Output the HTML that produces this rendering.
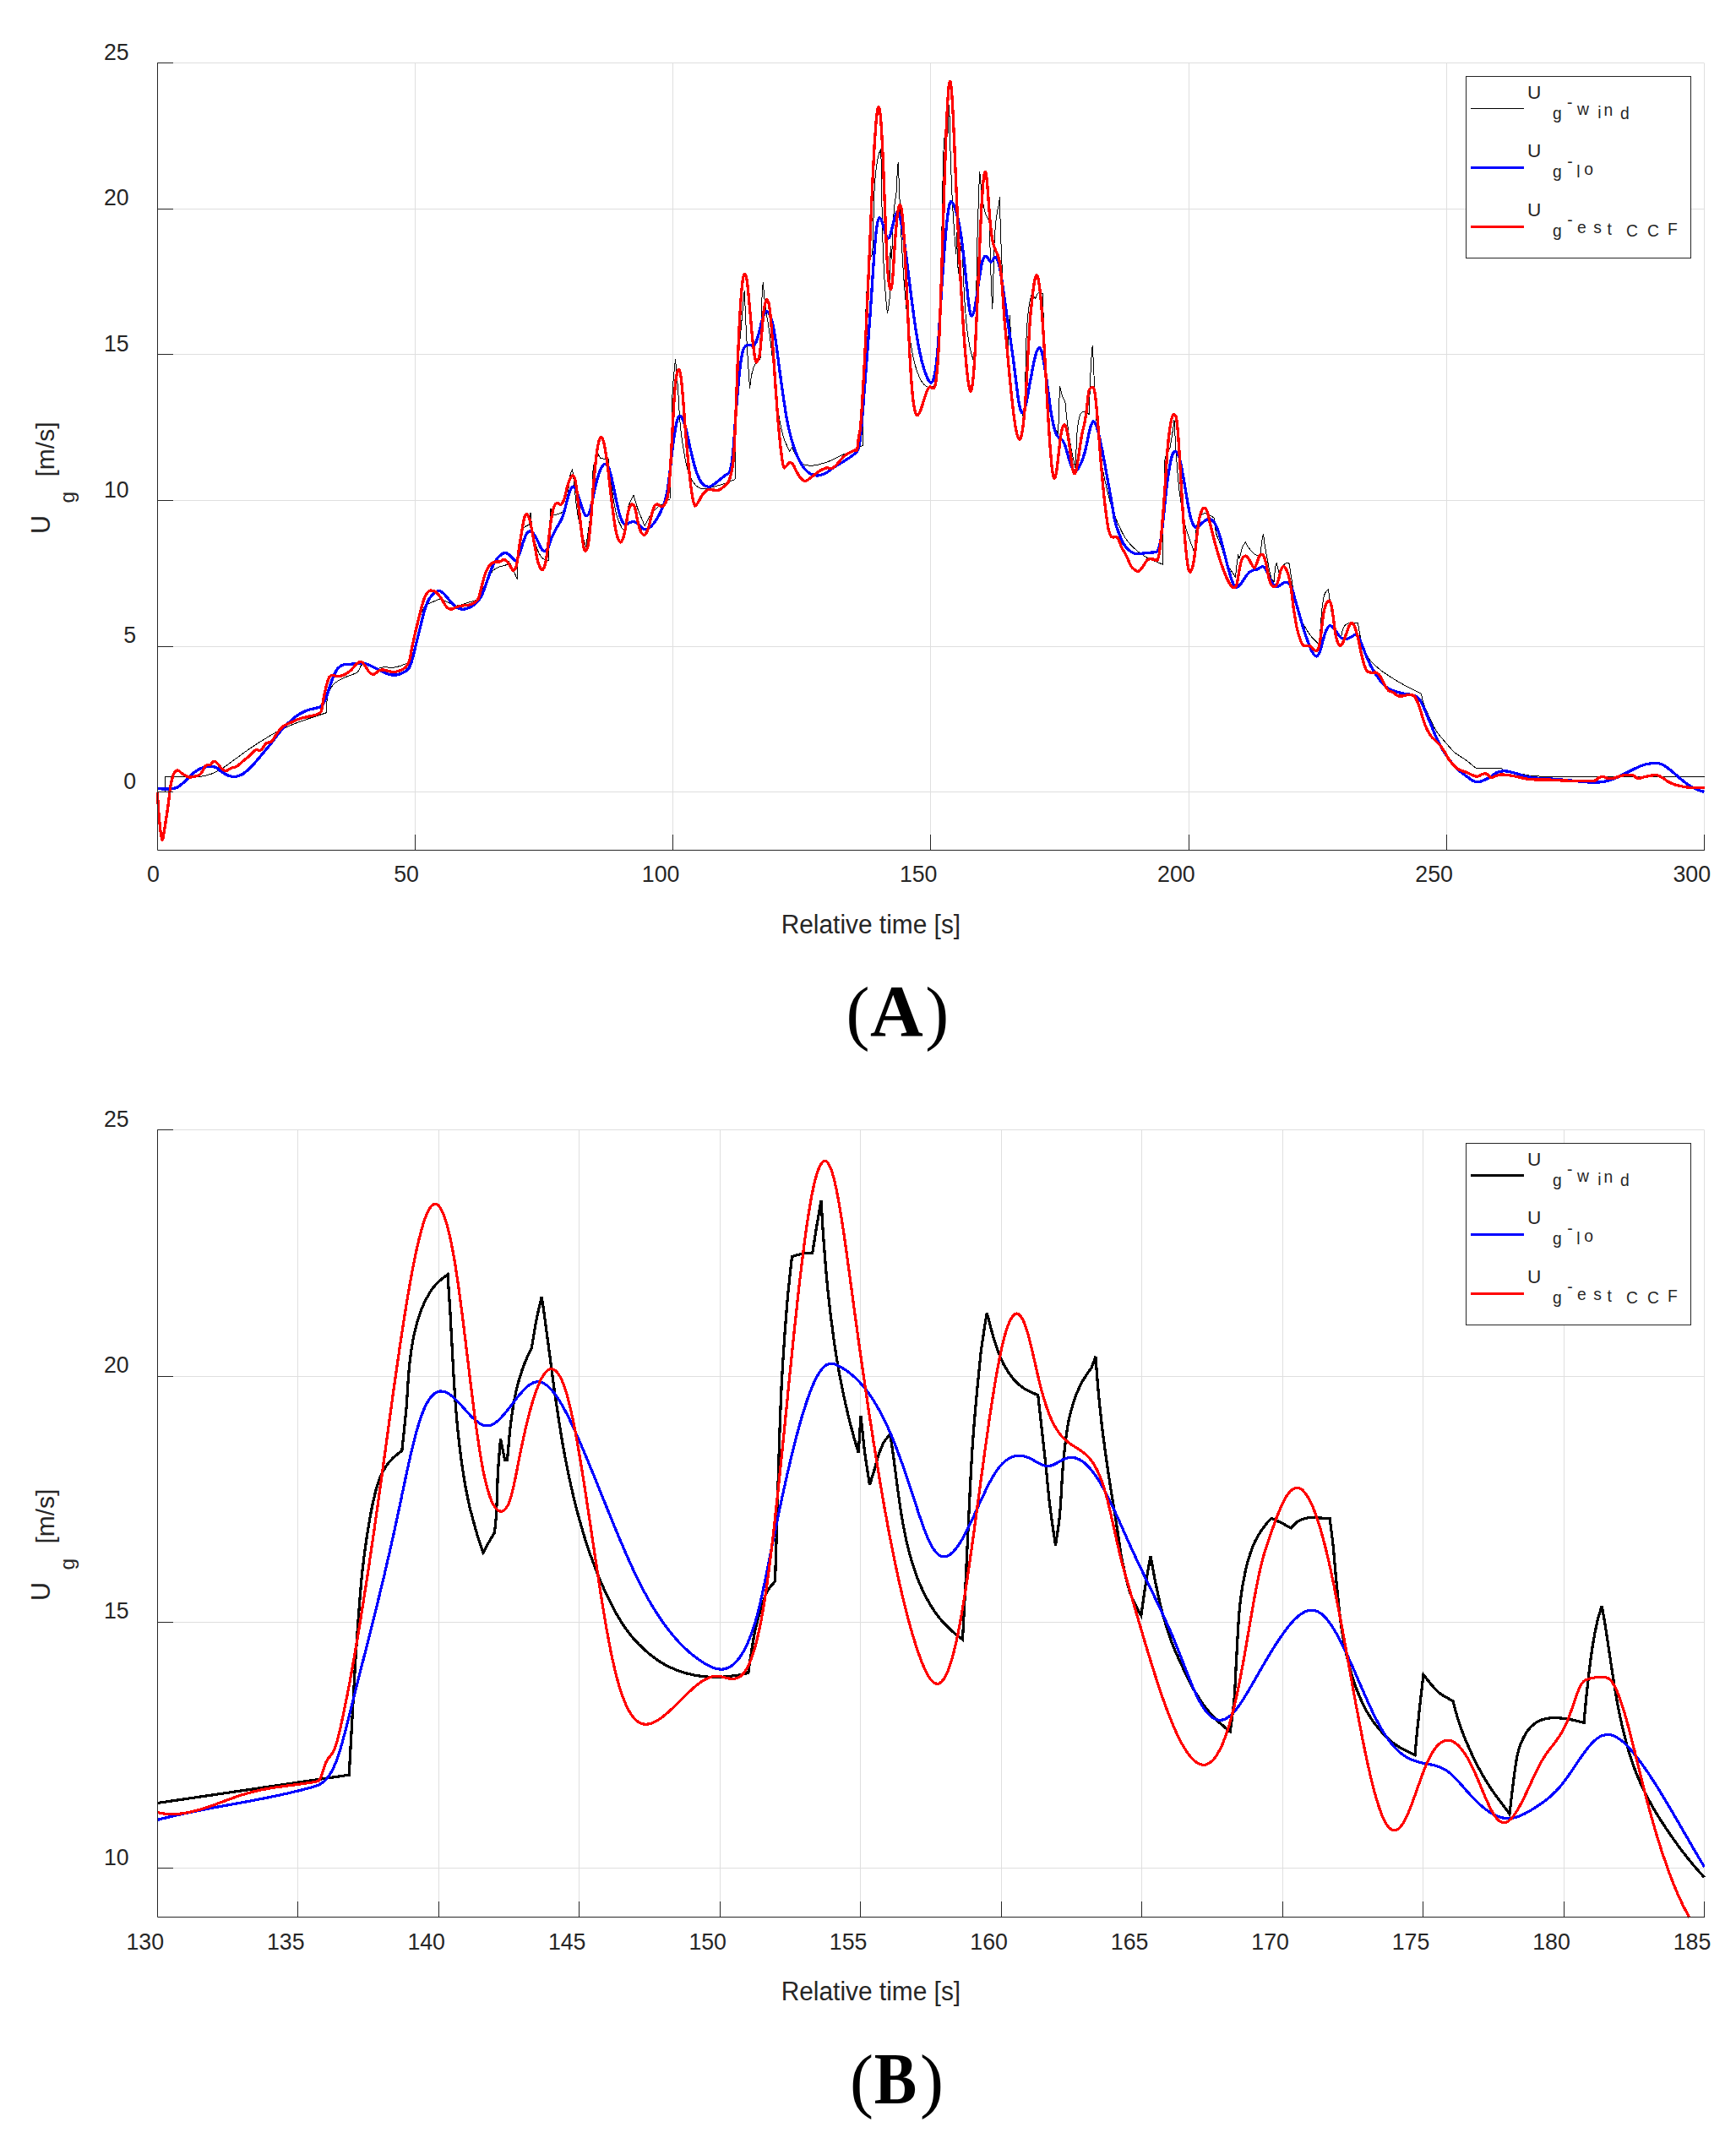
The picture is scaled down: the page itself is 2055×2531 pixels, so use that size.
<!DOCTYPE html>
<html><head><meta charset="utf-8"><title>Figure</title>
<style>html,body{margin:0;padding:0;background:#fff}svg{display:block}</style></head><body>
<svg width="2055" height="2531" viewBox="0 0 2055 2531">
<rect width="2055" height="2531" fill="#fff"/>
<line x1="491.5" y1="74.7" x2="491.5" y2="1006.9" stroke="#dfdfdf" stroke-width="1"/>
<line x1="796.5" y1="74.7" x2="796.5" y2="1006.9" stroke="#dfdfdf" stroke-width="1"/>
<line x1="1101.5" y1="74.7" x2="1101.5" y2="1006.9" stroke="#dfdfdf" stroke-width="1"/>
<line x1="1407.5" y1="74.7" x2="1407.5" y2="1006.9" stroke="#dfdfdf" stroke-width="1"/>
<line x1="1712.5" y1="74.7" x2="1712.5" y2="1006.9" stroke="#dfdfdf" stroke-width="1"/>
<line x1="2017.5" y1="74.7" x2="2017.5" y2="1006.9" stroke="#dfdfdf" stroke-width="1"/>
<line x1="186.3" y1="937.5" x2="2017.4" y2="937.5" stroke="#dfdfdf" stroke-width="1"/>
<line x1="186.3" y1="765.5" x2="2017.4" y2="765.5" stroke="#dfdfdf" stroke-width="1"/>
<line x1="186.3" y1="592.5" x2="2017.4" y2="592.5" stroke="#dfdfdf" stroke-width="1"/>
<line x1="186.3" y1="419.5" x2="2017.4" y2="419.5" stroke="#dfdfdf" stroke-width="1"/>
<line x1="186.3" y1="247.5" x2="2017.4" y2="247.5" stroke="#dfdfdf" stroke-width="1"/>
<line x1="186.3" y1="74.5" x2="2017.4" y2="74.5" stroke="#dfdfdf" stroke-width="1"/>
<line x1="352.5" y1="1337.8" x2="352.5" y2="2269.8" stroke="#dfdfdf" stroke-width="1"/>
<line x1="519.5" y1="1337.8" x2="519.5" y2="2269.8" stroke="#dfdfdf" stroke-width="1"/>
<line x1="685.5" y1="1337.8" x2="685.5" y2="2269.8" stroke="#dfdfdf" stroke-width="1"/>
<line x1="852.5" y1="1337.8" x2="852.5" y2="2269.8" stroke="#dfdfdf" stroke-width="1"/>
<line x1="1018.5" y1="1337.8" x2="1018.5" y2="2269.8" stroke="#dfdfdf" stroke-width="1"/>
<line x1="1185.5" y1="1337.8" x2="1185.5" y2="2269.8" stroke="#dfdfdf" stroke-width="1"/>
<line x1="1351.5" y1="1337.8" x2="1351.5" y2="2269.8" stroke="#dfdfdf" stroke-width="1"/>
<line x1="1518.5" y1="1337.8" x2="1518.5" y2="2269.8" stroke="#dfdfdf" stroke-width="1"/>
<line x1="1684.5" y1="1337.8" x2="1684.5" y2="2269.8" stroke="#dfdfdf" stroke-width="1"/>
<line x1="1851.5" y1="1337.8" x2="1851.5" y2="2269.8" stroke="#dfdfdf" stroke-width="1"/>
<line x1="2017.5" y1="1337.8" x2="2017.5" y2="2269.8" stroke="#dfdfdf" stroke-width="1"/>
<line x1="186.4" y1="2211.5" x2="2017.6" y2="2211.5" stroke="#dfdfdf" stroke-width="1"/>
<line x1="186.4" y1="1920.5" x2="2017.6" y2="1920.5" stroke="#dfdfdf" stroke-width="1"/>
<line x1="186.4" y1="1629.5" x2="2017.6" y2="1629.5" stroke="#dfdfdf" stroke-width="1"/>
<line x1="186.4" y1="1337.5" x2="2017.6" y2="1337.5" stroke="#dfdfdf" stroke-width="1"/>
<clipPath id="clipA"><rect x="184.8" y="73.7" width="1834.1" height="934.2"/></clipPath>
<g clip-path="url(#clipA)" fill="none" stroke-linejoin="round" stroke-linecap="butt" shape-rendering="crispEdges">
<path d="M186.2 937.5L195.2 937.5L195.8 919.2C209.7 919.2 223.7 920.0 237.5 919.2C241.8 919.0 246.0 917.7 250.0 916.2C254.3 914.6 258.6 912.5 262.5 910.0C268.6 906.2 274.2 901.7 280.0 897.5C285.8 893.3 291.6 889.0 297.5 885.0C303.2 881.1 309.1 877.3 315.0 873.8C320.7 870.3 326.5 866.7 332.5 863.8C338.2 860.9 344.1 858.6 350.0 856.2C355.8 854.0 361.6 852.0 367.5 850.0C373.7 847.9 380.0 845.8 386.2 843.8C386.5 839.2 386.4 834.5 387.0 830.0C387.6 825.8 388.4 821.4 390.0 817.5C391.1 814.8 393.0 812.2 395.0 810.0C396.4 808.5 398.2 807.3 400.0 806.2C403.2 804.4 406.6 802.7 410.0 801.2C413.7 799.7 417.5 798.4 421.2 797.0C422.1 796.3 423.2 795.9 423.8 795.0C425.3 792.7 426.3 790.0 427.5 787.5C429.2 787.1 430.9 786.1 432.5 786.2C435.0 786.5 437.5 787.9 440.0 788.8C442.5 789.6 445.0 791.1 447.5 791.2C450.0 791.4 452.5 789.6 455.0 789.5C457.5 789.4 460.0 790.6 462.5 790.5C465.8 790.4 469.3 789.6 472.5 788.8C475.9 787.8 479.2 786.2 482.5 785.0C483.7 781.7 485.5 778.5 486.2 775.0C488.8 763.5 489.6 751.4 492.5 740.0C493.8 734.8 496.2 729.8 498.8 725.0C500.4 721.8 502.4 718.6 505.0 716.2C507.0 714.4 509.9 713.6 512.5 712.5C515.3 711.3 518.4 709.0 521.2 709.5C527.5 710.5 533.6 716.3 540.0 717.0C544.9 717.5 550.1 714.5 555.0 713.0C558.8 711.8 563.7 711.4 566.2 708.8C569.5 705.4 570.3 699.5 572.5 695.0C574.9 690.0 576.9 684.6 580.0 680.0C581.9 677.1 584.5 674.2 587.5 672.5C591.6 670.2 597.2 670.0 601.2 668.0C602.2 667.5 602.0 664.5 602.5 665.0C604.1 666.8 605.9 671.6 607.5 675.0C609.2 678.7 610.8 682.5 612.5 686.2C612.9 674.2 612.3 661.9 613.8 650.0C614.8 641.5 616.8 632.5 620.0 625.0C620.9 622.9 624.2 622.5 626.2 621.2L628.0 607.0C628.7 613.0 629.0 619.1 630.0 625.0C631.3 632.6 632.7 640.2 635.0 647.5C636.4 651.9 638.5 656.4 641.2 660.0C642.7 661.9 645.3 662.7 647.5 663.8C648.0 664.0 648.7 663.8 649.2 663.8C649.7 650.8 649.9 637.9 650.5 625.0C650.8 617.5 651.5 610.0 652.0 602.5C652.6 604.6 652.4 607.7 653.8 608.8C655.1 609.8 658.0 609.2 660.0 608.8C662.2 608.3 664.2 607.1 666.2 606.2C667.9 600.8 670.1 595.5 671.2 590.0C673.1 581.0 673.4 571.6 675.0 562.5C675.4 560.1 676.7 557.8 677.5 555.5C678.3 562.0 679.3 568.5 680.0 575.0C680.9 583.3 681.3 591.7 682.5 600.0C683.8 609.2 685.4 618.5 687.5 627.5C689.1 634.3 691.7 640.8 693.8 647.5C695.8 631.7 698.5 615.9 700.0 600.0C701.5 584.2 700.5 568.1 702.5 552.5C703.2 547.3 706.2 542.5 708.0 537.5C709.1 539.2 709.6 541.8 711.2 542.5C713.6 543.6 717.1 542.8 720.0 543.0C721.2 553.7 722.2 564.4 723.8 575.0C725.5 586.7 727.1 598.6 730.0 610.0C731.3 615.2 733.6 620.4 736.2 625.0C737.0 626.3 738.8 626.7 740.0 627.5C741.2 618.3 741.6 608.9 743.8 600.0C744.9 595.2 747.9 590.8 750.0 586.2C751.7 591.7 753.1 597.2 755.0 602.5C757.5 609.3 760.5 615.8 763.2 622.5C765.5 618.3 767.4 613.9 770.0 610.0C772.1 606.8 774.7 603.8 777.5 601.2C779.7 599.2 782.5 597.9 785.0 596.2C787.7 594.4 790.3 592.6 793.0 590.8C793.4 577.2 793.9 563.6 794.2 550.0C795.0 520.8 795.0 491.6 796.2 462.5C796.8 450.0 798.4 437.5 799.5 425.0C800.5 436.7 801.6 448.3 802.5 460.0C803.5 473.3 803.8 486.7 805.0 500.0C805.9 510.0 807.2 520.1 808.8 530.0C810.1 538.4 811.5 546.9 813.8 555.0C815.2 560.2 817.2 565.5 820.0 570.0C821.8 573.0 824.6 575.8 827.5 577.5C829.6 578.7 832.5 578.9 835.0 578.8C838.4 578.5 841.7 577.2 845.0 576.2C849.2 575.1 853.4 573.9 857.5 572.5C861.7 571.0 865.8 569.2 870.0 567.5C870.4 545.0 870.7 522.5 871.2 500.0C872.0 469.2 872.9 438.3 873.8 407.5L876.2 400.0L881.2 343.8C882.1 362.5 882.7 381.3 883.8 400.0C884.8 420.0 886.3 440.0 887.5 460.0C888.3 454.2 888.8 448.2 890.0 442.5C890.8 438.7 891.9 434.6 893.8 431.2C895.4 428.4 898.3 426.2 900.5 423.8C900.8 403.3 900.9 382.9 901.5 362.5C901.8 353.1 902.7 343.7 903.2 334.2C904.2 344.5 905.0 354.8 906.2 365.0C907.2 372.5 909.0 380.0 910.0 387.5C911.9 401.6 913.4 415.8 915.0 430.0C917.2 449.2 918.5 468.4 921.2 487.5C922.7 497.6 924.7 507.7 927.5 517.5C929.1 523.3 932.2 528.7 934.5 534.2L937.5 530.0C938.7 532.5 939.9 535.1 941.2 537.5C943.2 540.9 944.8 544.9 947.5 547.5C949.4 549.3 952.4 550.3 955.0 550.8C958.2 551.3 961.7 551.3 965.0 550.8C970.0 550.0 974.8 548.2 979.7 546.9L1021.4 527.2C1021.8 502.4 1022.2 477.6 1022.6 452.8C1023.0 432.8 1023.4 412.8 1024.0 392.8C1024.2 383.9 1024.6 374.9 1025.0 366.0C1025.4 356.3 1025.9 346.5 1026.5 336.8C1026.9 331.0 1027.3 325.2 1027.9 319.5C1028.3 316.5 1028.8 313.6 1029.4 310.7C1029.8 308.6 1030.3 306.6 1030.9 304.6C1031.5 303.0 1032.2 301.4 1032.8 299.7C1033.1 290.0 1033.5 280.3 1033.8 270.6C1034.0 260.5 1034.1 250.4 1034.4 240.3C1034.7 232.8 1035.0 225.3 1035.5 217.8C1035.9 212.0 1036.4 206.2 1037.1 200.4C1037.5 196.6 1038.1 192.8 1038.8 189.1C1039.3 186.6 1039.8 184.2 1040.6 181.8C1041.2 179.8 1042.0 177.9 1042.8 176.0C1043.0 185.1 1043.2 194.2 1043.3 203.3C1043.5 215.7 1043.7 228.1 1043.9 240.4C1044.2 252.8 1044.4 265.3 1044.7 277.7C1045.1 289.0 1045.4 300.4 1046.0 311.7C1046.3 320.0 1046.8 328.4 1047.4 336.7C1047.9 345.1 1048.7 353.5 1049.5 361.9C1049.7 365.0 1050.1 368.1 1050.5 371.2C1050.9 368.7 1051.3 366.2 1051.7 363.8C1052.1 361.5 1052.5 359.3 1052.9 357.1C1053.1 352.8 1053.2 348.5 1053.3 344.2C1053.5 334.3 1053.5 324.4 1053.7 314.6C1053.8 306.8 1054.0 299.1 1054.2 291.3L1055.1 306.0L1055.7 306.0C1056.0 296.5 1056.2 287.0 1056.6 277.6C1056.8 271.1 1057.2 264.6 1057.6 258.2C1057.9 253.3 1058.4 248.4 1058.9 243.5C1059.2 240.5 1059.6 237.5 1060.0 234.6C1060.3 232.3 1060.6 230.1 1061.0 227.9C1061.3 221.2 1061.6 214.5 1062.0 207.9C1062.3 202.4 1062.8 197.0 1063.2 191.6C1063.4 198.0 1063.7 204.3 1064.0 210.7C1064.4 219.2 1064.7 227.6 1065.0 236.0C1065.4 244.9 1065.8 253.8 1066.2 262.7C1066.7 275.1 1067.3 287.4 1068.0 299.8C1068.6 311.1 1069.3 322.5 1070.2 333.8C1070.8 342.7 1071.7 351.6 1072.5 360.5C1072.9 365.0 1073.3 369.4 1073.8 373.9C1074.6 380.3 1075.3 386.8 1076.2 393.2C1077.2 400.7 1078.3 408.1 1079.6 415.5C1080.6 421.0 1081.7 426.5 1083.2 431.9C1084.5 436.5 1086.0 441.2 1087.9 445.7C1089.0 448.4 1090.5 451.0 1092.2 453.4C1093.4 455.0 1095.0 456.5 1096.7 457.4C1098.0 458.2 1099.7 458.7 1101.2 458.6C1102.8 458.6 1104.4 457.8 1105.9 457.1C1106.7 456.8 1107.3 456.1 1108.0 455.6C1108.2 451.6 1108.3 447.5 1108.5 443.5C1108.9 436.6 1109.1 429.6 1109.7 422.7C1110.3 414.8 1110.9 406.9 1112.0 399.0C1112.3 396.4 1113.2 393.9 1113.8 391.3C1114.0 373.2 1114.2 355.0 1114.3 336.8C1114.5 322.0 1114.6 307.2 1114.7 292.3C1114.9 277.5 1115.1 262.7 1115.3 247.9C1115.6 230.6 1116.0 213.3 1116.4 196.0C1116.7 185.2 1117.1 174.3 1117.5 163.4C1118.2 162.8 1118.9 162.0 1119.8 161.5C1120.4 161.1 1121.2 161.0 1121.9 160.7C1122.2 155.2 1122.5 149.7 1122.7 144.2C1123.1 137.5 1123.4 130.8 1123.8 124.1C1124.0 133.8 1124.1 143.4 1124.4 153.0C1124.6 164.9 1124.9 176.7 1125.3 188.6C1125.7 200.0 1126.1 211.4 1126.6 222.7C1127.0 231.2 1127.4 239.6 1127.9 248.0C1128.4 256.3 1128.9 264.6 1129.5 273.0C1129.9 278.4 1130.4 283.9 1130.8 289.3C1131.2 293.3 1131.5 297.3 1131.9 301.2L1132.4 275.3C1132.7 283.9 1132.9 292.6 1133.3 301.2C1133.6 308.7 1134.0 316.2 1134.3 323.8C1134.7 320.2 1135.0 316.6 1135.3 313.1C1135.7 309.6 1135.9 306.2 1136.3 302.7C1136.6 299.7 1136.9 296.8 1137.4 293.8C1137.7 291.8 1138.3 289.9 1138.8 287.9C1139.1 294.1 1139.4 300.4 1139.6 306.6C1139.9 314.1 1140.2 321.6 1140.5 329.1C1140.9 336.7 1141.2 344.3 1141.6 351.9C1142.0 358.4 1142.4 364.9 1143.0 371.4C1143.5 378.2 1144.2 385.0 1145.0 391.8C1145.7 397.1 1146.5 402.3 1147.4 407.5C1148.1 411.5 1149.0 415.4 1150.0 419.3C1150.9 422.5 1152.1 425.7 1153.2 428.9C1153.5 430.0 1154.1 431.0 1154.5 432.1C1154.7 419.1 1155.0 406.1 1155.2 393.2C1155.4 379.3 1155.5 365.5 1155.7 351.6C1156.1 331.8 1156.3 312.0 1156.7 292.3C1157.2 272.5 1157.8 252.8 1158.4 233.1C1158.6 225.7 1159.0 218.3 1159.4 211.0C1159.5 208.3 1159.6 205.6 1159.8 203.0C1160.0 205.6 1160.2 208.2 1160.4 210.8C1160.8 215.7 1161.2 220.7 1161.7 225.7C1162.2 230.1 1162.7 234.6 1163.4 239.0C1164.0 242.5 1164.7 246.0 1165.6 249.4C1166.1 251.6 1166.8 253.9 1167.8 255.9C1168.6 257.6 1169.8 259.2 1170.9 260.8C1171.1 267.3 1171.3 273.9 1171.6 280.5C1171.9 289.4 1172.2 298.3 1172.5 307.2C1172.8 317.0 1173.0 326.9 1173.4 336.8C1173.8 346.7 1174.2 356.6 1174.7 366.4C1175.0 359.2 1175.4 351.9 1175.6 344.6C1175.9 333.1 1176.0 321.5 1176.3 309.9C1176.6 300.5 1176.8 291.0 1177.3 281.5C1177.6 275.8 1178.2 270.0 1178.7 264.2C1179.0 260.9 1179.5 257.6 1180.0 254.3C1180.3 251.8 1180.8 249.3 1181.3 246.9C1181.6 245.1 1182.1 243.4 1182.5 241.7L1183.4 233.5C1183.5 240.7 1183.7 247.9 1183.9 255.1C1184.2 265.0 1184.5 274.8 1184.8 284.7C1185.2 294.7 1185.6 304.7 1186.1 314.6C1186.4 322.1 1186.8 329.6 1187.2 337.0C1187.6 344.5 1187.9 351.9 1188.3 359.4C1188.5 364.2 1188.7 369.0 1189.0 373.8C1189.5 382.0 1190.0 390.1 1190.7 398.3C1191.2 402.8 1191.9 407.2 1192.6 411.7C1192.8 412.9 1193.0 414.1 1193.2 415.3C1193.6 407.9 1193.9 400.5 1194.2 393.1C1194.6 386.6 1194.9 380.1 1195.3 373.5C1195.6 379.0 1195.9 384.5 1196.2 390.0C1196.7 397.4 1197.1 404.8 1197.8 412.2C1198.4 419.7 1199.1 427.2 1200.0 434.7C1200.6 440.2 1201.4 445.7 1202.2 451.2C1202.9 455.9 1203.6 460.5 1204.3 465.2C1204.5 466.1 1204.6 467.0 1204.8 468.0C1205.5 471.5 1206.1 475.1 1206.9 478.7C1207.7 481.9 1208.5 485.2 1209.5 488.4C1210.4 491.3 1211.6 494.0 1212.6 496.8C1212.9 489.6 1213.2 482.3 1213.4 475.0C1213.7 465.0 1213.8 455.0 1213.9 445.0C1214.2 432.5 1214.3 420.0 1214.7 407.4C1215.0 399.1 1215.4 390.8 1216.0 382.5C1216.3 377.2 1216.9 372.0 1217.5 366.8C1217.9 363.7 1218.4 360.6 1219.0 357.5C1219.4 355.1 1220.0 352.7 1220.6 350.3C1220.9 349.3 1221.2 348.2 1221.5 347.2C1222.2 348.2 1222.9 349.1 1223.6 350.1C1224.3 351.3 1225.0 352.6 1225.7 353.8C1226.2 352.4 1226.5 350.8 1227.2 349.4C1227.7 348.4 1228.4 347.3 1229.3 346.9C1230.0 346.5 1231.2 346.8 1232.1 346.9C1232.8 347.0 1233.5 347.3 1234.2 347.5C1234.4 353.7 1234.7 360.0 1234.9 366.2C1235.2 376.6 1235.4 387.0 1235.8 397.4C1236.1 407.4 1236.4 417.4 1236.9 427.3C1237.4 436.8 1238.0 446.2 1238.8 455.6C1239.4 462.6 1240.3 469.5 1241.2 476.5C1241.8 480.9 1242.6 485.2 1243.6 489.6C1244.4 493.3 1245.3 496.9 1246.4 500.5C1247.2 502.8 1248.0 505.1 1249.1 507.3C1250.1 509.3 1251.5 511.2 1252.7 513.1C1252.9 505.2 1253.1 497.3 1253.4 489.4C1253.7 478.6 1254.1 467.7 1254.5 456.8C1255.1 459.3 1255.7 461.8 1256.3 464.2C1256.9 466.2 1257.4 468.3 1258.2 470.2C1258.9 472.0 1260.0 473.6 1260.9 475.4C1261.2 479.0 1261.5 482.8 1261.9 486.4C1262.4 491.9 1263.0 497.4 1263.7 502.8C1264.5 509.2 1265.4 515.6 1266.4 522.0C1267.2 527.0 1268.1 531.9 1269.2 536.9C1270.4 542.8 1271.9 548.7 1273.2 554.6C1273.5 547.9 1273.7 541.1 1273.9 534.3C1274.3 526.5 1274.5 518.7 1275.1 510.9C1275.4 506.7 1276.0 502.4 1276.7 498.3C1277.1 496.0 1277.7 493.8 1278.5 491.6C1278.8 490.5 1279.4 489.5 1280.1 488.6C1280.5 488.1 1281.2 487.6 1281.8 487.3C1282.4 487.1 1283.2 487.1 1283.8 487.2C1284.6 487.4 1285.5 487.8 1286.2 488.2C1286.9 488.6 1287.5 489.1 1288.1 489.5C1288.5 489.9 1288.9 490.3 1289.3 490.6C1289.6 482.8 1289.8 475.0 1290.0 467.2C1290.4 457.3 1290.7 447.4 1291.2 437.6C1291.5 431.1 1291.9 424.7 1292.3 418.3C1292.6 415.1 1292.9 411.9 1293.2 408.7C1293.5 413.4 1293.8 418.1 1294.0 422.9C1294.5 432.7 1294.9 442.6 1295.4 452.5C1295.8 460.9 1296.1 469.3 1296.7 477.7C1297.2 486.6 1297.8 495.4 1298.5 504.2C1299.0 510.6 1299.7 516.9 1300.4 523.2C1300.9 528.1 1301.6 533.0 1302.3 537.8C1302.8 541.4 1303.4 544.9 1304.1 548.5C1304.5 551.2 1305.0 554.0 1305.6 556.7C1306.2 560.1 1306.9 563.5 1307.6 566.9C1308.5 571.2 1309.5 575.6 1310.5 579.9C1311.4 583.7 1312.3 587.6 1313.3 591.4C1314.0 594.0 1314.8 596.5 1315.5 599.1C1317.8 605.2 1319.8 611.5 1322.5 617.5C1325.5 624.3 1328.4 631.4 1332.5 637.5C1335.9 642.6 1340.4 647.1 1345.0 651.2C1348.8 654.6 1353.1 657.5 1357.5 660.0C1361.4 662.2 1365.8 663.7 1370.0 665.5C1372.1 666.4 1374.2 667.3 1376.2 668.2C1376.5 652.2 1376.7 636.1 1377.0 620.0C1377.5 595.0 1378.2 570.0 1378.8 545.0C1379.2 543.3 1379.3 541.6 1380.0 540.0C1381.4 536.6 1383.3 533.3 1385.0 530.0C1385.8 525.0 1386.7 520.0 1387.5 515.0C1388.4 509.2 1389.2 503.3 1390.0 497.5C1390.8 511.7 1391.5 525.8 1392.5 540.0C1393.5 554.2 1394.5 568.4 1396.2 582.5C1397.8 595.1 1399.8 607.6 1402.5 620.0C1404.0 626.8 1406.5 633.4 1408.8 640.0C1410.4 645.0 1412.4 650.0 1414.2 655.0C1414.9 645.0 1414.9 634.9 1416.2 625.0C1416.8 620.7 1418.1 616.2 1420.0 612.5C1421.0 610.6 1423.1 608.7 1425.0 608.0C1426.4 607.5 1428.5 608.1 1430.0 608.8C1432.5 609.8 1434.7 611.6 1437.0 613.0C1438.0 619.5 1438.4 626.2 1440.0 632.5C1441.1 636.8 1443.5 640.8 1445.0 645.0C1447.7 652.4 1449.2 660.4 1452.5 667.5C1455.1 673.1 1459.2 678.0 1462.5 683.2C1463.2 677.2 1463.7 671.1 1464.5 665.0C1464.8 662.5 1465.3 660.0 1465.8 657.5L1467.0 661.2C1467.6 659.2 1468.2 657.1 1468.8 655.0C1469.6 652.1 1470.0 649.0 1471.2 646.2C1472.0 644.6 1473.4 643.4 1474.5 642.0C1475.5 643.8 1476.3 645.8 1477.5 647.5C1479.0 649.7 1480.6 651.9 1482.5 653.8C1484.0 655.2 1485.7 656.5 1487.5 657.5C1488.9 658.2 1490.5 658.3 1492.0 658.8C1492.6 652.5 1492.9 646.2 1493.8 640.0C1494.1 637.5 1494.9 635.0 1495.5 632.5C1496.3 638.3 1497.0 644.2 1498.0 650.0C1499.0 655.9 1500.1 661.7 1501.2 667.5C1502.4 673.3 1503.2 679.4 1505.0 685.0C1505.5 686.5 1507.0 687.5 1508.0 688.8C1508.7 682.5 1509.1 676.2 1510.0 670.0C1510.2 668.9 1510.8 668.0 1511.2 667.0L1513.8 677.5C1515.0 675.4 1516.1 673.2 1517.5 671.2C1518.6 669.8 1519.9 668.5 1521.2 667.5C1522.1 666.9 1523.3 666.2 1524.2 666.2C1525.0 666.2 1525.6 667.1 1526.2 667.5C1527.1 673.3 1527.8 679.2 1528.8 685.0C1529.9 692.5 1531.0 700.1 1532.5 707.5C1533.9 714.2 1535.2 721.1 1537.5 727.5C1539.4 732.7 1542.2 737.7 1545.0 742.5C1547.2 746.4 1549.7 750.3 1552.5 753.8C1555.1 756.9 1558.3 759.6 1561.2 762.5C1561.8 756.7 1562.5 750.8 1563.0 745.0C1563.7 736.7 1564.1 728.3 1565.0 720.0C1565.6 715.0 1566.3 709.9 1567.5 705.0C1567.9 703.2 1568.9 701.5 1570.0 700.0C1570.6 699.2 1571.7 698.7 1572.5 698.0C1573.2 702.8 1573.8 707.7 1574.5 712.5C1575.5 719.2 1576.0 726.0 1577.5 732.5C1578.7 737.6 1580.4 742.7 1582.5 747.5C1583.7 750.2 1585.8 752.5 1587.5 755.0C1588.2 751.7 1588.4 748.2 1589.5 745.0C1590.1 743.2 1591.1 741.3 1592.5 740.0C1593.8 738.8 1595.7 738.0 1597.5 737.5C1599.5 737.0 1601.7 737.0 1603.8 737.0C1605.0 737.0 1606.3 737.3 1607.5 737.5C1608.3 742.5 1608.9 747.6 1610.0 752.5C1611.4 758.4 1612.7 764.4 1615.0 770.0C1616.9 774.4 1619.4 778.8 1622.5 782.5C1626.1 786.7 1630.6 790.3 1635.0 793.8C1639.7 797.4 1644.9 800.6 1650.0 803.8C1654.9 806.8 1659.9 809.8 1665.0 812.5C1670.7 815.6 1676.7 818.3 1682.5 821.2C1683.3 825.0 1683.7 828.9 1685.0 832.5C1687.1 838.5 1689.8 844.2 1692.5 850.0C1694.8 855.1 1697.0 860.3 1700.0 865.0C1702.8 869.5 1706.5 873.5 1710.0 877.5C1714.0 882.2 1717.9 887.2 1722.5 891.2C1725.9 894.3 1730.3 896.0 1734.0 898.8C1738.5 902.0 1742.7 905.8 1747.0 909.2L1777.5 909.2C1778.3 910.1 1778.9 911.4 1780.0 911.8C1784.7 913.3 1790.0 914.0 1795.0 915.0C1800.0 916.0 1805.0 917.3 1810.0 918.0C1815.0 918.7 1820.0 918.8 1825.0 919.2L2017.5 919.2" stroke="#000" stroke-width="1.00" stroke-linejoin="miter"/>
<path d="M186.2 933.8C191.7 933.8 197.1 934.1 202.5 933.8C205.0 933.6 207.8 933.1 210.0 932.0C212.8 930.6 215.1 928.3 217.5 926.2C220.1 923.9 222.4 921.1 225.0 918.8C227.4 916.6 229.8 914.3 232.5 912.5C234.8 911.0 237.4 909.6 240.0 908.8C242.4 908.0 245.0 907.6 247.5 907.5C250.0 907.4 252.8 907.3 255.0 908.2C257.8 909.4 259.9 912.1 262.5 913.8C264.9 915.3 267.3 917.0 270.0 918.0C272.6 918.9 275.6 919.8 278.2 919.5C281.4 919.2 284.8 917.9 287.5 916.2C291.2 913.9 294.4 910.6 297.5 907.5C301.0 904.0 304.2 900.1 307.5 896.2C311.7 891.3 315.9 886.3 320.0 881.2C324.3 875.9 328.0 870.1 332.5 865.0C336.4 860.6 340.6 856.4 345.0 852.5C348.1 849.7 351.4 847.1 355.0 845.0C358.1 843.1 361.6 841.7 365.0 840.5C368.2 839.4 371.7 838.9 375.0 838.0C376.7 837.5 378.8 837.4 380.0 836.2C382.1 834.3 383.8 831.5 385.0 828.8C387.1 824.0 388.3 818.7 390.0 813.8C391.6 809.1 393.0 804.4 395.0 800.0C396.4 796.9 397.9 793.7 400.0 791.2C401.6 789.4 403.9 787.8 406.2 787.0C408.9 786.1 412.1 786.4 415.0 786.2C418.3 786.0 421.7 785.8 425.0 785.8C427.5 785.7 430.1 785.3 432.5 785.8C435.1 786.3 437.5 787.6 440.0 788.8C442.5 789.9 445.0 791.3 447.5 792.5C450.0 793.7 452.4 795.2 455.0 796.2C457.4 797.3 459.9 798.3 462.5 798.8C464.9 799.2 467.6 799.2 470.0 798.8C472.6 798.3 475.2 797.5 477.5 796.2C479.8 795.0 482.2 793.3 483.8 791.2C485.6 788.8 486.6 785.5 487.5 782.5C489.5 775.9 490.8 769.2 492.5 762.5C494.2 755.8 495.8 749.2 497.5 742.5C499.2 735.8 500.5 729.1 502.5 722.5C503.8 718.2 505.3 713.9 507.5 710.0C509.1 707.2 511.3 704.5 513.8 702.5C515.5 701.0 518.0 699.3 520.0 699.5C522.2 699.7 524.4 702.0 526.2 703.8C528.6 706.0 530.3 708.9 532.5 711.2C534.9 713.9 537.1 716.8 540.0 718.8C542.1 720.2 545.0 721.1 547.5 721.2C550.0 721.4 552.7 720.5 555.0 719.5C557.7 718.4 560.3 716.9 562.5 715.0C564.9 712.9 567.2 710.3 568.8 707.5C571.4 702.8 573.1 697.6 575.0 692.5C577.2 686.7 578.9 680.7 581.2 675.0C583.0 670.7 584.9 666.3 587.5 662.5C589.1 660.1 591.4 657.9 593.8 656.2C595.2 655.3 597.2 654.3 598.8 654.5C600.5 654.7 602.3 656.3 603.8 657.5C605.6 659.1 606.9 661.5 608.8 663.0C609.4 663.5 610.8 664.3 611.2 663.8C612.9 661.7 613.9 658.0 615.0 655.0C616.8 650.1 618.2 644.9 620.0 640.0C621.1 637.0 622.1 633.9 623.8 631.2C624.5 630.1 625.9 628.8 627.0 628.8C628.4 628.8 630.2 630.0 631.2 631.2C633.3 633.8 634.7 637.0 636.2 640.0C638.0 643.3 639.2 647.0 641.2 650.0C642.1 651.2 643.9 652.7 645.0 652.5C646.4 652.3 648.0 650.3 648.8 648.8C650.5 645.3 651.0 641.1 652.5 637.5C653.9 634.1 655.7 630.8 657.5 627.5C659.1 624.5 660.9 621.7 662.5 618.8C663.8 616.3 665.3 613.9 666.2 611.2C667.8 606.8 668.8 602.1 670.0 597.5C671.2 592.9 672.3 588.3 673.8 583.8C674.5 581.4 675.4 578.8 676.8 577.0C677.2 576.3 678.7 575.8 679.2 576.2C680.6 577.2 681.7 579.4 682.5 581.2C684.1 584.9 685.0 588.8 686.2 592.5C687.5 596.2 688.5 600.1 690.0 603.8C691.0 606.2 692.2 610.0 693.8 610.8C694.7 611.2 696.9 609.0 697.5 607.5C699.4 602.9 700.1 597.5 701.2 592.5C702.6 586.7 703.6 580.8 705.0 575.0C706.1 570.4 707.3 565.7 708.8 561.2C709.8 558.2 710.8 555.1 712.5 552.5C713.3 551.2 715.0 549.5 716.2 549.5C717.5 549.5 719.3 551.1 720.0 552.5C721.8 556.3 722.7 560.8 723.8 565.0C725.2 570.8 726.3 576.7 727.5 582.5C728.7 588.3 729.9 594.2 731.2 600.0C732.4 604.6 733.2 609.4 735.0 613.8C736.1 616.5 737.9 620.2 740.0 621.2C741.3 621.9 743.3 619.4 745.0 618.8C746.6 618.2 748.4 617.3 750.0 617.5C751.7 617.7 753.5 618.9 755.0 620.0C756.9 621.4 758.1 623.7 760.0 625.0C761.3 625.9 763.0 626.9 764.5 626.8C766.4 626.5 768.5 625.1 770.0 623.8C772.4 621.6 774.5 618.9 776.2 616.2C778.6 612.7 780.8 608.9 782.5 605.0C785.0 599.3 787.3 593.5 788.8 587.5C790.7 579.3 791.4 570.9 792.5 562.5C793.9 551.7 794.8 540.8 796.2 530.0C797.3 521.6 798.5 513.3 800.0 505.0C800.7 501.2 801.5 497.1 803.0 493.8C803.4 492.9 804.9 492.1 805.5 492.5C806.8 493.4 808.0 495.7 808.8 497.5C810.4 501.5 811.4 505.8 812.5 510.0C814.4 517.4 815.7 525.0 817.5 532.5C819.1 539.2 820.6 545.9 822.5 552.5C823.9 557.2 825.4 561.9 827.5 566.2C828.8 569.0 830.3 572.0 832.5 573.8C834.4 575.3 837.6 576.5 840.0 576.2C842.2 576.1 844.3 573.9 846.2 572.5C848.4 571.0 850.4 569.2 852.5 567.5C854.6 565.8 856.6 564.1 858.8 562.5C860.4 561.2 863.1 560.6 863.8 558.8C866.0 552.3 866.7 544.6 867.5 537.5C869.2 520.9 869.9 504.2 871.2 487.5C872.4 473.3 873.5 459.1 875.0 445.0C876.0 435.8 876.9 426.5 878.8 417.5C879.4 414.6 880.7 411.4 882.5 409.5C883.6 408.4 885.8 408.3 887.5 408.2C888.8 408.2 890.2 409.7 891.2 409.2C892.7 408.6 894.2 406.7 895.0 405.0C896.7 401.1 897.6 396.7 898.8 392.5C900.1 387.5 901.0 382.4 902.5 377.5C903.3 374.9 904.1 372.2 905.5 370.0C906.0 369.3 907.3 368.4 908.0 368.8C909.2 369.3 910.6 371.0 911.2 372.5C912.9 376.4 914.1 380.8 915.0 385.0C916.6 392.4 917.7 400.0 918.8 407.5C920.6 420.0 922.0 432.5 923.8 445.0C925.4 456.7 926.9 468.4 928.8 480.0C930.2 489.2 931.7 498.4 933.8 507.5C935.5 515.1 937.5 522.6 940.0 530.0C941.7 535.1 943.8 540.2 946.2 545.0C948.0 548.5 950.0 552.0 952.5 555.0C954.6 557.5 957.2 559.8 960.0 561.2C962.2 562.4 965.0 563.0 967.5 563.0C970.0 563.0 972.6 562.1 975.0 561.2C976.7 560.7 978.2 559.6 979.7 558.8C981.1 557.7 982.4 556.6 983.7 555.6C985.0 554.7 986.3 553.7 987.7 552.9C989.0 552.0 990.3 551.2 991.6 550.4C993.0 549.6 994.3 548.8 995.6 548.0C997.0 547.2 998.3 546.4 999.6 545.6C1000.9 544.8 1002.3 544.0 1003.6 543.1C1004.9 542.3 1006.2 541.4 1007.6 540.4C1008.9 539.5 1010.2 538.4 1011.5 537.3C1012.8 536.3 1014.1 535.8 1015.3 533.2C1016.2 531.5 1017.0 528.5 1017.8 523.1C1018.3 519.9 1018.8 515.8 1019.3 510.8C1019.7 507.0 1020.0 502.7 1020.4 498.2C1020.7 494.1 1021.1 489.8 1021.4 485.5C1021.7 481.2 1022.1 477.0 1022.4 472.7C1022.7 468.5 1023.0 464.3 1023.4 460.0C1023.7 455.8 1024.0 451.6 1024.4 447.3C1024.7 443.1 1025.0 438.8 1025.4 434.6C1025.7 430.4 1026.0 426.1 1026.4 421.9C1026.7 417.7 1027.0 413.4 1027.3 409.1C1027.7 404.9 1028.0 400.7 1028.3 396.4C1028.6 392.2 1028.9 388.0 1029.2 383.6C1029.5 379.4 1029.8 375.2 1030.2 370.9C1030.4 366.7 1030.7 362.4 1031.0 358.1C1031.3 353.9 1031.6 349.6 1031.9 345.2C1032.2 341.0 1032.5 336.7 1032.7 332.4C1033.0 328.1 1033.3 323.8 1033.6 319.6C1033.9 315.2 1034.1 310.9 1034.4 306.7C1034.7 302.3 1035.1 298.0 1035.4 294.0C1035.7 289.4 1036.1 285.1 1036.4 281.3C1036.9 276.3 1037.4 272.3 1037.8 269.0C1038.6 263.4 1039.5 260.2 1040.3 258.8C1041.5 256.7 1042.7 258.6 1043.9 262.0C1044.9 264.6 1045.8 268.1 1046.7 271.5C1047.7 275.1 1048.7 278.5 1049.7 280.5C1050.9 283.0 1052.2 282.6 1053.4 279.4C1054.3 277.0 1055.2 273.5 1056.1 269.7C1057.0 266.2 1057.8 262.5 1058.6 259.4C1059.7 255.4 1060.7 252.3 1061.8 251.4C1062.9 250.5 1064.1 252.6 1065.3 256.8C1066.0 259.6 1066.8 263.3 1067.6 267.6C1068.2 271.1 1068.8 275.0 1069.4 279.2C1070.0 283.0 1070.6 287.0 1071.1 291.2C1071.6 295.1 1072.2 299.1 1072.7 303.2C1073.2 307.2 1073.7 311.3 1074.3 315.4C1074.8 319.4 1075.3 323.4 1075.8 327.5C1076.3 331.6 1076.8 335.6 1077.3 339.7C1077.8 343.8 1078.3 347.8 1078.8 351.8C1079.4 355.9 1079.9 360.0 1080.4 363.9C1080.9 368.1 1081.5 372.1 1082.0 376.0C1082.6 380.1 1083.1 384.1 1083.7 387.9C1084.3 392.0 1084.9 395.9 1085.6 399.6C1086.2 403.6 1086.9 407.4 1087.6 410.9C1088.3 414.8 1089.1 418.5 1089.9 421.8C1090.7 425.6 1091.5 429.0 1092.4 432.0C1093.4 435.5 1094.3 438.6 1095.3 441.3C1096.4 444.3 1097.5 446.9 1098.5 449.0C1099.8 451.5 1101.1 453.3 1102.3 453.0C1103.5 452.8 1104.6 451.0 1105.7 446.5C1106.4 443.8 1107.1 440.1 1107.8 435.2C1108.2 431.8 1108.7 427.8 1109.2 423.0C1109.6 419.3 1109.9 415.1 1110.3 410.3C1110.6 406.4 1110.9 402.1 1111.2 397.6C1111.5 393.4 1111.7 389.1 1112.0 384.7C1112.3 380.5 1112.6 376.1 1112.8 371.8C1113.1 367.5 1113.4 363.2 1113.6 359.0C1113.9 354.6 1114.2 350.4 1114.4 346.1C1114.7 341.8 1115.0 337.5 1115.3 333.3C1115.6 328.9 1115.9 324.7 1116.2 320.5C1116.5 316.1 1116.8 311.9 1117.1 307.7C1117.4 303.3 1117.7 299.1 1118.0 295.0C1118.4 290.5 1118.7 286.3 1119.1 282.3C1119.4 277.8 1119.8 273.6 1120.2 269.7C1120.7 265.2 1121.1 261.0 1121.5 257.3C1122.1 252.5 1122.7 248.5 1123.3 245.5C1124.3 239.9 1125.4 238.0 1126.4 238.7C1127.6 239.4 1128.8 242.1 1130.0 245.0C1130.9 247.5 1131.9 250.5 1132.9 254.2C1133.6 257.2 1134.4 260.7 1135.2 264.8C1135.9 268.2 1136.6 272.0 1137.2 276.2C1137.8 279.8 1138.4 283.8 1138.9 288.1C1139.4 291.9 1139.9 296.0 1140.4 300.3C1140.9 304.2 1141.3 308.4 1141.8 312.6C1142.2 316.7 1142.7 320.8 1143.1 325.1C1143.5 329.2 1143.9 333.4 1144.4 337.5C1144.8 341.8 1145.2 346.0 1145.6 350.0C1146.1 354.5 1146.6 358.7 1147.1 362.2C1147.9 367.6 1148.6 371.3 1149.4 372.9C1150.5 375.4 1151.7 373.7 1152.8 369.2C1153.6 366.5 1154.3 362.6 1155.0 358.2C1155.6 354.6 1156.2 350.6 1156.8 346.4C1157.4 342.5 1157.9 338.4 1158.5 334.5C1159.1 330.4 1159.7 326.3 1160.3 322.7C1161.0 318.3 1161.7 314.4 1162.4 311.5C1163.4 307.2 1164.5 304.7 1165.6 303.7C1166.9 302.5 1168.2 303.4 1169.5 305.6C1170.7 307.7 1171.9 310.8 1173.2 310.5C1174.4 310.2 1175.6 306.6 1176.8 305.1C1178.1 303.5 1179.4 304.4 1180.6 307.5C1181.6 309.7 1182.5 312.9 1183.4 317.2C1184.1 320.4 1184.8 324.2 1185.4 328.4C1186.0 332.1 1186.6 336.0 1187.2 340.2C1187.8 344.0 1188.4 348.1 1188.9 352.1C1189.5 356.1 1190.0 360.1 1190.6 364.1C1191.1 368.2 1191.7 372.1 1192.3 376.0C1192.8 380.0 1193.4 384.0 1194.0 387.9C1194.6 391.8 1195.2 395.7 1195.8 399.7C1196.4 403.6 1196.9 407.5 1197.5 411.5C1198.1 415.4 1198.6 419.3 1199.2 423.5C1199.7 427.3 1200.3 431.3 1200.8 435.5C1201.3 439.4 1201.8 443.6 1202.3 447.7C1202.8 451.8 1203.3 456.0 1203.8 459.9C1204.3 464.3 1204.8 468.4 1205.4 472.0C1206.1 476.7 1206.8 480.4 1207.5 483.2C1208.6 487.6 1209.8 489.4 1210.9 488.5C1212.0 487.8 1213.0 484.9 1214.0 480.5C1214.8 477.4 1215.5 473.6 1216.3 469.5C1217.0 465.8 1217.6 462.0 1218.3 458.2C1219.0 454.4 1219.7 450.6 1220.4 446.9C1221.1 443.0 1221.8 439.2 1222.5 435.7C1223.2 431.8 1224.0 428.1 1224.8 424.9C1225.7 421.0 1226.6 417.6 1227.5 415.3C1228.8 412.1 1230.0 410.7 1231.3 412.1C1232.3 413.3 1233.3 416.3 1234.2 420.8C1234.9 423.9 1235.6 427.8 1236.3 432.1C1236.9 435.7 1237.5 439.7 1238.1 443.9C1238.6 447.7 1239.2 451.8 1239.7 455.8C1240.3 459.8 1240.8 463.9 1241.4 467.9C1241.9 472.0 1242.5 476.0 1243.0 479.8C1243.6 484.0 1244.2 488.0 1244.8 491.6C1245.5 495.9 1246.3 499.6 1247.0 502.7C1247.9 506.7 1248.8 509.9 1249.7 512.3C1250.9 515.3 1252.1 517.0 1253.3 518.1C1254.7 519.2 1256.0 519.6 1257.3 520.8C1258.5 521.9 1259.6 523.9 1260.8 527.4C1261.7 530.2 1262.6 533.6 1263.5 537.0C1264.5 540.4 1265.4 543.7 1266.3 546.6C1267.4 549.9 1268.4 552.6 1269.5 554.5C1270.8 556.9 1272.1 558.0 1273.4 557.6C1274.7 557.2 1275.9 555.5 1277.2 553.2C1278.3 551.1 1279.4 548.8 1280.6 546.1C1281.6 543.7 1282.6 540.9 1283.6 537.4C1284.4 534.5 1285.3 530.9 1286.1 527.1C1286.9 523.5 1287.6 519.8 1288.4 516.2C1289.2 512.3 1290.0 508.7 1290.8 505.8C1292.0 501.7 1293.1 499.2 1294.2 498.9C1295.4 498.6 1296.6 500.6 1297.8 503.9C1298.7 506.5 1299.6 509.8 1300.6 513.6C1301.4 516.9 1302.1 520.4 1302.9 524.2C1303.7 527.7 1304.4 531.4 1305.2 535.2C1305.9 538.8 1306.6 542.6 1307.3 546.4C1308.0 550.1 1308.6 553.9 1309.3 557.7C1310.0 561.5 1310.7 565.3 1311.4 569.0C1312.0 572.9 1312.7 576.6 1313.4 580.4C1314.1 584.2 1314.8 588.0 1315.5 591.7C1317.0 600.3 1318.0 609.0 1320.0 617.5C1321.2 622.6 1323.1 627.6 1325.0 632.5C1326.5 636.3 1327.9 640.3 1330.0 643.8C1331.7 646.5 1333.9 649.1 1336.2 651.2C1338.0 652.9 1340.3 654.2 1342.5 655.0C1344.4 655.7 1346.7 655.6 1348.8 655.5C1351.7 655.4 1354.6 654.8 1357.5 654.5C1360.4 654.2 1363.4 654.2 1366.2 653.8C1367.5 653.5 1369.4 653.6 1370.0 652.5C1371.9 649.0 1373.0 644.3 1373.8 640.0C1375.5 630.1 1376.3 620.0 1377.5 610.0C1378.8 598.3 1379.8 586.6 1381.2 575.0C1382.3 566.6 1383.5 558.3 1385.0 550.0C1385.7 545.9 1386.5 541.7 1388.0 538.0C1388.6 536.6 1390.1 534.6 1391.2 534.5C1392.3 534.4 1393.9 536.2 1394.5 537.5C1396.0 540.5 1396.7 544.1 1397.5 547.5C1399.0 554.1 1400.1 560.8 1401.2 567.5C1402.6 575.0 1403.7 582.5 1405.0 590.0C1406.2 596.7 1407.2 603.4 1408.8 610.0C1409.7 613.8 1410.8 617.8 1412.5 621.2C1413.1 622.5 1414.6 624.1 1415.8 624.2C1417.1 624.4 1418.7 622.9 1420.0 622.0C1421.8 620.7 1423.2 618.8 1425.0 617.5C1426.5 616.3 1428.2 615.0 1430.0 614.5C1431.1 614.2 1432.7 614.4 1433.8 615.0C1435.2 615.8 1436.6 617.2 1437.5 618.8C1439.5 622.2 1441.2 626.1 1442.5 630.0C1444.5 635.7 1445.9 641.6 1447.5 647.5C1449.3 654.1 1450.7 660.9 1452.5 667.5C1454.1 673.4 1455.6 679.3 1457.5 685.0C1458.5 688.0 1459.5 691.3 1461.2 693.8C1461.9 694.6 1463.5 695.3 1464.5 695.0C1466.0 694.5 1467.6 692.7 1468.8 691.2C1470.6 688.9 1472.0 686.2 1473.8 683.8C1475.3 681.6 1476.8 679.2 1478.8 677.5C1480.1 676.3 1482.0 675.7 1483.8 675.0C1485.3 674.4 1487.2 674.4 1488.8 673.8C1490.5 673.0 1492.0 671.0 1493.8 670.8C1495.0 670.6 1496.7 671.5 1497.5 672.5C1499.2 674.6 1500.1 677.5 1501.2 680.0C1502.6 682.9 1503.3 686.1 1505.0 688.8C1506.2 690.7 1508.1 692.7 1510.0 693.8C1511.0 694.3 1512.6 694.1 1513.8 693.8C1515.1 693.3 1516.2 692.0 1517.5 691.2C1518.7 690.6 1519.9 689.7 1521.2 689.5C1522.4 689.3 1524.1 689.3 1525.0 690.0C1526.6 691.1 1527.9 693.1 1528.8 695.0C1530.4 698.9 1531.3 703.3 1532.5 707.5C1534.2 713.3 1535.8 719.2 1537.5 725.0C1539.2 730.8 1540.7 736.7 1542.5 742.5C1544.0 747.5 1545.7 752.5 1547.5 757.5C1549.0 761.7 1550.4 766.1 1552.5 770.0C1553.9 772.6 1556.4 776.8 1558.2 777.0C1559.7 777.2 1561.6 773.4 1562.5 771.2C1564.3 766.9 1564.9 762.0 1566.2 757.5C1567.4 753.7 1568.4 749.9 1570.0 746.2C1570.8 744.4 1571.9 742.4 1573.2 741.2C1573.9 740.7 1575.4 740.8 1576.2 741.2C1577.7 742.0 1578.9 743.6 1580.0 745.0C1581.8 747.4 1583.0 750.3 1585.0 752.5C1586.4 754.0 1588.1 755.6 1590.0 756.2C1591.5 756.8 1593.4 756.6 1595.0 756.2C1596.8 755.8 1598.3 754.6 1600.0 753.8C1601.7 752.9 1603.5 751.0 1605.0 751.2C1606.4 751.5 1607.9 753.5 1608.8 755.0C1610.8 758.9 1612.1 763.3 1613.8 767.5C1615.4 771.7 1616.9 775.9 1618.8 780.0C1620.7 784.2 1622.7 788.5 1625.0 792.5C1627.3 796.4 1629.8 800.2 1632.5 803.8C1634.8 806.8 1637.2 810.0 1640.0 812.5C1642.2 814.4 1644.9 815.8 1647.5 817.0C1649.9 818.1 1652.5 818.8 1655.0 819.5C1657.5 820.2 1660.0 820.7 1662.5 821.2C1665.0 821.7 1667.5 821.9 1670.0 822.5C1672.5 823.1 1675.4 823.6 1677.5 825.0C1679.6 826.5 1681.2 829.0 1682.5 831.2C1684.5 834.8 1685.9 838.7 1687.5 842.5C1689.6 847.5 1691.7 852.5 1693.8 857.5C1695.8 862.5 1697.8 867.6 1700.0 872.5C1701.9 876.7 1704.0 880.9 1706.2 885.0C1708.2 888.4 1710.3 891.8 1712.5 895.0C1714.9 898.4 1717.3 901.8 1720.0 905.0C1722.3 907.7 1724.8 910.2 1727.5 912.5C1730.7 915.2 1734.1 917.5 1737.5 920.0C1739.6 921.5 1741.5 923.5 1743.8 924.5C1745.6 925.4 1747.9 925.9 1750.0 925.8C1752.1 925.6 1754.2 924.6 1756.2 923.8C1758.8 922.7 1761.3 921.4 1763.8 920.0C1766.3 918.5 1768.6 916.4 1771.2 915.0C1773.2 914.0 1775.4 913.3 1777.5 913.0C1779.5 912.7 1781.7 912.7 1783.8 913.0C1786.7 913.4 1789.6 914.2 1792.5 915.0C1795.9 915.9 1799.1 917.1 1802.5 918.0C1806.6 919.1 1810.8 920.2 1815.0 920.8C1820.8 921.5 1826.7 921.3 1832.5 921.8C1838.3 922.2 1844.2 922.7 1850.0 923.2C1856.7 923.8 1863.3 924.4 1870.0 925.0C1875.0 925.4 1880.0 926.1 1885.0 926.2C1888.3 926.3 1891.7 926.2 1895.0 925.8C1898.4 925.3 1901.7 924.7 1905.0 923.8C1908.4 922.8 1911.7 921.4 1915.0 920.0C1918.4 918.5 1921.7 916.7 1925.0 915.0C1928.3 913.3 1931.6 911.6 1935.0 910.0C1938.3 908.5 1941.6 906.9 1945.0 905.8C1947.8 904.8 1950.8 904.2 1953.8 903.8C1955.8 903.4 1957.9 903.1 1960.0 903.2C1962.1 903.4 1964.3 903.8 1966.2 904.5C1968.5 905.3 1970.5 906.7 1972.5 908.0C1975.1 909.8 1977.6 911.7 1980.0 913.8C1983.4 916.6 1986.6 919.7 1990.0 922.5C1993.2 925.1 1996.5 927.8 2000.0 930.0C2003.1 932.0 2006.6 933.5 2010.0 935.0C2012.4 936.0 2015.0 936.7 2017.5 937.5" stroke="#0000ff" stroke-width="3.30"/>
<path d="M186.2 937.5C187.1 949.2 187.6 960.9 188.8 972.5C189.5 979.8 190.7 992.7 192.0 994.2C192.8 995.2 194.2 984.8 195.0 980.0C196.4 971.7 197.6 963.3 198.8 955.0C200.1 945.8 200.8 936.6 202.5 927.5C203.3 923.2 204.3 918.7 206.2 915.0C207.0 913.5 209.1 911.8 210.5 912.0C212.4 912.2 214.2 915.0 216.2 916.2C218.6 917.7 221.1 919.5 223.8 920.0C226.1 920.4 228.8 919.7 231.2 919.0C233.4 918.4 236.0 917.8 237.5 916.2C240.1 913.6 241.1 908.8 243.8 906.2C244.9 905.2 247.3 906.2 248.8 905.5C250.5 904.6 251.6 901.6 253.2 901.2C254.5 901.0 256.3 902.6 257.5 903.8C259.4 905.6 260.5 908.3 262.5 910.0C263.9 911.2 265.8 912.6 267.5 912.5C269.6 912.4 271.6 910.1 273.8 909.2C275.7 908.5 278.2 908.6 280.0 907.5C282.8 905.9 285.0 903.3 287.5 901.2C290.0 899.2 292.6 897.2 295.0 895.0C297.6 892.7 299.7 889.4 302.5 888.0C304.2 887.1 307.2 889.0 308.8 888.0C311.3 886.3 312.5 882.0 315.0 880.0C316.6 878.7 319.7 879.4 321.2 878.0C323.9 875.6 325.2 871.7 327.5 868.8C329.8 865.7 332.0 862.3 335.0 860.0C337.9 857.7 341.6 856.6 345.0 855.0C348.3 853.5 351.6 851.9 355.0 850.8C358.2 849.7 361.7 849.1 365.0 848.2C368.3 847.4 371.8 847.0 375.0 845.8C376.8 845.0 379.2 844.2 380.0 842.5C381.7 838.9 381.6 834.2 382.5 830.0C383.7 824.2 384.7 818.3 386.2 812.5C387.2 808.7 388.1 804.5 390.0 801.2C390.6 800.1 392.4 799.6 393.8 799.5C395.8 799.4 397.9 800.9 400.0 800.8C402.5 800.6 405.2 799.8 407.5 798.8C410.2 797.5 412.7 795.7 415.0 793.8C417.7 791.4 419.7 788.1 422.5 785.8C423.9 784.6 426.1 782.8 427.5 783.2C429.4 783.8 431.0 786.8 432.5 788.8C434.3 791.1 435.4 794.3 437.5 796.2C438.7 797.4 441.0 798.6 442.5 798.2C444.7 797.8 446.5 794.8 448.8 793.8C450.2 793.1 452.1 792.9 453.8 793.0C455.8 793.1 457.9 794.1 460.0 794.5C462.1 794.9 464.2 795.6 466.2 795.5C468.8 795.4 471.4 794.7 473.8 793.8C476.0 792.9 478.4 791.7 480.0 790.0C482.0 788.0 483.6 785.2 484.5 782.5C486.1 777.7 486.4 772.5 487.5 767.5C489.1 760.0 490.7 752.5 492.5 745.0C494.1 738.3 495.7 731.6 497.5 725.0C499.1 719.1 500.4 713.2 502.5 707.5C503.3 705.2 504.6 703.0 506.2 701.2C507.3 700.1 509.0 699.0 510.5 699.0C512.4 699.0 514.7 700.0 516.2 701.2C518.7 703.2 520.6 706.1 522.5 708.8C524.8 711.9 526.2 715.9 528.8 718.8C530.0 720.1 532.0 721.2 533.8 721.2C535.8 721.2 537.9 719.4 540.0 718.8C542.4 718.0 545.0 717.4 547.5 717.0C550.0 716.6 552.6 716.8 555.0 716.2C557.2 715.7 559.4 715.0 561.2 713.8C563.2 712.5 565.3 710.8 566.2 708.8C568.2 704.6 568.7 699.6 570.0 695.0C571.6 689.2 572.9 683.1 575.0 677.5C576.2 674.4 577.8 671.2 580.0 668.8C581.6 667.0 584.0 665.7 586.2 665.0C587.8 664.5 589.7 665.4 591.2 665.0C593.2 664.5 595.3 662.1 597.0 662.5C599.0 663.0 601.0 665.6 602.5 667.5C604.5 669.9 605.8 675.0 607.5 675.5C608.7 675.8 610.7 672.1 611.2 670.0C613.2 662.0 613.7 653.3 615.0 645.0C616.2 637.5 617.4 630.0 618.8 622.5C619.4 618.7 620.0 614.8 621.2 611.2C621.6 610.2 623.1 608.3 623.8 608.8C625.0 609.6 626.3 612.8 627.0 615.0C628.4 619.8 629.0 625.0 630.0 630.0C631.3 636.7 632.4 643.3 633.8 650.0C634.9 655.8 635.6 661.9 637.5 667.5C638.4 670.1 640.6 674.5 642.0 674.5C643.3 674.5 644.9 670.0 645.5 667.5C647.2 660.2 647.7 652.5 648.8 645.0C650.1 635.0 650.9 624.9 652.5 615.0C653.4 609.5 654.3 603.8 656.2 598.8C656.8 597.3 658.7 595.7 660.0 595.5C661.2 595.3 662.8 598.0 663.8 597.5C665.3 596.8 666.7 594.1 667.5 592.0C669.2 587.4 669.9 582.3 671.2 577.5C672.4 573.7 673.3 569.7 675.0 566.2C675.7 564.9 677.5 562.5 678.2 563.0C679.5 563.8 680.8 567.5 681.2 570.0C683.0 579.9 683.8 590.0 685.0 600.0C686.3 610.8 687.4 621.7 688.8 632.5C689.4 637.9 690.1 643.5 691.2 648.8C691.6 650.1 692.7 652.9 693.2 652.5C694.3 651.7 695.8 647.6 696.2 645.0C697.9 635.1 698.6 625.0 699.5 615.0C700.7 601.7 701.3 588.3 702.5 575.0C703.6 562.5 704.7 550.0 706.2 537.5C706.9 532.0 707.8 526.5 709.2 521.2C709.6 519.8 711.1 517.1 711.8 517.5C713.0 518.3 714.4 522.4 715.0 525.0C716.7 532.4 717.7 540.0 718.8 547.5C720.2 558.3 721.2 569.2 722.5 580.0C723.7 590.0 724.8 600.0 726.2 610.0C727.3 617.5 728.1 625.2 730.0 632.5C730.9 635.9 732.9 641.2 734.5 642.0C735.5 642.5 737.4 638.4 738.0 636.2C739.6 631.0 740.2 625.4 741.2 620.0C742.4 614.2 742.9 608.1 744.5 602.5C745.1 600.4 746.7 597.5 748.0 597.0C748.9 596.7 750.8 598.6 751.2 600.0C753.1 605.5 753.6 611.7 755.0 617.5C756.1 621.7 756.8 626.3 758.8 630.0C759.6 631.6 762.2 633.9 763.2 633.2C765.1 632.2 766.5 627.9 767.5 625.0C769.2 620.2 769.8 615.0 771.2 610.0C772.3 606.2 773.3 602.1 775.0 598.8C775.5 597.8 777.0 597.0 778.0 597.0C779.1 597.0 780.1 598.3 781.2 598.8C782.3 599.1 783.7 600.0 784.5 599.5C785.9 598.7 787.3 596.7 788.0 595.0C789.6 591.1 790.7 586.8 791.2 582.5C792.6 571.8 793.1 560.8 793.8 550.0C794.7 535.0 795.4 520.0 796.2 505.0C797.1 490.8 797.6 476.6 798.8 462.5C799.3 455.8 799.9 449.0 801.2 442.5C801.6 440.7 803.2 436.9 803.8 437.5C804.8 438.6 805.8 444.1 806.2 447.5C807.5 456.6 808.0 465.8 808.8 475.0C809.7 485.8 810.3 496.7 811.2 507.5C812.4 521.7 813.6 535.9 815.0 550.0C816.1 560.9 817.1 571.7 818.8 582.5C819.6 588.0 820.6 595.6 822.5 598.8C823.1 599.8 825.2 596.4 826.2 595.0C828.2 592.3 829.3 588.9 831.2 586.2C833.0 583.9 835.0 581.1 837.5 580.0C839.6 579.0 842.5 579.9 845.0 580.0C846.7 580.1 848.5 580.9 850.0 580.5C851.8 580.1 853.5 578.7 855.0 577.5C857.7 575.2 861.1 573.1 862.5 570.0C865.3 563.9 866.6 556.8 867.5 550.0C869.1 537.6 869.4 525.0 870.0 512.5C870.9 495.8 871.3 479.2 872.0 462.5C872.8 441.7 873.5 420.8 874.5 400.0C875.2 385.0 875.9 370.0 877.0 355.0C877.6 346.6 878.2 338.2 879.5 330.0C879.8 328.0 881.1 323.9 881.8 324.2C882.7 324.7 883.8 329.7 884.2 332.5C885.8 343.2 886.5 354.2 887.5 365.0C888.8 378.3 889.7 391.7 891.2 405.0C892.2 413.0 893.1 424.3 895.0 428.8C895.6 430.1 898.2 424.8 898.8 422.5C900.3 415.3 900.5 407.5 901.2 400.0C902.3 389.2 902.8 378.3 904.2 367.5C904.9 363.1 906.2 355.8 907.5 354.5C908.2 353.8 910.1 358.8 910.5 361.2C912.2 372.3 912.9 383.7 913.8 395.0C915.2 413.3 916.2 431.7 917.5 450.0C918.7 466.7 919.8 483.3 921.2 500.0C922.3 512.5 923.4 525.0 925.0 537.5C925.7 543.0 926.3 550.1 928.0 553.8C928.4 554.7 930.2 552.2 931.2 551.2C932.6 550.1 933.6 547.7 935.0 547.5C936.1 547.3 937.9 548.8 938.8 550.0C940.4 552.2 941.1 555.1 942.5 557.5C944.0 560.2 945.5 563.2 947.5 565.5C949.0 567.2 951.1 569.4 953.0 569.5C954.8 569.6 956.9 567.5 958.8 566.2C960.9 564.7 962.8 562.8 965.0 561.2C967.4 559.5 969.9 557.6 972.5 556.2C974.8 555.0 977.3 554.4 979.7 553.4C980.8 554.3 981.9 554.7 983.0 554.7C984.1 554.7 985.2 554.3 986.3 553.6C987.4 552.9 988.4 552.0 989.5 551.0C990.6 549.9 991.6 548.7 992.6 547.5C993.7 546.3 994.7 545.0 995.7 543.8C996.8 542.6 997.8 541.4 998.9 540.4C999.9 539.4 1001.0 538.6 1002.1 537.8C1003.2 537.1 1004.2 536.5 1005.3 536.0C1006.4 535.4 1007.5 534.9 1008.6 534.5C1009.7 534.0 1010.8 533.6 1011.9 533.1C1012.9 532.6 1014.0 535.1 1015.0 530.4C1015.4 528.7 1015.7 523.9 1016.1 520.3C1016.7 514.9 1017.3 514.5 1017.8 511.3C1018.2 509.3 1018.6 505.8 1018.9 501.3C1019.2 498.2 1019.4 494.6 1019.7 490.9C1019.9 487.5 1020.2 484.0 1020.4 480.4C1020.6 477.0 1020.8 473.5 1021.0 469.9C1021.2 466.5 1021.4 463.0 1021.6 459.4C1021.8 456.0 1022.0 452.5 1022.2 448.9C1022.4 445.5 1022.6 442.0 1022.8 438.4C1023.0 434.9 1023.2 431.4 1023.4 427.9C1023.5 424.4 1023.7 420.9 1023.9 417.3C1024.1 413.8 1024.2 410.3 1024.4 406.8C1024.6 403.3 1024.8 399.8 1024.9 396.2C1025.1 392.7 1025.3 389.2 1025.4 385.6C1025.6 382.1 1025.7 378.6 1025.9 375.1C1026.1 371.6 1026.2 368.0 1026.4 364.5C1026.5 361.0 1026.7 357.5 1026.9 353.9C1027.0 350.4 1027.2 346.9 1027.3 343.3C1027.5 339.8 1027.6 336.3 1027.8 332.8C1027.9 329.2 1028.1 325.7 1028.3 322.2C1028.4 318.7 1028.6 315.1 1028.7 311.6C1028.9 308.1 1029.0 304.5 1029.2 301.0C1029.3 297.5 1029.5 293.9 1029.6 290.4C1029.8 286.9 1029.9 283.3 1030.1 279.8C1030.2 276.3 1030.4 272.8 1030.5 269.2C1030.7 265.7 1030.8 262.2 1031.0 258.6C1031.1 255.1 1031.3 251.6 1031.4 248.1C1031.6 244.5 1031.7 241.0 1031.9 237.5C1032.1 233.9 1032.2 230.4 1032.4 226.9C1032.5 223.3 1032.7 219.8 1032.9 216.3C1033.0 212.8 1033.2 209.2 1033.4 205.8C1033.5 202.2 1033.7 198.7 1033.9 195.2C1034.1 191.6 1034.3 188.1 1034.4 184.7C1034.6 181.1 1034.8 177.6 1035.0 174.2C1035.2 170.5 1035.5 167.0 1035.7 163.7C1035.9 160.0 1036.2 156.5 1036.4 153.3C1036.7 149.5 1037.0 146.0 1037.2 142.9C1037.6 138.9 1038.0 135.5 1038.3 132.9C1039.1 127.5 1039.8 125.4 1040.6 127.2C1041.1 128.5 1041.6 131.6 1042.2 136.5C1042.5 139.3 1042.8 142.7 1043.0 146.8C1043.3 149.9 1043.5 153.4 1043.7 157.2C1043.9 160.5 1044.1 164.0 1044.3 167.8C1044.5 171.1 1044.7 174.6 1044.8 178.3C1045.0 181.7 1045.1 185.2 1045.3 188.9C1045.4 192.3 1045.6 195.9 1045.7 199.5C1045.9 203.0 1046.0 206.5 1046.1 210.1C1046.3 213.6 1046.4 217.1 1046.5 220.7C1046.7 224.2 1046.8 227.8 1046.9 231.3C1047.1 234.9 1047.2 238.4 1047.3 241.9C1047.5 245.5 1047.6 249.0 1047.7 252.5C1047.9 256.1 1048.0 259.7 1048.1 263.1C1048.3 266.7 1048.4 270.3 1048.6 273.7C1048.7 277.4 1048.9 280.9 1049.0 284.3C1049.2 288.0 1049.3 291.5 1049.5 294.9C1049.7 298.7 1049.8 302.2 1050.0 305.5C1050.2 309.3 1050.4 312.8 1050.6 316.0C1050.9 319.9 1051.1 323.4 1051.4 326.4C1051.8 330.7 1052.1 334.0 1052.5 336.4C1053.3 341.7 1054.1 343.4 1054.9 341.7C1055.4 340.7 1055.9 338.0 1056.5 332.5C1056.7 329.7 1057.0 326.1 1057.2 322.1C1057.5 318.8 1057.7 315.2 1057.9 311.6C1058.1 308.1 1058.3 304.6 1058.5 301.2C1058.8 297.5 1059.0 294.0 1059.2 290.7C1059.5 287.0 1059.7 283.6 1059.9 280.3C1060.2 276.6 1060.5 273.1 1060.8 269.9C1061.1 266.2 1061.4 262.8 1061.7 259.7C1062.2 255.8 1062.6 252.5 1063.0 249.8C1063.7 245.2 1064.4 242.5 1065.2 242.3C1065.9 242.1 1066.7 244.3 1067.4 249.4C1067.8 252.0 1068.2 255.3 1068.5 259.4C1068.8 262.4 1069.1 265.9 1069.4 269.7C1069.6 272.9 1069.8 276.4 1070.1 280.2C1070.3 283.5 1070.5 287.0 1070.7 290.7C1070.9 294.0 1071.1 297.6 1071.3 301.2C1071.5 304.6 1071.6 308.1 1071.8 311.7C1072.0 315.2 1072.2 318.7 1072.3 322.3C1072.5 325.8 1072.7 329.3 1072.8 332.9C1073.0 336.3 1073.2 339.9 1073.3 343.4C1073.5 346.9 1073.7 350.5 1073.8 354.0C1074.0 357.5 1074.2 361.0 1074.3 364.6C1074.5 368.1 1074.6 371.6 1074.8 375.1C1075.0 378.7 1075.1 382.2 1075.3 385.7C1075.5 389.3 1075.6 392.8 1075.8 396.3C1076.0 399.8 1076.1 403.4 1076.3 406.8C1076.5 410.4 1076.7 413.9 1076.8 417.4C1077.0 421.0 1077.2 424.5 1077.4 427.9C1077.6 431.5 1077.8 435.1 1078.0 438.4C1078.3 442.1 1078.5 445.6 1078.7 448.9C1079.0 452.6 1079.2 456.1 1079.5 459.2C1079.8 463.0 1080.1 466.4 1080.4 469.5C1080.9 473.4 1081.3 476.7 1081.7 479.4C1082.3 483.5 1082.9 486.3 1083.5 488.3C1084.5 491.5 1085.5 492.1 1086.5 491.4C1087.4 490.7 1088.4 488.9 1089.4 486.5C1090.2 484.5 1091.0 482.0 1091.9 479.4C1092.6 477.0 1093.4 474.4 1094.2 471.9C1095.0 469.3 1095.8 466.8 1096.6 464.6C1097.6 462.2 1098.5 460.1 1099.4 459.0C1100.5 457.6 1101.6 457.7 1102.7 458.6C1103.7 459.5 1104.8 460.6 1105.9 458.8C1106.6 457.7 1107.3 455.3 1108.0 450.8C1108.4 448.2 1108.8 444.9 1109.1 440.8C1109.4 437.8 1109.7 434.4 1110.0 430.5C1110.2 427.3 1110.5 423.9 1110.7 420.0C1110.9 416.8 1111.1 413.3 1111.3 409.5C1111.5 406.2 1111.6 402.7 1111.8 399.0C1112.0 395.6 1112.1 392.1 1112.3 388.4C1112.4 385.0 1112.5 381.4 1112.7 377.8C1112.8 374.3 1113.0 370.8 1113.1 367.2C1113.2 363.7 1113.3 360.2 1113.5 356.6C1113.6 353.1 1113.7 349.5 1113.8 345.9C1114.0 342.5 1114.1 338.9 1114.2 335.3C1114.3 331.8 1114.4 328.3 1114.6 324.7C1114.7 321.2 1114.8 317.6 1114.9 314.1C1115.0 310.5 1115.1 307.0 1115.2 303.4C1115.3 299.9 1115.5 296.4 1115.6 292.8C1115.7 289.3 1115.8 285.7 1115.9 282.2C1116.0 278.6 1116.1 275.1 1116.2 271.5C1116.3 268.0 1116.4 264.4 1116.6 260.9C1116.7 257.3 1116.8 253.8 1116.9 250.3C1117.0 246.7 1117.1 243.2 1117.2 239.6C1117.3 236.1 1117.4 232.5 1117.5 229.0C1117.7 225.4 1117.8 221.9 1117.9 218.4C1118.0 214.8 1118.1 211.2 1118.2 207.7C1118.4 204.1 1118.5 200.6 1118.6 197.1C1118.7 193.5 1118.8 190.0 1119.0 186.5C1119.1 182.9 1119.2 179.3 1119.3 175.9C1119.5 172.2 1119.6 168.7 1119.7 165.3C1119.9 161.6 1120.0 158.1 1120.1 154.7C1120.3 151.0 1120.4 147.4 1120.6 144.1C1120.8 140.4 1120.9 136.8 1121.1 133.5C1121.3 129.7 1121.4 126.2 1121.6 123.0C1121.9 119.1 1122.1 115.6 1122.3 112.5C1122.6 108.3 1122.9 104.8 1123.2 102.2C1123.9 96.3 1124.6 94.8 1125.3 98.0C1125.7 99.8 1126.1 103.1 1126.5 107.9C1126.7 110.9 1127.0 114.4 1127.2 118.3C1127.4 121.6 1127.6 125.1 1127.8 128.8C1128.0 132.2 1128.2 135.7 1128.4 139.4C1128.5 142.8 1128.7 146.3 1128.8 150.0C1129.0 153.4 1129.2 157.0 1129.3 160.6C1129.5 164.0 1129.6 167.6 1129.8 171.1C1129.9 174.6 1130.1 178.2 1130.2 181.7C1130.4 185.3 1130.5 188.8 1130.6 192.3C1130.8 195.9 1130.9 199.4 1131.1 202.9C1131.2 206.5 1131.4 210.0 1131.5 213.5C1131.7 217.1 1131.8 220.6 1132.0 224.1C1132.2 227.6 1132.3 231.2 1132.5 234.7C1132.6 238.2 1132.8 241.7 1132.9 245.2C1133.1 248.8 1133.2 252.3 1133.4 255.8C1133.6 259.4 1133.7 262.9 1133.9 266.4C1134.1 269.9 1134.2 273.5 1134.4 277.0C1134.6 280.5 1134.7 284.0 1134.9 287.5C1135.1 291.1 1135.2 294.6 1135.4 298.1C1135.6 301.6 1135.7 305.2 1135.9 308.6C1136.1 312.2 1136.3 315.7 1136.5 319.2C1136.6 322.7 1136.8 326.3 1137.0 329.7C1137.2 333.3 1137.4 336.8 1137.6 340.2C1137.8 343.8 1138.0 347.3 1138.2 350.8C1138.4 354.3 1138.6 357.8 1138.8 361.3C1139.0 364.8 1139.2 368.3 1139.4 371.7C1139.7 375.3 1139.9 378.8 1140.1 382.2C1140.3 385.8 1140.6 389.3 1140.8 392.7C1141.1 396.2 1141.3 399.7 1141.5 403.1C1141.8 406.7 1142.1 410.1 1142.3 413.4C1142.6 417.0 1142.9 420.5 1143.2 423.8C1143.5 427.4 1143.8 430.8 1144.1 434.0C1144.5 437.6 1144.8 441.0 1145.2 444.1C1145.6 447.9 1146.0 451.2 1146.5 454.0C1147.1 458.3 1147.7 461.3 1148.4 462.6C1149.2 464.2 1150.0 462.7 1150.8 457.7C1151.2 455.2 1151.6 451.9 1152.0 447.7C1152.3 444.7 1152.6 441.3 1152.9 437.4C1153.1 434.2 1153.3 430.7 1153.6 426.9C1153.8 423.6 1154.0 420.1 1154.2 416.4C1154.4 413.1 1154.5 409.6 1154.7 405.9C1154.9 402.5 1155.1 399.0 1155.2 395.3C1155.4 391.9 1155.6 388.4 1155.7 384.8C1155.9 381.3 1156.0 377.8 1156.2 374.2C1156.4 370.7 1156.5 367.2 1156.7 363.6C1156.8 360.1 1157.0 356.6 1157.1 353.0C1157.3 349.5 1157.4 346.0 1157.6 342.4C1157.7 338.9 1157.9 335.4 1158.0 331.8C1158.1 328.3 1158.3 324.8 1158.4 321.3C1158.6 317.7 1158.7 314.2 1158.9 310.7C1159.0 307.1 1159.2 303.6 1159.3 300.1C1159.5 296.5 1159.6 293.0 1159.8 289.5C1159.9 285.9 1160.1 282.4 1160.3 278.9C1160.4 275.3 1160.6 271.8 1160.7 268.3C1160.9 264.7 1161.1 261.2 1161.3 257.8C1161.4 254.1 1161.6 250.6 1161.8 247.2C1162.0 243.5 1162.2 240.0 1162.4 236.7C1162.6 233.0 1162.9 229.5 1163.1 226.3C1163.4 222.3 1163.7 218.9 1163.9 215.9C1164.4 211.5 1164.8 208.2 1165.2 206.1C1166.0 202.2 1166.8 202.6 1167.6 207.6C1167.9 210.0 1168.3 213.5 1168.7 217.7C1168.9 220.8 1169.2 224.3 1169.5 228.0C1169.7 231.4 1170.0 234.9 1170.2 238.5C1170.5 242.0 1170.7 245.5 1171.0 248.9C1171.3 252.6 1171.5 256.1 1171.8 259.2C1172.1 263.0 1172.4 266.4 1172.8 269.4C1173.2 273.3 1173.6 276.6 1174.0 279.3C1174.6 283.2 1175.2 286.1 1175.7 288.4C1176.6 291.7 1177.4 293.8 1178.2 295.5C1179.1 297.5 1180.0 299.1 1180.9 301.5C1181.6 303.4 1182.4 305.8 1183.1 309.6C1183.5 312.1 1184.0 315.2 1184.5 319.2C1184.8 322.1 1185.2 325.4 1185.5 329.3C1185.8 332.5 1186.1 336.0 1186.4 339.7C1186.6 343.0 1186.8 346.5 1187.1 350.1C1187.3 353.6 1187.6 357.1 1187.8 360.6C1188.0 364.1 1188.3 367.7 1188.5 371.0C1188.8 374.6 1189.1 378.1 1189.3 381.3C1189.6 384.9 1189.9 388.3 1190.2 391.6C1190.5 395.1 1190.9 398.5 1191.2 401.9C1191.5 405.3 1191.8 408.7 1192.1 412.1C1192.4 415.6 1192.7 419.0 1193.0 422.4C1193.3 425.8 1193.6 429.3 1193.9 432.7C1194.3 436.1 1194.6 439.5 1194.9 442.9C1195.2 446.4 1195.6 449.8 1195.9 453.1C1196.2 456.6 1196.6 460.0 1196.9 463.3C1197.2 466.8 1197.6 470.1 1198.0 473.4C1198.3 476.9 1198.7 480.2 1199.1 483.4C1199.5 486.9 1199.9 490.2 1200.3 493.3C1200.8 496.9 1201.3 500.1 1201.7 503.0C1202.3 506.6 1202.9 509.6 1203.4 512.2C1204.2 515.7 1205.0 518.2 1205.8 519.4C1206.8 520.8 1207.8 520.2 1208.8 516.9C1209.4 514.9 1210.0 511.9 1210.6 507.9C1211.0 505.1 1211.4 501.8 1211.8 498.0C1212.1 494.9 1212.4 491.5 1212.8 487.8C1213.0 484.6 1213.3 481.1 1213.6 477.4C1213.8 474.1 1214.0 470.7 1214.3 467.0C1214.5 463.7 1214.7 460.2 1214.9 456.5C1215.1 453.1 1215.3 449.6 1215.5 446.0C1215.7 442.5 1215.9 439.0 1216.1 435.4C1216.3 432.0 1216.5 428.4 1216.6 424.9C1216.8 421.4 1217.0 417.9 1217.2 414.4C1217.4 410.8 1217.6 407.3 1217.8 403.9C1218.0 400.2 1218.2 396.7 1218.4 393.4C1218.6 389.6 1218.9 386.1 1219.1 382.9C1219.4 379.0 1219.6 375.5 1219.9 372.5C1220.2 368.8 1220.6 365.6 1220.9 362.4C1221.3 358.9 1221.6 355.5 1222.0 352.3C1222.4 348.7 1222.8 345.4 1223.2 342.3C1223.7 338.6 1224.1 335.3 1224.6 332.7C1225.4 328.4 1226.2 325.8 1226.9 325.6C1227.8 325.4 1228.6 327.6 1229.4 332.0C1229.9 334.5 1230.3 337.7 1230.8 341.7C1231.2 344.6 1231.5 348.0 1231.9 351.8C1232.2 354.9 1232.5 358.3 1232.8 362.0C1233.1 365.3 1233.3 368.7 1233.6 372.4C1233.8 375.7 1234.1 379.2 1234.3 382.8C1234.6 386.2 1234.8 389.7 1235.0 393.3C1235.2 396.7 1235.4 400.2 1235.7 403.8C1235.9 407.2 1236.1 410.7 1236.3 414.2C1236.5 417.7 1236.7 421.2 1236.9 424.8C1237.1 428.2 1237.3 431.7 1237.5 435.3C1237.7 438.8 1237.9 442.3 1238.1 445.8C1238.3 449.3 1238.5 452.8 1238.7 456.3C1238.9 459.8 1239.1 463.3 1239.2 466.8C1239.4 470.4 1239.6 473.9 1239.8 477.3C1240.0 480.9 1240.2 484.4 1240.4 487.8C1240.7 491.4 1240.9 494.9 1241.1 498.3C1241.3 501.9 1241.5 505.4 1241.7 508.8C1242.0 512.4 1242.2 515.9 1242.4 519.3C1242.7 522.9 1242.9 526.4 1243.1 529.7C1243.4 533.4 1243.7 536.8 1244.0 540.0C1244.3 543.8 1244.6 547.2 1244.9 550.3C1245.3 554.3 1245.8 557.6 1246.2 560.1C1247.0 565.0 1247.8 566.9 1248.6 565.8C1249.3 565.0 1250.0 562.1 1250.7 557.7C1251.1 554.9 1251.5 551.5 1252.0 547.8C1252.3 544.6 1252.7 541.2 1253.1 537.8C1253.4 534.4 1253.8 531.0 1254.2 527.7C1254.6 524.1 1255.0 520.7 1255.4 517.8C1256.0 513.9 1256.5 510.9 1257.1 508.5C1257.9 504.7 1258.8 502.9 1259.7 502.9C1260.6 502.8 1261.6 504.6 1262.5 508.0C1263.1 510.3 1263.7 513.3 1264.3 516.9C1264.8 519.7 1265.3 522.9 1265.8 526.5C1266.2 529.6 1266.7 533.0 1267.1 536.3C1267.5 539.7 1267.9 543.0 1268.4 546.1C1268.9 549.8 1269.4 553.1 1269.9 555.6C1270.8 559.8 1271.7 561.6 1272.6 560.3C1273.3 559.3 1274.0 556.4 1274.8 552.6C1275.3 549.9 1275.8 546.6 1276.3 543.2C1276.8 540.1 1277.3 536.8 1277.7 533.5C1278.2 530.2 1278.7 526.9 1279.2 523.8C1279.7 520.4 1280.2 517.2 1280.7 514.5C1281.4 511.1 1282.0 508.6 1282.7 505.9C1283.3 503.3 1283.9 500.6 1284.6 497.1C1285.0 494.4 1285.5 491.3 1286.0 487.4C1286.4 484.4 1286.7 480.9 1287.1 477.3C1287.5 473.7 1287.8 470.2 1288.2 467.3C1288.9 461.8 1289.6 460.5 1290.4 459.9C1291.4 458.9 1292.5 458.3 1293.6 458.5C1294.4 458.7 1295.2 460.0 1296.0 465.0C1296.4 467.6 1296.9 470.9 1297.3 474.9C1297.6 477.9 1297.9 481.4 1298.3 485.0C1298.6 488.3 1298.9 491.8 1299.1 495.4C1299.4 498.7 1299.7 502.2 1300.0 505.7C1300.2 509.1 1300.5 512.6 1300.8 516.1C1301.0 519.5 1301.3 523.0 1301.5 526.5C1301.8 530.0 1302.1 533.4 1302.4 536.8C1302.6 540.3 1302.9 543.8 1303.2 547.2C1303.5 550.7 1303.8 554.1 1304.1 557.5C1304.4 561.0 1304.7 564.4 1305.0 567.7C1305.3 571.2 1305.6 574.7 1306.0 577.9C1306.3 581.5 1306.7 584.8 1307.0 588.1C1307.4 591.6 1307.7 594.9 1308.1 598.1C1308.5 601.6 1308.9 604.9 1309.3 608.1C1309.8 611.5 1310.3 614.8 1310.7 617.8C1311.2 621.3 1311.7 624.4 1312.3 627.2C1313.3 630.0 1313.6 633.8 1315.5 635.5C1317.0 636.8 1321.0 634.8 1322.5 636.2C1325.0 638.8 1325.7 643.8 1327.5 647.5C1329.4 651.3 1331.8 654.9 1333.8 658.8C1335.6 662.4 1336.6 666.6 1338.8 670.0C1340.0 672.0 1341.9 673.6 1343.8 675.0C1344.8 675.8 1346.5 676.9 1347.5 676.5C1349.4 675.7 1351.0 673.1 1352.5 671.2C1354.7 668.5 1356.1 664.4 1358.8 662.5C1360.3 661.4 1362.9 661.9 1365.0 662.0C1366.7 662.1 1369.3 664.1 1370.0 663.0C1371.9 660.1 1372.4 654.4 1373.0 650.0C1374.5 638.4 1375.3 626.7 1376.2 615.0C1377.5 600.0 1378.4 585.0 1379.5 570.0C1380.5 555.8 1381.2 541.6 1382.5 527.5C1383.2 519.1 1384.2 510.8 1385.5 502.5C1386.0 499.1 1386.8 495.6 1388.0 492.5C1388.3 491.6 1389.5 490.2 1390.0 490.5C1391.0 491.0 1392.2 493.3 1392.5 495.0C1393.9 503.2 1394.4 511.6 1395.0 520.0C1396.2 536.6 1397.0 553.3 1398.0 570.0C1399.0 586.7 1400.0 603.3 1401.2 620.0C1402.2 632.5 1403.2 645.0 1404.5 657.5C1405.1 662.9 1405.7 668.5 1407.0 673.8C1407.3 675.0 1408.7 677.4 1409.2 677.0C1410.3 676.2 1411.4 672.4 1412.0 670.0C1413.2 665.1 1413.8 660.0 1414.5 655.0C1415.5 647.5 1416.0 640.0 1417.0 632.5C1417.9 625.8 1418.6 619.1 1420.0 612.5C1420.6 609.5 1421.6 606.4 1423.0 603.8C1423.5 602.7 1424.9 601.1 1425.8 601.2C1426.8 601.5 1428.2 603.5 1428.8 605.0C1430.5 609.8 1431.3 615.0 1432.5 620.0C1434.2 626.7 1435.7 633.4 1437.5 640.0C1439.1 645.9 1440.7 651.7 1442.5 657.5C1444.0 662.5 1445.7 667.5 1447.5 672.5C1449.0 676.7 1450.6 680.9 1452.5 685.0C1453.9 688.0 1455.4 691.3 1457.5 693.8C1458.3 694.8 1460.2 695.7 1461.2 695.5C1462.3 695.3 1463.4 693.7 1463.8 692.5C1465.0 688.5 1465.5 684.2 1466.2 680.0C1467.1 675.4 1467.6 670.7 1468.8 666.2C1469.3 664.1 1470.0 661.7 1471.2 660.0C1472.1 658.9 1473.9 657.8 1475.0 658.0C1476.1 658.2 1477.2 660.0 1478.0 661.2C1479.3 663.2 1480.0 665.5 1481.2 667.5C1482.3 669.1 1483.9 672.2 1485.0 672.0C1486.2 671.8 1487.2 668.2 1488.0 666.2C1489.0 663.8 1489.3 661.0 1490.5 658.8C1491.1 657.7 1492.3 656.2 1493.2 656.2C1494.2 656.2 1495.7 657.6 1496.2 658.8C1497.5 661.4 1498.1 664.5 1498.8 667.5C1499.7 671.6 1500.3 675.9 1501.2 680.0C1502.0 683.4 1502.4 686.9 1503.8 690.0C1504.5 691.8 1506.1 694.0 1507.5 694.5C1508.6 694.9 1510.5 693.6 1511.2 692.5C1512.6 690.4 1513.0 687.5 1513.8 685.0C1514.7 681.7 1515.0 678.1 1516.2 675.0C1516.9 673.3 1518.3 670.7 1519.5 670.5C1520.4 670.3 1521.9 672.4 1522.5 673.8C1524.1 677.3 1525.3 681.2 1526.2 685.0C1527.4 689.9 1528.0 695.0 1528.8 700.0C1529.7 706.6 1530.3 713.4 1531.2 720.0C1532.4 727.5 1533.5 735.1 1535.0 742.5C1536.0 747.1 1537.2 751.8 1538.8 756.2C1539.7 758.9 1540.7 762.0 1542.5 763.8C1543.6 764.8 1545.8 764.3 1547.5 764.5C1548.7 764.7 1550.2 764.4 1551.2 765.0C1552.7 765.8 1553.6 767.7 1555.0 768.8C1556.0 769.5 1557.4 770.8 1558.2 770.5C1559.5 770.0 1560.8 767.9 1561.2 766.2C1562.6 761.1 1563.0 755.4 1563.8 750.0C1564.7 743.3 1565.2 736.6 1566.2 730.0C1566.9 725.8 1567.6 721.6 1568.8 717.5C1569.3 715.7 1570.1 713.9 1571.2 712.5C1571.8 711.8 1573.3 710.8 1573.8 711.2C1574.9 712.4 1575.8 715.3 1576.2 717.5C1577.5 723.2 1577.9 729.2 1578.8 735.0C1579.6 740.8 1580.1 746.7 1581.2 752.5C1581.9 755.7 1582.9 759.0 1584.2 762.0C1584.7 763.0 1586.0 764.8 1586.8 764.5C1587.9 764.1 1589.2 761.7 1590.0 760.0C1591.5 756.8 1592.5 753.3 1593.8 750.0C1595.0 746.7 1595.9 743.1 1597.5 740.0C1598.1 738.9 1599.7 737.2 1600.5 737.5C1601.8 738.0 1603.0 740.7 1603.8 742.5C1605.4 746.5 1606.4 750.8 1607.5 755.0C1608.9 760.8 1609.9 766.7 1611.2 772.5C1612.4 777.5 1613.4 782.6 1615.0 787.5C1615.9 790.1 1616.9 793.2 1618.8 795.0C1619.9 796.1 1622.1 796.0 1623.8 796.2C1625.4 796.5 1627.2 795.8 1628.8 796.2C1630.1 796.6 1631.5 797.6 1632.5 798.8C1634.0 800.6 1635.1 802.9 1636.2 805.0C1637.6 807.5 1638.6 810.1 1640.0 812.5C1641.1 814.3 1642.2 816.2 1643.8 817.5C1645.1 818.6 1647.2 818.6 1648.8 819.5C1650.9 820.7 1652.7 823.0 1655.0 823.8C1656.9 824.4 1659.2 824.0 1661.2 823.8C1663.4 823.5 1665.4 822.5 1667.5 822.5C1669.6 822.5 1672.2 822.6 1673.8 823.8C1675.5 825.1 1676.5 827.8 1677.5 830.0C1679.0 833.2 1680.1 836.6 1681.2 840.0C1682.6 844.1 1683.6 848.4 1685.0 852.5C1686.1 855.9 1687.2 859.3 1688.8 862.5C1690.2 865.5 1691.8 868.6 1693.8 871.2C1695.5 873.6 1697.9 875.4 1700.0 877.5C1701.7 879.2 1703.5 880.7 1705.0 882.5C1706.9 884.8 1708.4 887.4 1710.0 890.0C1711.8 892.9 1713.1 896.0 1715.0 898.8C1716.8 901.4 1719.0 904.0 1721.2 906.2C1723.1 908.1 1725.2 910.0 1727.5 911.2C1730.6 912.9 1734.2 913.6 1737.5 915.0C1739.6 915.9 1741.6 917.2 1743.8 918.0C1745.3 918.6 1747.1 919.4 1748.8 919.2C1750.5 919.1 1752.1 917.7 1753.8 917.0C1755.0 916.5 1756.3 915.8 1757.5 915.8C1758.7 915.8 1760.2 916.3 1761.2 917.0C1762.7 917.9 1763.6 920.2 1765.0 920.5C1766.5 920.8 1768.3 919.3 1770.0 918.8C1772.1 918.1 1774.1 917.2 1776.2 917.0C1778.7 916.8 1781.3 917.2 1783.8 917.5C1786.7 917.8 1789.6 918.2 1792.5 918.8C1795.4 919.3 1798.3 920.1 1801.2 920.8C1804.2 921.4 1807.1 922.1 1810.0 922.5C1813.3 922.9 1816.7 922.9 1820.0 923.0C1824.2 923.1 1828.3 922.9 1832.5 923.0C1836.7 923.1 1840.8 923.5 1845.0 923.8C1849.2 924.0 1853.3 924.1 1857.5 924.2C1861.7 924.4 1865.8 924.5 1870.0 924.5C1874.2 924.5 1878.3 924.7 1882.5 924.5C1884.6 924.4 1886.9 924.5 1888.8 923.8C1890.2 923.2 1891.1 921.4 1892.5 920.8C1894.0 920.0 1895.9 919.4 1897.5 919.5C1899.2 919.6 1900.8 921.0 1902.5 921.2C1904.9 921.6 1907.6 921.7 1910.0 921.2C1912.6 920.8 1915.0 919.4 1917.5 918.8C1920.0 918.1 1922.5 917.7 1925.0 917.5C1927.5 917.3 1930.2 916.9 1932.5 917.5C1934.3 918.0 1935.7 920.0 1937.5 920.8C1938.6 921.2 1940.0 921.4 1941.2 921.2C1943.4 921.0 1945.4 920.0 1947.5 919.5C1950.0 918.9 1952.5 918.3 1955.0 918.0C1957.5 917.8 1960.1 917.4 1962.5 918.0C1964.7 918.5 1966.7 920.0 1968.8 921.2C1970.9 922.5 1972.8 924.3 1975.0 925.5C1977.4 926.8 1979.9 927.9 1982.5 928.8C1985.8 929.8 1989.1 930.6 1992.5 931.2C1995.8 931.9 1999.2 932.3 2002.5 932.5C2007.5 932.7 2012.5 932.5 2017.5 932.5" stroke="#ff0000" stroke-width="3.30"/>
</g>
<clipPath id="clipB"><rect x="184.9" y="1336.8" width="1834.2" height="934.0"/></clipPath>
<g clip-path="url(#clipB)" fill="none" stroke-linejoin="round" stroke-linecap="butt" shape-rendering="crispEdges">
<path d="M186.2 2134.5L413.2 2101.2C415.6 2059.4 417.6 2017.5 420.2 1975.6C422.3 1941.9 424.6 1908.1 427.5 1874.5C428.8 1859.3 430.7 1844.3 432.8 1829.2C435.2 1812.8 437.8 1796.3 441.2 1780.0C443.2 1770.2 445.8 1760.2 449.1 1750.8C451.0 1745.5 453.9 1740.6 456.9 1735.9C459.3 1732.2 462.4 1728.8 465.5 1725.7C468.6 1722.7 472.3 1720.2 475.8 1717.5C477.5 1701.1 479.4 1684.7 480.9 1668.3C482.4 1651.3 482.8 1634.1 484.6 1617.1C485.9 1604.4 487.6 1591.7 490.3 1579.2C492.4 1569.3 495.4 1559.4 499.0 1549.9C501.5 1543.3 504.7 1536.8 508.4 1530.8C511.1 1526.3 514.4 1522.1 518.0 1518.4C521.6 1514.8 526.0 1512.0 530.0 1508.8C531.0 1524.1 532.1 1539.4 533.0 1554.8C534.2 1575.6 535.1 1596.6 536.4 1617.4C537.6 1638.4 538.8 1659.3 540.7 1680.2C542.5 1699.4 544.6 1718.6 547.4 1737.7C549.4 1751.8 551.9 1765.9 555.0 1779.9C558.3 1794.2 562.4 1808.3 566.5 1822.3C568.1 1827.6 570.2 1832.8 572.0 1838.0C574.2 1833.8 576.4 1829.6 578.8 1825.5C580.9 1821.7 583.3 1818.0 585.5 1814.2C586.2 1807.0 587.1 1799.8 587.5 1792.5C588.4 1775.9 588.6 1759.2 589.5 1742.5C590.2 1729.4 591.5 1716.3 592.5 1703.2L597.5 1728.0L600.5 1728.0C602.1 1712.0 603.1 1696.0 605.2 1680.1C606.6 1669.1 608.5 1658.1 610.9 1647.4C612.7 1639.0 615.2 1630.7 617.8 1622.6C619.5 1617.5 621.6 1612.5 623.7 1607.5C625.4 1603.7 627.4 1600.0 629.2 1596.2C631.2 1585.0 632.8 1573.7 635.0 1562.5C636.8 1553.3 639.2 1544.2 641.2 1535.0C642.8 1545.8 644.4 1556.5 645.8 1567.3C647.8 1581.5 649.6 1595.7 651.5 1609.9C653.5 1625.0 655.4 1640.0 657.6 1655.0C660.7 1675.9 663.7 1696.8 667.5 1717.5C671.0 1736.8 675.0 1756.0 679.6 1775.0C683.2 1790.1 687.6 1805.1 692.0 1820.0C694.2 1827.6 696.8 1835.1 699.5 1842.5C703.6 1853.5 707.6 1864.5 712.3 1875.2C718.0 1887.9 723.9 1900.7 731.0 1912.7C736.6 1922.4 743.0 1932.0 750.5 1940.4C758.1 1948.9 766.8 1956.9 776.1 1963.7C783.3 1969.0 791.6 1973.2 799.9 1976.7C807.6 1979.9 815.8 1982.1 824.0 1983.5C832.2 1985.0 840.6 1985.6 849.0 1985.5C857.5 1985.4 866.0 1984.1 874.5 1983.0C878.3 1982.5 882.0 1981.3 885.8 1980.5C886.7 1973.7 887.6 1966.8 888.8 1960.0C890.7 1948.3 892.1 1936.5 895.0 1925.0C898.4 1911.5 902.1 1897.7 907.5 1885.0C909.6 1880.0 914.2 1876.3 917.5 1872.0C917.8 1863.0 918.1 1854.0 918.4 1845.0C919.1 1823.3 919.7 1801.7 920.3 1780.0C921.1 1755.0 921.7 1730.0 922.6 1705.0C923.5 1680.0 924.3 1655.0 925.7 1630.0C927.4 1600.8 929.4 1571.7 931.8 1542.6C933.3 1524.2 935.6 1505.9 937.5 1487.5C941.7 1486.4 945.8 1485.0 950.0 1484.2C953.9 1483.5 957.8 1483.4 961.8 1483.0C963.2 1473.7 964.7 1464.3 966.2 1455.0C968.1 1443.7 970.1 1432.5 972.0 1421.2C973.0 1437.5 973.9 1453.7 975.1 1469.9C976.6 1490.0 978.2 1510.0 980.2 1530.0C982.2 1549.2 984.6 1568.4 987.3 1587.6C989.3 1601.8 991.7 1616.0 994.3 1630.1C997.0 1644.3 1000.0 1658.3 1003.3 1672.3C1005.4 1681.6 1007.9 1690.7 1010.4 1699.9C1012.2 1706.6 1014.3 1713.3 1016.2 1720.0L1019.0 1676.2C1020.6 1690.8 1021.9 1705.5 1023.8 1720.0C1025.4 1732.7 1027.6 1745.3 1029.5 1758.0C1031.3 1752.0 1033.2 1746.0 1035.0 1740.0C1036.7 1734.2 1038.0 1728.2 1040.0 1722.5C1041.8 1717.4 1043.7 1712.2 1046.2 1707.5C1048.2 1703.9 1051.3 1700.8 1053.8 1697.5C1055.3 1708.0 1056.8 1718.6 1058.3 1729.1C1060.0 1741.7 1061.4 1754.4 1063.2 1766.9C1065.0 1779.8 1066.8 1792.7 1069.2 1805.5C1071.3 1816.5 1073.5 1827.6 1076.5 1838.4C1079.7 1850.1 1083.3 1861.6 1087.8 1872.8C1091.5 1881.9 1095.9 1890.9 1100.9 1899.3C1105.0 1906.3 1109.8 1913.0 1115.1 1919.1C1120.3 1925.1 1126.4 1930.2 1132.2 1935.5C1134.5 1937.4 1137.1 1939.0 1139.5 1940.8C1140.7 1918.9 1141.9 1897.0 1143.0 1875.1C1144.2 1851.7 1145.1 1828.4 1146.3 1805.0C1148.0 1771.6 1149.3 1738.2 1151.7 1704.9C1154.1 1671.6 1157.3 1638.3 1160.7 1605.1C1162.0 1592.6 1164.2 1580.2 1166.0 1567.7C1166.7 1563.2 1167.5 1558.7 1168.2 1554.2C1169.4 1558.6 1170.5 1563.0 1171.7 1567.4C1174.0 1575.8 1176.0 1584.3 1178.9 1592.5C1181.5 1600.2 1184.4 1607.9 1188.1 1615.1C1191.4 1621.3 1195.3 1627.3 1199.8 1632.6C1203.3 1636.7 1207.5 1640.6 1212.0 1643.5C1217.1 1647.0 1223.2 1649.0 1228.8 1651.8C1230.0 1662.8 1231.3 1673.9 1232.5 1685.0C1234.2 1700.0 1235.9 1715.0 1237.5 1730.0C1239.3 1746.7 1240.5 1763.4 1242.5 1780.0C1244.5 1796.7 1247.2 1813.3 1249.5 1830.0C1251.2 1817.7 1253.4 1805.5 1254.5 1793.2C1256.4 1773.8 1256.7 1754.2 1258.4 1734.7C1259.8 1718.7 1261.4 1702.6 1264.1 1686.8C1265.8 1676.9 1268.6 1667.2 1271.6 1657.6C1273.4 1651.9 1275.8 1646.3 1278.4 1640.8C1280.5 1636.5 1283.0 1632.3 1285.6 1628.3C1287.5 1625.2 1289.9 1622.4 1292.0 1619.5L1297.0 1605.8C1297.9 1617.9 1298.6 1630.0 1299.7 1642.1C1301.3 1658.8 1302.9 1675.5 1304.9 1692.2C1307.0 1709.0 1309.3 1725.8 1311.8 1742.6C1313.6 1755.2 1315.8 1767.8 1317.8 1780.4C1319.8 1793.0 1321.8 1805.5 1323.8 1818.1C1325.0 1826.2 1325.8 1834.4 1327.4 1842.5C1330.2 1856.3 1333.0 1870.3 1337.1 1883.7C1339.6 1891.6 1343.6 1898.9 1347.2 1906.4C1348.2 1908.5 1349.6 1910.5 1350.8 1912.5C1352.6 1900.0 1354.3 1887.5 1356.2 1875.0C1358.0 1864.0 1360.1 1853.0 1362.0 1842.0C1363.7 1851.3 1365.3 1860.6 1367.1 1869.8C1369.7 1882.3 1372.1 1894.9 1375.4 1907.2C1378.8 1920.0 1382.9 1932.7 1387.4 1945.2C1390.9 1954.7 1395.4 1963.8 1399.6 1973.0C1403.3 1981.0 1407.3 1988.7 1411.2 1996.6C1412.0 1998.2 1412.9 1999.8 1413.8 2001.3C1417.6 2007.3 1421.2 2013.6 1425.4 2019.3C1429.8 2025.1 1434.6 2030.7 1439.7 2035.8C1444.9 2040.9 1450.7 2045.3 1456.2 2050.0C1457.8 2037.7 1459.8 2025.5 1460.9 2013.2C1462.3 1996.4 1462.7 1979.5 1463.7 1962.6C1465.0 1941.5 1465.6 1920.2 1467.8 1899.2C1469.3 1885.0 1471.7 1870.9 1474.8 1857.1C1476.8 1848.1 1479.8 1839.2 1483.1 1830.5C1485.2 1825.1 1488.1 1819.9 1491.1 1815.0C1493.7 1810.7 1496.9 1806.8 1500.0 1802.8C1501.5 1800.9 1503.3 1799.3 1505.0 1797.5C1508.7 1799.2 1512.6 1800.7 1516.2 1802.5C1520.2 1804.4 1524.1 1806.7 1528.0 1808.8C1530.7 1806.3 1533.1 1803.1 1536.2 1801.2C1539.6 1799.2 1543.6 1797.6 1547.5 1797.0C1552.4 1796.2 1557.5 1796.8 1562.5 1797.0C1566.4 1797.1 1570.3 1797.7 1574.2 1798.0C1575.5 1808.6 1576.9 1819.1 1578.1 1829.7C1578.4 1832.1 1578.6 1834.6 1578.8 1837.1C1580.2 1852.2 1581.3 1867.2 1582.9 1882.2C1584.6 1899.1 1586.1 1916.0 1588.9 1932.7C1591.6 1948.8 1594.9 1964.9 1599.4 1980.5C1602.8 1992.5 1607.4 2004.3 1612.6 2015.6C1616.1 2023.3 1620.4 2030.8 1625.3 2037.7C1629.9 2044.3 1635.3 2050.6 1641.0 2056.2C1645.3 2060.5 1650.2 2064.4 1655.3 2067.6C1661.5 2071.5 1668.4 2074.2 1675.0 2077.5C1676.2 2064.2 1677.3 2050.8 1678.8 2037.5C1680.7 2019.2 1682.9 2000.8 1685.0 1982.5C1688.3 1986.7 1691.5 1991.0 1695.0 1995.0C1698.1 1998.5 1701.3 2002.2 1705.0 2005.0C1709.6 2008.4 1715.0 2010.8 1720.0 2013.8C1721.7 2020.0 1723.1 2026.3 1725.1 2032.5C1728.1 2041.8 1731.1 2051.1 1734.9 2060.0C1739.5 2071.0 1744.6 2081.9 1750.1 2092.4C1754.6 2101.1 1759.6 2109.5 1765.0 2117.5C1771.9 2127.8 1779.7 2137.5 1787.0 2147.5C1788.3 2136.1 1789.5 2124.6 1791.0 2113.2C1792.8 2100.0 1793.9 2086.6 1797.1 2073.8C1798.9 2066.3 1802.2 2059.0 1806.0 2052.4C1808.4 2048.1 1812.0 2044.4 1815.7 2041.2C1818.1 2039.0 1821.3 2037.4 1824.4 2036.2C1827.4 2035.0 1830.8 2034.4 1834.1 2034.0C1837.5 2033.6 1841.1 2033.5 1844.6 2033.8C1849.1 2034.0 1853.6 2034.7 1858.1 2035.4C1861.5 2036.0 1864.9 2036.9 1868.2 2037.7C1870.5 2038.2 1872.7 2038.9 1875.0 2039.5C1876.2 2026.3 1877.3 2013.1 1878.8 2000.0C1880.6 1983.3 1882.5 1966.6 1885.0 1950.0C1886.7 1939.1 1888.8 1928.2 1891.2 1917.5C1892.5 1912.0 1894.6 1906.7 1896.2 1901.2C1897.6 1909.2 1899.1 1917.2 1900.4 1925.2C1903.0 1941.9 1905.3 1958.6 1907.9 1975.2C1910.1 1989.4 1912.1 2003.7 1914.9 2017.8C1917.8 2032.8 1921.0 2047.7 1924.9 2062.4C1927.8 2073.3 1931.3 2084.0 1935.2 2094.5C1938.3 2102.9 1942.0 2111.1 1945.8 2119.2C1948.6 2125.3 1952.0 2131.2 1955.2 2137.1C1957.9 2141.9 1960.7 2146.5 1963.6 2151.1C1967.2 2156.8 1970.8 2162.5 1974.7 2168.1C1979.8 2175.6 1985.0 2183.0 1990.4 2190.2C1995.4 2196.7 2000.6 2203.2 2005.9 2209.5C2009.6 2213.9 2013.6 2218.2 2017.5 2222.5" stroke="#000" stroke-width="3.20" stroke-linejoin="miter"/>
<path d="M186.2 2154.5C189.5 2153.6 192.7 2152.8 196.0 2152.0C199.2 2151.2 202.5 2150.4 205.7 2149.7C209.0 2148.9 212.2 2148.2 215.5 2147.5C218.8 2146.7 222.0 2146.0 225.3 2145.4C228.6 2144.7 231.8 2144.0 235.1 2143.4C238.4 2142.7 241.7 2142.1 245.0 2141.5C248.2 2140.8 251.5 2140.2 254.8 2139.6C258.1 2139.0 261.4 2138.4 264.7 2137.8C267.9 2137.2 271.2 2136.6 274.5 2136.0C277.8 2135.4 281.1 2134.8 284.4 2134.2C287.7 2133.6 291.0 2133.0 294.2 2132.4C297.5 2131.8 300.8 2131.2 304.1 2130.5C307.4 2129.9 310.7 2129.3 313.9 2128.6C317.2 2128.0 320.5 2127.3 323.8 2126.6C327.0 2125.9 330.3 2125.2 333.6 2124.5C336.8 2123.8 340.1 2123.1 343.3 2122.3C346.6 2121.5 349.8 2120.8 353.1 2120.0C356.3 2119.2 359.6 2118.3 362.8 2117.5C366.0 2116.6 369.2 2115.8 372.4 2114.8C375.5 2113.9 378.5 2112.7 381.5 2110.6C383.8 2108.9 386.2 2106.7 388.5 2103.5C390.2 2101.2 392.0 2098.3 393.7 2094.9C395.1 2092.2 396.4 2089.2 397.8 2085.8C398.9 2082.9 400.0 2079.8 401.1 2076.3C402.1 2073.3 403.1 2070.1 404.0 2066.7C404.9 2063.6 405.8 2060.4 406.7 2057.1C407.6 2053.9 408.4 2050.7 409.3 2047.4C410.1 2044.2 410.9 2040.9 411.7 2037.7C412.5 2034.4 413.3 2031.2 414.1 2027.9C415.0 2024.7 415.8 2021.4 416.6 2018.2C417.4 2014.9 418.2 2011.7 419.0 2008.5C419.8 2005.2 420.6 2002.0 421.5 1998.8C422.3 1995.5 423.1 1992.3 423.9 1989.0C424.7 1985.8 425.6 1982.6 426.4 1979.3C427.2 1976.1 428.0 1972.8 428.8 1969.6C429.7 1966.4 430.5 1963.1 431.3 1959.9C432.1 1956.7 433.0 1953.4 433.8 1950.2C434.6 1946.9 435.4 1943.7 436.2 1940.5C437.1 1937.2 437.9 1934.0 438.7 1930.7C439.5 1927.5 440.3 1924.3 441.1 1921.0C441.9 1917.8 442.7 1914.5 443.6 1911.3C444.4 1908.1 445.2 1904.8 446.0 1901.6C446.8 1898.3 447.5 1895.1 448.3 1891.8C449.1 1888.6 449.9 1885.3 450.7 1882.1C451.5 1878.8 452.3 1875.6 453.0 1872.3C453.8 1869.1 454.6 1865.8 455.4 1862.6C456.1 1859.3 456.9 1856.1 457.6 1852.8C458.4 1849.6 459.1 1846.3 459.9 1843.1C460.6 1839.8 461.4 1836.6 462.1 1833.3C462.9 1830.0 463.6 1826.8 464.3 1823.5C465.0 1820.3 465.8 1817.0 466.5 1813.7C467.2 1810.5 467.9 1807.2 468.6 1803.9C469.3 1800.7 470.0 1797.4 470.7 1794.1C471.4 1790.9 472.1 1787.6 472.8 1784.3C473.5 1781.0 474.2 1777.8 474.9 1774.5C475.5 1771.2 476.2 1767.9 476.9 1764.7C477.6 1761.4 478.3 1758.1 479.0 1754.9C479.7 1751.6 480.4 1748.3 481.1 1745.1C481.8 1741.8 482.5 1738.5 483.2 1735.3C484.0 1732.0 484.7 1728.7 485.4 1725.5C486.2 1722.2 486.9 1718.9 487.7 1715.7C488.5 1712.4 489.3 1709.1 490.1 1706.0C490.9 1702.6 491.8 1699.4 492.6 1696.3C493.5 1692.9 494.4 1689.7 495.4 1686.7C496.4 1683.2 497.4 1680.1 498.5 1677.1C499.7 1673.7 500.9 1670.6 502.1 1667.8C503.6 1664.3 505.1 1661.4 506.6 1658.9C508.7 1655.5 510.7 1652.9 512.8 1651.0C515.8 1648.3 518.8 1647.0 521.7 1646.9C524.9 1646.8 528.0 1648.0 531.1 1649.9C533.7 1651.5 536.3 1653.7 538.9 1656.2C541.2 1658.4 543.5 1660.9 545.9 1663.4C548.1 1665.9 550.3 1668.5 552.5 1670.9C554.8 1673.5 557.1 1676.0 559.4 1678.2C562.0 1680.7 564.5 1682.9 567.1 1684.6C570.2 1686.6 573.3 1687.9 576.4 1687.9C579.5 1688.0 582.6 1686.8 585.8 1684.7C588.3 1683.0 590.8 1680.8 593.3 1678.1C595.5 1675.9 597.7 1673.3 599.8 1670.6C601.9 1668.0 603.9 1665.3 606.0 1662.7C608.0 1660.0 610.1 1657.3 612.1 1654.7C614.3 1652.0 616.4 1649.4 618.6 1647.0C621.0 1644.4 623.4 1642.0 625.8 1640.1C628.8 1637.8 631.8 1636.3 634.7 1635.8C637.9 1635.3 641.1 1636.1 644.3 1637.9C646.9 1639.4 649.4 1641.6 652.0 1644.3C654.1 1646.6 656.2 1649.2 658.3 1652.1C660.1 1654.7 661.9 1657.5 663.7 1660.6C665.3 1663.3 667.0 1666.2 668.6 1669.3C670.1 1672.2 671.7 1675.1 673.2 1678.2C674.6 1681.1 676.1 1684.2 677.5 1687.3C678.9 1690.2 680.3 1693.3 681.7 1696.4C683.0 1699.4 684.4 1702.4 685.7 1705.5C687.0 1708.6 688.4 1711.7 689.7 1714.8C691.0 1717.8 692.3 1720.9 693.6 1724.0C694.9 1727.1 696.1 1730.1 697.4 1733.2C698.7 1736.3 700.0 1739.4 701.2 1742.5C702.5 1745.6 703.8 1748.7 705.0 1751.8C706.3 1754.9 707.5 1758.0 708.8 1761.1C710.0 1764.2 711.3 1767.3 712.5 1770.4C713.8 1773.5 715.0 1776.6 716.3 1779.7C717.5 1782.8 718.8 1785.9 720.0 1789.0C721.3 1792.1 722.5 1795.2 723.8 1798.3C725.1 1801.4 726.3 1804.5 727.6 1807.5C728.9 1810.7 730.2 1813.7 731.4 1816.8C732.7 1819.9 734.0 1823.0 735.3 1826.0C736.7 1829.1 738.0 1832.2 739.3 1835.3C740.6 1838.4 742.0 1841.4 743.3 1844.4C744.7 1847.5 746.1 1850.6 747.4 1853.6C748.9 1856.7 750.3 1859.7 751.7 1862.7C753.1 1865.7 754.6 1868.7 756.1 1871.7C757.6 1874.7 759.1 1877.7 760.6 1880.6C762.2 1883.6 763.8 1886.6 765.4 1889.4C767.0 1892.4 768.7 1895.3 770.3 1898.1C772.1 1901.1 773.8 1903.9 775.5 1906.7C777.4 1909.6 779.2 1912.4 781.0 1915.1C782.9 1917.9 784.8 1920.7 786.8 1923.3C788.8 1926.1 790.8 1928.7 792.8 1931.3C795.0 1934.0 797.1 1936.6 799.2 1939.0C801.5 1941.6 803.7 1944.1 806.0 1946.4C808.4 1948.9 810.8 1951.2 813.2 1953.4C815.7 1955.7 818.3 1957.9 820.8 1959.9C823.5 1962.0 826.2 1964.0 828.9 1965.8C831.7 1967.8 834.5 1969.6 837.4 1971.1C840.4 1972.8 843.5 1974.2 846.6 1975.1C849.9 1976.0 853.2 1976.4 856.5 1976.0C859.6 1975.5 862.6 1974.4 865.7 1972.3C868.1 1970.6 870.6 1968.4 873.0 1965.5C874.9 1963.2 876.9 1960.5 878.8 1957.3C880.3 1954.7 881.9 1951.7 883.5 1948.4C884.8 1945.7 886.2 1942.6 887.5 1939.3C888.6 1936.4 889.8 1933.2 890.9 1929.8C891.9 1926.9 893.0 1923.7 894.0 1920.3C894.9 1917.3 895.8 1914.0 896.7 1910.6C897.5 1907.6 898.3 1904.3 899.1 1900.9C899.9 1897.8 900.6 1894.5 901.4 1891.1C902.1 1888.0 902.8 1884.7 903.5 1881.4C904.2 1878.1 904.9 1874.9 905.6 1871.5C906.2 1868.3 906.9 1865.0 907.6 1861.7C908.2 1858.5 908.9 1855.2 909.5 1851.9C910.2 1848.6 910.9 1845.3 911.5 1842.1C912.2 1838.8 912.8 1835.5 913.5 1832.2C914.1 1828.9 914.8 1825.7 915.5 1822.4C916.1 1819.1 916.8 1815.8 917.5 1812.6C918.1 1809.3 918.8 1806.0 919.5 1802.8C920.2 1799.5 920.9 1796.2 921.5 1793.0C922.2 1789.7 922.9 1786.4 923.6 1783.1C924.3 1779.9 925.0 1776.6 925.7 1773.3C926.4 1770.1 927.1 1766.8 927.8 1763.5C928.6 1760.3 929.3 1757.0 930.0 1753.8C930.8 1750.5 931.5 1747.2 932.2 1744.0C933.0 1740.7 933.7 1737.4 934.5 1734.2C935.3 1730.9 936.0 1727.7 936.8 1724.5C937.6 1721.2 938.4 1717.9 939.2 1714.7C940.0 1711.4 940.8 1708.2 941.6 1705.0C942.5 1701.7 943.3 1698.5 944.2 1695.3C945.1 1692.0 946.0 1688.8 946.8 1685.7C947.8 1682.4 948.7 1679.1 949.6 1676.0C950.6 1672.7 951.6 1669.5 952.6 1666.4C953.6 1663.1 954.7 1660.0 955.7 1656.9C956.9 1653.6 958.0 1650.5 959.1 1647.5C960.4 1644.2 961.7 1641.1 962.9 1638.2C964.4 1634.9 965.8 1631.9 967.3 1629.2C969.1 1625.9 970.9 1623.1 972.8 1620.8C975.4 1617.6 978.0 1615.6 980.6 1614.8C983.8 1613.7 987.1 1614.4 990.3 1615.7C993.3 1617.0 996.2 1618.7 999.1 1620.6C1001.8 1622.3 1004.5 1624.3 1007.2 1626.5C1009.7 1628.5 1012.2 1630.7 1014.6 1633.2C1016.9 1635.5 1019.1 1637.9 1021.4 1640.6C1023.5 1643.0 1025.5 1645.7 1027.6 1648.5C1029.5 1651.1 1031.4 1653.8 1033.3 1656.7C1035.0 1659.4 1036.7 1662.3 1038.5 1665.3C1040.1 1668.1 1041.7 1671.0 1043.3 1674.1C1044.8 1676.9 1046.3 1679.9 1047.8 1683.0C1049.2 1685.9 1050.6 1689.0 1052.0 1692.1C1053.3 1695.1 1054.7 1698.2 1056.0 1701.3C1057.2 1704.3 1058.5 1707.4 1059.7 1710.6C1060.9 1713.7 1062.1 1716.8 1063.3 1720.0C1064.4 1723.1 1065.6 1726.2 1066.7 1729.4C1067.9 1732.5 1069.0 1735.7 1070.1 1738.9C1071.2 1742.0 1072.2 1745.2 1073.3 1748.4C1074.4 1751.5 1075.4 1754.7 1076.5 1757.9C1077.6 1761.0 1078.6 1764.2 1079.6 1767.4C1080.7 1770.5 1081.7 1773.7 1082.7 1776.9C1083.8 1780.1 1084.8 1783.3 1085.8 1786.4C1086.9 1789.7 1087.9 1792.8 1089.0 1796.0C1090.1 1799.2 1091.2 1802.4 1092.3 1805.4C1093.5 1808.7 1094.6 1811.8 1095.8 1814.8C1097.1 1818.1 1098.4 1821.2 1099.7 1824.0C1101.3 1827.4 1102.9 1830.4 1104.4 1832.9C1106.6 1836.4 1108.7 1838.8 1110.9 1840.5C1114.0 1842.8 1117.2 1843.4 1120.3 1842.4C1123.1 1841.6 1125.8 1839.7 1128.5 1836.9C1130.6 1834.7 1132.7 1832.1 1134.7 1829.0C1136.5 1826.4 1138.2 1823.6 1140.0 1820.5C1141.5 1817.7 1143.1 1814.7 1144.7 1811.6C1146.1 1808.7 1147.6 1805.7 1149.1 1802.6C1150.5 1799.6 1151.9 1796.6 1153.3 1793.5C1154.7 1790.5 1156.1 1787.4 1157.4 1784.4C1158.8 1781.3 1160.2 1778.3 1161.6 1775.3C1163.0 1772.2 1164.5 1769.2 1165.9 1766.2C1167.4 1763.1 1168.8 1760.1 1170.3 1757.2C1171.9 1754.1 1173.5 1751.2 1175.1 1748.4C1176.9 1745.3 1178.7 1742.5 1180.5 1740.0C1182.7 1737.0 1184.8 1734.4 1186.9 1732.3C1189.6 1729.7 1192.2 1727.7 1194.9 1726.2C1198.1 1724.5 1201.2 1723.6 1204.4 1723.3C1207.7 1723.0 1211.0 1723.5 1214.3 1724.5C1217.3 1725.5 1220.4 1726.9 1223.4 1728.6C1226.3 1730.3 1229.3 1732.1 1232.2 1733.5C1235.4 1735.0 1238.6 1735.9 1241.9 1735.5C1245.0 1735.2 1248.1 1733.7 1251.2 1731.9C1254.1 1730.3 1257.0 1728.4 1259.9 1727.1C1263.2 1725.7 1266.4 1725.0 1269.7 1725.3C1272.8 1725.6 1276.0 1726.7 1279.1 1728.5C1281.7 1730.1 1284.3 1732.2 1286.9 1734.7C1289.1 1736.9 1291.3 1739.4 1293.5 1742.3C1295.5 1744.7 1297.4 1747.5 1299.3 1750.4C1301.1 1753.1 1302.8 1756.0 1304.5 1759.0C1306.1 1761.8 1307.7 1764.8 1309.3 1767.8C1310.8 1770.7 1312.3 1773.7 1313.8 1776.8C1315.3 1779.7 1316.7 1782.7 1318.1 1785.8C1319.5 1788.8 1320.9 1791.8 1322.3 1794.9C1323.7 1797.9 1325.1 1801.0 1326.4 1804.1C1327.8 1807.1 1329.2 1810.2 1330.5 1813.2C1331.9 1816.3 1333.2 1819.3 1334.6 1822.4C1336.0 1825.5 1337.3 1828.5 1338.7 1831.5C1340.1 1834.6 1341.5 1837.6 1342.9 1840.6C1344.3 1843.7 1345.7 1846.7 1347.1 1849.7C1348.6 1852.8 1350.0 1855.8 1351.5 1858.8C1352.9 1861.8 1354.4 1864.8 1355.8 1867.8C1357.3 1870.8 1358.7 1873.8 1360.2 1876.8C1361.6 1879.8 1363.1 1882.8 1364.6 1885.8C1366.0 1888.8 1367.4 1891.8 1368.9 1894.9C1370.3 1897.9 1371.8 1900.9 1373.2 1903.9C1374.6 1906.9 1376.0 1910.0 1377.4 1913.0C1378.8 1916.0 1380.2 1919.1 1381.5 1922.2C1382.9 1925.2 1384.2 1928.2 1385.6 1931.3C1386.9 1934.4 1388.2 1937.4 1389.5 1940.5C1390.8 1943.6 1392.0 1946.7 1393.3 1949.8C1394.5 1952.9 1395.8 1956.0 1397.0 1959.1C1398.2 1962.2 1399.4 1965.4 1400.6 1968.5C1401.8 1971.6 1403.0 1974.7 1404.2 1977.8C1405.5 1981.0 1406.7 1984.1 1407.9 1987.2C1409.2 1990.3 1410.5 1993.4 1411.7 1996.4C1413.1 1999.6 1414.4 2002.7 1415.8 2005.6C1417.3 2008.8 1418.8 2011.8 1420.3 2014.6C1422.0 2017.8 1423.8 2020.6 1425.5 2023.1C1427.7 2026.2 1429.9 2028.7 1432.0 2030.7C1434.9 2033.3 1437.7 2035.0 1440.5 2035.8C1443.8 2036.7 1447.1 2036.5 1450.3 2035.0C1453.0 2033.9 1455.7 2031.9 1458.4 2029.2C1460.6 2027.1 1462.8 2024.5 1464.9 2021.6C1466.8 2019.1 1468.7 2016.3 1470.6 2013.4C1472.4 2010.6 1474.1 2007.8 1475.9 2004.8C1477.6 2002.0 1479.3 1999.1 1481.0 1996.2C1482.7 1993.3 1484.3 1990.4 1486.0 1987.5C1487.7 1984.6 1489.3 1981.7 1491.0 1978.8C1492.7 1975.9 1494.4 1973.0 1496.0 1970.2C1497.7 1967.3 1499.4 1964.4 1501.1 1961.5C1502.9 1958.6 1504.6 1955.8 1506.3 1953.0C1508.1 1950.1 1509.9 1947.2 1511.7 1944.5C1513.6 1941.6 1515.4 1938.8 1517.3 1936.2C1519.2 1933.3 1521.2 1930.6 1523.2 1928.1C1525.3 1925.3 1527.4 1922.7 1529.5 1920.3C1531.9 1917.7 1534.3 1915.3 1536.7 1913.3C1539.5 1911.0 1542.3 1909.1 1545.1 1907.9C1548.3 1906.5 1551.6 1905.9 1554.9 1906.3C1557.9 1906.7 1560.9 1907.9 1563.9 1910.2C1566.3 1912.0 1568.7 1914.4 1571.0 1917.3C1573.0 1919.7 1575.0 1922.4 1576.9 1925.4C1578.7 1928.0 1580.4 1930.9 1582.1 1934.0C1583.7 1936.8 1585.3 1939.7 1586.9 1942.8C1588.3 1945.7 1589.8 1948.7 1591.3 1951.8C1592.7 1954.7 1594.1 1957.8 1595.6 1960.9C1596.9 1963.9 1598.3 1966.9 1599.7 1970.0C1601.0 1973.0 1602.4 1976.1 1603.7 1979.2C1605.0 1982.2 1606.4 1985.3 1607.7 1988.4C1609.0 1991.4 1610.4 1994.5 1611.7 1997.6C1613.0 2000.6 1614.4 2003.7 1615.7 2006.7C1617.1 2009.8 1618.4 2012.9 1619.8 2015.9C1621.2 2019.0 1622.6 2022.0 1624.0 2025.0C1625.5 2028.1 1627.0 2031.1 1628.4 2034.0C1630.0 2037.1 1631.6 2040.0 1633.1 2042.9C1634.8 2045.9 1636.5 2048.8 1638.2 2051.5C1640.1 2054.5 1641.9 2057.2 1643.8 2059.8C1645.9 2062.6 1648.0 2065.2 1650.1 2067.6C1652.5 2070.2 1654.9 2072.6 1657.3 2074.6C1660.0 2076.9 1662.7 2078.8 1665.4 2080.4C1668.4 2082.2 1671.5 2083.5 1674.5 2084.5C1677.7 2085.7 1681.0 2086.5 1684.2 2087.2C1687.5 2087.8 1690.8 2088.4 1694.0 2089.0C1697.3 2089.7 1700.5 2090.4 1703.7 2091.6C1706.7 2092.7 1709.6 2094.2 1712.6 2096.2C1715.2 2097.9 1717.7 2100.1 1720.3 2102.6C1722.6 2104.8 1724.9 2107.3 1727.2 2109.8C1729.4 2112.3 1731.6 2114.8 1733.9 2117.4C1736.1 2119.9 1738.3 2122.4 1740.5 2124.9C1742.8 2127.4 1745.1 2129.8 1747.5 2132.1C1749.9 2134.5 1752.4 2136.8 1754.8 2138.9C1757.5 2141.1 1760.2 2143.1 1762.8 2144.9C1765.8 2146.8 1768.7 2148.4 1771.6 2149.7C1774.8 2151.1 1778.0 2152.0 1781.2 2152.4C1784.6 2152.9 1787.9 2152.8 1791.2 2152.1C1794.4 2151.5 1797.6 2150.4 1800.7 2149.0C1803.7 2147.7 1806.7 2146.2 1809.7 2144.5C1812.5 2142.8 1815.4 2141.1 1818.2 2139.3C1821.0 2137.5 1823.7 2135.6 1826.5 2133.6C1829.1 2131.7 1831.8 2129.7 1834.4 2127.4C1836.8 2125.3 1839.2 2123.1 1841.7 2120.6C1843.9 2118.3 1846.1 2115.8 1848.4 2113.1C1850.4 2110.6 1852.4 2108.0 1854.5 2105.1C1856.4 2102.5 1858.3 2099.7 1860.2 2096.9C1862.1 2094.2 1863.9 2091.4 1865.8 2088.6C1867.7 2085.8 1869.6 2083.0 1871.4 2080.3C1873.4 2077.5 1875.3 2074.8 1877.3 2072.2C1879.4 2069.4 1881.6 2066.8 1883.7 2064.5C1886.1 2061.8 1888.6 2059.5 1891.1 2057.7C1894.1 2055.5 1897.1 2054.1 1900.1 2053.7C1903.4 2053.1 1906.7 2053.6 1910.0 2054.8C1912.8 2055.9 1915.7 2057.7 1918.6 2059.9C1921.1 2061.7 1923.6 2064.0 1926.1 2066.5C1928.3 2068.8 1930.5 2071.3 1932.7 2074.0C1934.8 2076.5 1936.9 2079.1 1938.9 2081.9C1940.9 2084.5 1942.9 2087.2 1944.9 2090.0C1946.8 2092.7 1948.7 2095.4 1950.6 2098.2C1952.4 2100.9 1954.3 2103.7 1956.1 2106.6C1957.9 2109.3 1959.7 2112.2 1961.5 2115.0C1963.2 2117.8 1965.0 2120.7 1966.8 2123.6C1968.5 2126.4 1970.2 2129.2 1971.9 2132.1C1973.7 2135.0 1975.4 2137.9 1977.1 2140.8C1978.8 2143.6 1980.4 2146.5 1982.1 2149.4C1983.8 2152.3 1985.5 2155.2 1987.2 2158.1C1988.8 2161.0 1990.5 2163.9 1992.2 2166.8C1993.8 2169.6 1995.5 2172.5 1997.2 2175.4C1998.9 2178.3 2000.5 2181.2 2002.2 2184.1C2003.9 2187.0 2005.6 2189.9 2007.3 2192.8C2009.0 2195.7 2010.7 2198.5 2012.3 2201.4C2014.1 2204.3 2015.8 2207.2 2017.5 2210.0" stroke="#0000ff" stroke-width="3.20"/>
<path d="M186.2 2145.5C188.9 2146.1 191.5 2146.6 194.1 2147.0C196.8 2147.3 199.4 2147.5 202.1 2147.6C204.8 2147.6 207.4 2147.5 210.1 2147.4C212.7 2147.2 215.4 2146.9 218.0 2146.4C220.7 2146.0 223.3 2145.5 225.9 2145.0C228.5 2144.4 231.1 2143.7 233.7 2143.0C236.2 2142.3 238.8 2141.6 241.3 2140.7C243.9 2139.9 246.4 2139.1 248.9 2138.2C251.4 2137.3 253.9 2136.4 256.5 2135.5C259.0 2134.6 261.5 2133.7 264.0 2132.8C266.5 2131.8 269.0 2130.9 271.5 2130.0C274.0 2129.1 276.5 2128.2 279.0 2127.3C281.5 2126.4 284.1 2125.6 286.6 2124.8C289.2 2124.0 291.7 2123.2 294.3 2122.5C296.9 2121.8 299.4 2121.1 302.0 2120.5C304.6 2119.9 307.2 2119.3 309.8 2118.8C312.5 2118.3 315.1 2117.8 317.7 2117.3C320.3 2116.8 323.0 2116.4 325.6 2116.0C328.2 2115.6 330.9 2115.2 333.5 2114.9C336.2 2114.5 338.8 2114.2 341.5 2113.8C344.1 2113.5 346.7 2113.1 349.4 2112.8C352.0 2112.5 354.7 2112.1 357.3 2111.8C360.0 2111.4 362.6 2111.0 365.2 2110.6C367.9 2110.3 370.5 2109.9 373.2 2109.4C375.2 2109.1 377.3 2109.1 379.4 2105.1C380.3 2103.3 381.2 2100.6 382.1 2097.6C382.9 2095.0 383.7 2092.3 384.5 2089.9C385.6 2086.6 386.7 2084.4 387.8 2082.7C389.5 2080.1 391.1 2078.7 392.8 2076.4C394.0 2074.7 395.2 2072.5 396.4 2069.3C397.2 2067.1 398.1 2064.6 398.9 2061.7C399.6 2059.3 400.2 2056.7 400.9 2054.0C401.6 2051.5 402.2 2048.9 402.8 2046.2C403.4 2043.6 404.0 2041.0 404.5 2038.4C405.1 2035.8 405.6 2033.2 406.2 2030.5C406.8 2028.0 407.3 2025.3 407.8 2022.7C408.4 2020.1 408.9 2017.5 409.4 2014.9C409.9 2012.3 410.5 2009.6 411.0 2007.0C411.5 2004.4 412.0 2001.8 412.5 1999.1C413.0 1996.6 413.5 1993.9 414.0 1991.3C414.5 1988.7 415.0 1986.1 415.4 1983.4C415.9 1980.8 416.4 1978.2 416.9 1975.5C417.3 1972.9 417.8 1970.3 418.3 1967.7C418.7 1965.1 419.2 1962.4 419.7 1959.8C420.1 1957.2 420.6 1954.5 421.0 1951.9C421.5 1949.3 421.9 1946.7 422.4 1944.0C422.8 1941.4 423.3 1938.8 423.7 1936.1C424.1 1933.5 424.6 1930.9 425.0 1928.2C425.4 1925.6 425.9 1923.0 426.3 1920.3C426.7 1917.7 427.2 1915.1 427.6 1912.4C428.0 1909.8 428.4 1907.2 428.8 1904.5C429.3 1901.9 429.7 1899.3 430.1 1896.6C430.5 1894.0 430.9 1891.4 431.3 1888.7C431.7 1886.1 432.1 1883.4 432.6 1880.8C433.0 1878.2 433.4 1875.5 433.8 1872.9C434.2 1870.3 434.6 1867.6 435.0 1865.0C435.4 1862.4 435.8 1859.7 436.2 1857.1C436.6 1854.4 437.0 1851.8 437.4 1849.2C437.7 1846.5 438.1 1843.9 438.5 1841.2C438.9 1838.6 439.3 1836.0 439.7 1833.3C440.1 1830.7 440.5 1828.0 440.9 1825.4C441.2 1822.8 441.6 1820.1 442.0 1817.5C442.4 1814.9 442.8 1812.2 443.2 1809.6C443.5 1806.9 443.9 1804.3 444.3 1801.6C444.7 1799.0 445.0 1796.4 445.4 1793.7C445.8 1791.1 446.2 1788.4 446.6 1785.8C446.9 1783.2 447.3 1780.5 447.7 1777.9C448.0 1775.2 448.4 1772.6 448.8 1769.9C449.2 1767.3 449.5 1764.7 449.9 1762.0C450.3 1759.4 450.6 1756.7 451.0 1754.1C451.4 1751.5 451.7 1748.8 452.1 1746.2C452.5 1743.5 452.8 1740.9 453.2 1738.2C453.6 1735.6 453.9 1733.0 454.3 1730.3C454.7 1727.7 455.0 1725.0 455.4 1722.4C455.7 1719.7 456.1 1717.1 456.5 1714.5C456.8 1711.8 457.2 1709.2 457.6 1706.5C457.9 1703.9 458.3 1701.2 458.7 1698.6C459.0 1696.0 459.4 1693.3 459.7 1690.7C460.1 1688.0 460.5 1685.4 460.8 1682.7C461.2 1680.1 461.6 1677.5 461.9 1674.8C462.3 1672.2 462.7 1669.5 463.0 1666.9C463.4 1664.2 463.7 1661.6 464.1 1659.0C464.5 1656.3 464.8 1653.7 465.2 1651.0C465.6 1648.4 466.0 1645.7 466.3 1643.1C466.7 1640.5 467.1 1637.8 467.4 1635.2C467.8 1632.5 468.2 1629.9 468.6 1627.3C468.9 1624.6 469.3 1622.0 469.7 1619.3C470.1 1616.7 470.4 1614.1 470.8 1611.4C471.2 1608.8 471.6 1606.1 472.0 1603.5C472.4 1600.8 472.8 1598.2 473.1 1595.6C473.5 1592.9 473.9 1590.3 474.3 1587.7C474.7 1585.0 475.1 1582.4 475.5 1579.8C475.9 1577.1 476.3 1574.5 476.7 1571.8C477.1 1569.2 477.5 1566.6 477.9 1563.9C478.4 1561.3 478.8 1558.6 479.2 1556.0C479.6 1553.4 480.0 1550.7 480.5 1548.1C480.9 1545.5 481.3 1542.8 481.7 1540.2C482.2 1537.6 482.6 1534.9 483.1 1532.3C483.5 1529.7 484.0 1527.0 484.4 1524.5C484.9 1521.8 485.4 1519.2 485.8 1516.6C486.3 1513.9 486.8 1511.3 487.3 1508.7C487.8 1506.0 488.3 1503.4 488.7 1500.8C489.3 1498.2 489.8 1495.5 490.3 1493.0C490.8 1490.3 491.4 1487.7 491.9 1485.1C492.5 1482.5 493.0 1479.9 493.6 1477.3C494.2 1474.6 494.8 1472.0 495.4 1469.5C496.1 1466.8 496.7 1464.2 497.4 1461.8C498.1 1459.1 498.8 1456.5 499.5 1454.0C500.3 1451.3 501.0 1448.8 501.8 1446.4C502.7 1443.6 503.7 1441.1 504.6 1438.9C505.7 1436.1 506.9 1433.6 508.0 1431.7C509.8 1428.6 511.5 1426.6 513.3 1425.8C515.6 1424.7 517.9 1425.5 520.1 1428.4C521.5 1430.0 522.8 1432.3 524.1 1435.3C525.0 1437.5 526.0 1440.0 526.9 1442.8C527.7 1445.1 528.5 1447.7 529.2 1450.5C529.9 1452.9 530.6 1455.5 531.2 1458.2C531.8 1460.7 532.4 1463.3 533.0 1466.0C533.6 1468.5 534.1 1471.1 534.6 1473.9C535.1 1476.4 535.6 1479.0 536.2 1481.7C536.6 1484.2 537.1 1486.9 537.6 1489.6C538.0 1492.1 538.4 1494.8 538.9 1497.5C539.3 1500.0 539.7 1502.7 540.1 1505.4C540.5 1508.0 540.9 1510.6 541.3 1513.3C541.7 1515.9 542.1 1518.5 542.5 1521.2C542.8 1523.8 543.2 1526.5 543.6 1529.1C543.9 1531.8 544.3 1534.4 544.6 1537.1C545.0 1539.7 545.3 1542.3 545.7 1545.0C546.0 1547.6 546.4 1550.3 546.7 1552.9C547.0 1555.6 547.4 1558.2 547.7 1560.9C548.1 1563.5 548.4 1566.2 548.7 1568.8C549.0 1571.5 549.4 1574.1 549.7 1576.8C550.0 1579.4 550.3 1582.1 550.7 1584.7C551.0 1587.4 551.3 1590.0 551.6 1592.7C552.0 1595.3 552.3 1597.9 552.6 1600.6C552.9 1603.2 553.2 1605.9 553.6 1608.5C553.9 1611.2 554.2 1613.8 554.5 1616.5C554.8 1619.1 555.2 1621.8 555.5 1624.4C555.8 1627.1 556.1 1629.7 556.4 1632.4C556.8 1635.0 557.1 1637.7 557.4 1640.3C557.7 1643.0 558.1 1645.6 558.4 1648.3C558.7 1650.9 559.1 1653.6 559.4 1656.2C559.7 1658.9 560.1 1661.5 560.4 1664.1C560.7 1666.8 561.1 1669.5 561.4 1672.1C561.8 1674.8 562.1 1677.4 562.5 1680.0C562.8 1682.7 563.2 1685.3 563.5 1688.0C563.9 1690.6 564.3 1693.3 564.6 1695.9C565.0 1698.6 565.4 1701.2 565.8 1703.8C566.2 1706.5 566.6 1709.1 567.0 1711.7C567.4 1714.4 567.8 1717.1 568.2 1719.6C568.6 1722.3 569.1 1725.0 569.5 1727.5C570.0 1730.2 570.4 1732.9 570.9 1735.4C571.4 1738.1 571.9 1740.8 572.4 1743.2C573.0 1746.0 573.6 1748.6 574.1 1751.1C574.8 1753.8 575.4 1756.4 576.0 1758.8C576.8 1761.6 577.5 1764.2 578.2 1766.5C579.1 1769.4 579.9 1771.9 580.8 1774.1C581.9 1777.0 583.0 1779.4 584.1 1781.4C585.8 1784.3 587.4 1786.4 589.1 1787.6C591.5 1789.5 594.0 1789.9 596.5 1788.2C598.1 1787.1 599.6 1785.1 601.2 1781.9C602.2 1779.9 603.2 1777.4 604.1 1774.4C604.8 1772.2 605.6 1769.6 606.3 1766.7C606.9 1764.3 607.5 1761.7 608.1 1758.9C608.7 1756.4 609.2 1753.8 609.8 1751.1C610.3 1748.5 610.8 1745.9 611.4 1743.3C611.9 1740.7 612.4 1738.0 612.9 1735.4C613.4 1732.8 613.9 1730.2 614.4 1727.5C615.0 1724.9 615.5 1722.3 616.0 1719.7C616.5 1717.0 617.1 1714.4 617.6 1711.9C618.2 1709.2 618.7 1706.6 619.3 1704.0C619.9 1701.4 620.4 1698.8 621.0 1696.2C621.6 1693.6 622.2 1691.0 622.8 1688.4C623.4 1685.8 624.1 1683.2 624.7 1680.6C625.4 1678.0 626.0 1675.4 626.7 1672.9C627.4 1670.2 628.1 1667.7 628.8 1665.2C629.6 1662.5 630.3 1660.0 631.1 1657.5C631.9 1654.8 632.7 1652.3 633.5 1649.9C634.5 1647.2 635.4 1644.7 636.3 1642.4C637.3 1639.7 638.4 1637.2 639.4 1635.0C640.7 1632.3 642.0 1630.0 643.3 1628.0C645.0 1625.3 646.8 1623.3 648.6 1622.1C651.1 1620.3 653.6 1620.1 656.1 1621.5C657.9 1622.5 659.7 1624.4 661.5 1627.2C662.7 1629.2 664.0 1631.5 665.2 1634.3C666.2 1636.5 667.2 1639.0 668.1 1641.8C668.9 1644.1 669.8 1646.6 670.6 1649.4C671.3 1651.8 672.0 1654.4 672.7 1657.1C673.4 1659.6 674.0 1662.1 674.7 1664.9C675.3 1667.4 675.9 1670.0 676.5 1672.7C677.0 1675.2 677.6 1677.8 678.2 1680.5C678.7 1683.0 679.2 1685.6 679.7 1688.3C680.2 1690.9 680.8 1693.5 681.3 1696.2C681.7 1698.8 682.2 1701.4 682.7 1704.1C683.2 1706.6 683.7 1709.3 684.1 1711.9C684.6 1714.5 685.0 1717.2 685.5 1719.8C685.9 1722.4 686.4 1725.0 686.8 1727.7C687.3 1730.3 687.7 1732.9 688.1 1735.6C688.6 1738.2 689.0 1740.8 689.4 1743.5C689.8 1746.1 690.2 1748.8 690.7 1751.4C691.1 1754.0 691.5 1756.7 691.9 1759.3C692.3 1761.9 692.7 1764.6 693.1 1767.2C693.5 1769.8 693.9 1772.5 694.3 1775.1C694.7 1777.8 695.1 1780.4 695.5 1783.0C695.9 1785.7 696.3 1788.3 696.7 1791.0C697.1 1793.6 697.5 1796.2 697.9 1798.9C698.3 1801.5 698.7 1804.1 699.1 1806.8C699.5 1809.4 699.9 1812.1 700.3 1814.7C700.7 1817.3 701.1 1820.0 701.4 1822.6C701.8 1825.3 702.2 1827.9 702.6 1830.5C703.0 1833.2 703.4 1835.8 703.8 1838.5C704.2 1841.1 704.6 1843.7 705.0 1846.4C705.4 1849.0 705.8 1851.6 706.2 1854.3C706.6 1856.9 707.0 1859.6 707.4 1862.2C707.8 1864.8 708.2 1867.5 708.6 1870.1C709.0 1872.8 709.4 1875.4 709.8 1878.0C710.2 1880.7 710.6 1883.3 711.0 1885.9C711.4 1888.6 711.9 1891.2 712.3 1893.8C712.7 1896.5 713.1 1899.1 713.6 1901.7C714.0 1904.4 714.4 1907.0 714.9 1909.6C715.3 1912.3 715.7 1914.9 716.2 1917.5C716.6 1920.2 717.1 1922.8 717.5 1925.4C718.0 1928.1 718.5 1930.7 718.9 1933.3C719.4 1936.0 719.9 1938.6 720.4 1941.2C720.9 1943.8 721.4 1946.4 721.9 1949.0C722.4 1951.7 722.9 1954.3 723.4 1956.9C724.0 1959.5 724.5 1962.2 725.1 1964.7C725.7 1967.4 726.3 1970.0 726.9 1972.5C727.5 1975.2 728.1 1977.8 728.7 1980.3C729.4 1983.0 730.1 1985.5 730.7 1988.0C731.5 1990.7 732.2 1993.3 732.9 1995.7C733.7 1998.4 734.5 2000.9 735.3 2003.3C736.2 2006.0 737.1 2008.5 738.0 2010.9C739.1 2013.6 740.1 2016.0 741.1 2018.3C742.3 2020.9 743.5 2023.3 744.7 2025.4C746.1 2028.0 747.6 2030.2 749.1 2032.1C750.9 2034.5 752.8 2036.4 754.7 2037.8C757.1 2039.6 759.5 2040.6 761.9 2041.0C764.5 2041.5 767.2 2041.2 769.8 2040.5C772.2 2039.8 774.7 2038.7 777.1 2037.3C779.3 2036.0 781.6 2034.6 783.8 2032.9C785.9 2031.3 787.9 2029.6 790.0 2027.8C792.0 2026.1 793.9 2024.3 795.9 2022.4C797.8 2020.6 799.7 2018.7 801.6 2016.8C803.5 2015.0 805.4 2013.1 807.3 2011.2C809.2 2009.3 811.1 2007.4 813.0 2005.6C814.9 2003.7 816.9 2001.8 818.8 2000.1C820.8 1998.2 822.8 1996.5 824.9 1994.8C827.0 1993.1 829.2 1991.5 831.3 1990.1C833.7 1988.6 836.0 1987.4 838.4 1986.4C840.9 1985.3 843.5 1984.6 846.1 1984.3C848.7 1984.0 851.4 1984.2 854.0 1984.8C856.6 1985.4 859.2 1986.2 861.8 1986.8C864.4 1987.3 867.1 1987.7 869.7 1987.3C872.1 1987.0 874.5 1986.0 876.9 1984.1C878.7 1982.7 880.5 1980.8 882.2 1978.2C883.5 1976.2 884.8 1973.9 886.1 1971.2C887.2 1969.0 888.2 1966.6 889.2 1963.8C890.1 1961.5 891.0 1959.0 891.9 1956.2C892.6 1953.9 893.4 1951.3 894.1 1948.6C894.8 1946.1 895.5 1943.6 896.1 1940.8C896.7 1938.4 897.3 1935.8 897.9 1933.0C898.5 1930.5 899.1 1927.9 899.6 1925.2C900.1 1922.7 900.6 1920.1 901.2 1917.3C901.6 1914.8 902.1 1912.2 902.6 1909.5C903.0 1906.9 903.5 1904.3 903.9 1901.6C904.4 1899.0 904.8 1896.4 905.2 1893.7C905.6 1891.1 906.0 1888.5 906.4 1885.8C906.8 1883.2 907.2 1880.6 907.6 1877.9C907.9 1875.3 908.3 1872.6 908.7 1869.9C909.0 1867.3 909.4 1864.7 909.7 1862.0C910.1 1859.4 910.4 1856.8 910.8 1854.1C911.1 1851.5 911.4 1848.8 911.8 1846.1C912.1 1843.5 912.4 1840.9 912.8 1838.2C913.1 1835.6 913.4 1832.9 913.7 1830.2C914.0 1827.6 914.3 1825.0 914.7 1822.3C915.0 1819.7 915.3 1817.0 915.6 1814.3C915.9 1811.7 916.2 1809.1 916.5 1806.4C916.8 1803.8 917.1 1801.1 917.4 1798.4C917.7 1795.8 918.0 1793.2 918.2 1790.5C918.5 1787.9 918.8 1785.2 919.1 1782.5C919.4 1779.9 919.7 1777.2 920.0 1774.6C920.3 1771.9 920.5 1769.3 920.8 1766.6C921.1 1764.0 921.4 1761.3 921.7 1758.7C921.9 1756.0 922.2 1753.4 922.5 1750.7C922.8 1748.1 923.0 1745.4 923.3 1742.7C923.6 1740.1 923.9 1737.4 924.1 1734.8C924.4 1732.1 924.7 1729.5 924.9 1726.8C925.2 1724.2 925.5 1721.5 925.8 1718.9C926.0 1716.2 926.3 1713.6 926.6 1710.9C926.8 1708.2 927.1 1705.6 927.4 1702.9C927.6 1700.3 927.9 1697.6 928.2 1695.0C928.4 1692.3 928.7 1689.7 929.0 1687.0C929.2 1684.4 929.5 1681.7 929.8 1679.0C930.0 1676.4 930.3 1673.7 930.6 1671.1C930.8 1668.4 931.1 1665.8 931.4 1663.1C931.6 1660.5 931.9 1657.8 932.2 1655.2C932.4 1652.5 932.7 1649.8 932.9 1647.2C933.2 1644.5 933.5 1641.9 933.7 1639.2C934.0 1636.6 934.3 1633.9 934.5 1631.3C934.8 1628.6 935.1 1626.0 935.3 1623.3C935.6 1620.6 935.9 1618.0 936.2 1615.3C936.4 1612.7 936.7 1610.0 937.0 1607.4C937.2 1604.7 937.5 1602.1 937.8 1599.4C938.0 1596.8 938.3 1594.1 938.6 1591.5C938.9 1588.8 939.1 1586.1 939.4 1583.5C939.7 1580.8 940.0 1578.2 940.2 1575.5C940.5 1572.9 940.8 1570.2 941.1 1567.6C941.4 1564.9 941.6 1562.3 941.9 1559.6C942.2 1557.0 942.5 1554.3 942.8 1551.7C943.1 1549.0 943.4 1546.3 943.6 1543.7C943.9 1541.0 944.2 1538.4 944.5 1535.8C944.8 1533.1 945.1 1530.4 945.4 1527.8C945.7 1525.1 946.0 1522.5 946.3 1519.8C946.6 1517.2 946.9 1514.5 947.2 1511.9C947.5 1509.2 947.9 1506.6 948.2 1504.0C948.5 1501.3 948.8 1498.6 949.1 1496.0C949.4 1493.3 949.8 1490.7 950.1 1488.1C950.4 1485.4 950.8 1482.7 951.1 1480.1C951.4 1477.4 951.8 1474.8 952.1 1472.2C952.5 1469.5 952.8 1466.9 953.2 1464.3C953.5 1461.6 953.9 1458.9 954.3 1456.3C954.7 1453.6 955.0 1451.0 955.4 1448.4C955.8 1445.7 956.2 1443.1 956.6 1440.5C957.0 1437.8 957.4 1435.1 957.9 1432.6C958.3 1429.9 958.8 1427.2 959.2 1424.7C959.7 1422.0 960.2 1419.3 960.6 1416.8C961.1 1414.1 961.7 1411.5 962.2 1409.0C962.8 1406.2 963.3 1403.6 963.9 1401.2C964.6 1398.4 965.2 1395.8 965.9 1393.4C966.7 1390.5 967.5 1388.0 968.3 1385.8C969.4 1382.7 970.5 1380.3 971.6 1378.5C973.6 1375.0 975.7 1373.7 977.7 1374.7C979.3 1375.4 980.9 1377.5 982.4 1380.9C983.4 1383.0 984.3 1385.5 985.2 1388.4C985.9 1390.7 986.6 1393.3 987.4 1396.2C988.0 1398.6 988.6 1401.2 989.2 1404.0C989.7 1406.4 990.3 1409.0 990.8 1411.8C991.3 1414.3 991.8 1416.9 992.3 1419.6C992.8 1422.2 993.2 1424.8 993.7 1427.5C994.1 1430.1 994.6 1432.7 995.0 1435.4C995.4 1438.0 995.9 1440.6 996.3 1443.3C996.7 1445.9 997.1 1448.6 997.5 1451.2C997.9 1453.8 998.3 1456.5 998.7 1459.1C999.1 1461.8 999.5 1464.4 999.9 1467.1C1000.2 1469.7 1000.6 1472.3 1001.0 1475.0C1001.4 1477.6 1001.7 1480.2 1002.1 1482.9C1002.5 1485.5 1002.8 1488.2 1003.2 1490.8C1003.6 1493.5 1003.9 1496.1 1004.3 1498.8C1004.7 1501.4 1005.0 1504.0 1005.4 1506.7C1005.7 1509.3 1006.1 1512.0 1006.4 1514.6C1006.8 1517.3 1007.2 1519.9 1007.5 1522.6C1007.9 1525.2 1008.2 1527.8 1008.6 1530.5C1008.9 1533.1 1009.3 1535.8 1009.7 1538.4C1010.0 1541.1 1010.4 1543.7 1010.7 1546.4C1011.1 1549.0 1011.4 1551.6 1011.8 1554.3C1012.2 1556.9 1012.5 1559.6 1012.9 1562.2C1013.3 1564.9 1013.6 1567.5 1014.0 1570.1C1014.4 1572.8 1014.7 1575.4 1015.1 1578.1C1015.5 1580.7 1015.8 1583.4 1016.2 1586.0C1016.6 1588.6 1016.9 1591.3 1017.3 1593.9C1017.7 1596.6 1018.0 1599.2 1018.4 1601.8C1018.8 1604.5 1019.2 1607.1 1019.5 1609.8C1019.9 1612.4 1020.3 1615.1 1020.7 1617.7C1021.1 1620.3 1021.4 1623.0 1021.8 1625.6C1022.2 1628.3 1022.6 1630.9 1023.0 1633.5C1023.4 1636.2 1023.7 1638.8 1024.1 1641.4C1024.5 1644.1 1024.9 1646.7 1025.3 1649.4C1025.7 1652.0 1026.1 1654.6 1026.5 1657.3C1026.9 1659.9 1027.3 1662.6 1027.6 1665.2C1028.0 1667.8 1028.4 1670.5 1028.8 1673.1C1029.2 1675.8 1029.6 1678.4 1030.0 1681.0C1030.4 1683.7 1030.9 1686.3 1031.3 1688.9C1031.7 1691.6 1032.1 1694.2 1032.5 1696.8C1032.9 1699.5 1033.3 1702.1 1033.7 1704.7C1034.1 1707.4 1034.5 1710.0 1035.0 1712.6C1035.4 1715.3 1035.8 1717.9 1036.2 1720.5C1036.6 1723.2 1037.1 1725.8 1037.5 1728.4C1037.9 1731.1 1038.3 1733.7 1038.8 1736.3C1039.2 1739.0 1039.6 1741.6 1040.1 1744.2C1040.5 1746.9 1040.9 1749.5 1041.4 1752.1C1041.8 1754.8 1042.3 1757.4 1042.7 1760.0C1043.2 1762.7 1043.6 1765.3 1044.1 1767.9C1044.5 1770.6 1045.0 1773.2 1045.4 1775.8C1045.9 1778.4 1046.4 1781.1 1046.8 1783.7C1047.3 1786.3 1047.8 1789.0 1048.2 1791.6C1048.7 1794.2 1049.2 1796.8 1049.7 1799.4C1050.2 1802.1 1050.6 1804.7 1051.1 1807.3C1051.6 1809.9 1052.1 1812.6 1052.6 1815.2C1053.1 1817.8 1053.6 1820.4 1054.1 1823.0C1054.6 1825.7 1055.1 1828.3 1055.7 1830.9C1056.2 1833.5 1056.7 1836.1 1057.2 1838.7C1057.8 1841.4 1058.3 1844.0 1058.8 1846.6C1059.4 1849.2 1059.9 1851.8 1060.5 1854.4C1061.0 1857.0 1061.6 1859.6 1062.1 1862.2C1062.7 1864.9 1063.3 1867.5 1063.8 1870.0C1064.4 1872.7 1065.0 1875.3 1065.6 1877.9C1066.2 1880.5 1066.8 1883.1 1067.4 1885.7C1068.0 1888.3 1068.6 1890.9 1069.2 1893.4C1069.8 1896.1 1070.5 1898.7 1071.1 1901.2C1071.8 1903.8 1072.4 1906.4 1073.1 1909.0C1073.7 1911.6 1074.4 1914.2 1075.1 1916.7C1075.8 1919.3 1076.5 1921.9 1077.2 1924.4C1077.9 1927.1 1078.7 1929.6 1079.4 1932.1C1080.2 1934.8 1080.9 1937.3 1081.7 1939.8C1082.5 1942.4 1083.3 1945.0 1084.1 1947.4C1084.9 1950.0 1085.8 1952.6 1086.6 1955.0C1087.5 1957.6 1088.4 1960.2 1089.3 1962.6C1090.2 1965.2 1091.2 1967.7 1092.2 1970.0C1093.2 1972.7 1094.3 1975.1 1095.4 1977.4C1096.6 1980.0 1097.9 1982.4 1099.1 1984.4C1100.8 1987.1 1102.4 1989.2 1104.0 1990.7C1106.4 1993.0 1108.8 1993.9 1111.2 1993.0C1113.2 1992.4 1115.1 1990.6 1117.1 1987.8C1118.4 1985.9 1119.6 1983.6 1120.9 1980.7C1121.9 1978.6 1122.9 1976.1 1123.8 1973.3C1124.7 1971.0 1125.5 1968.4 1126.3 1965.7C1127.0 1963.3 1127.8 1960.7 1128.5 1958.0C1129.1 1955.5 1129.8 1952.9 1130.4 1950.2C1131.0 1947.7 1131.6 1945.1 1132.2 1942.4C1132.8 1939.9 1133.3 1937.3 1133.9 1934.6C1134.4 1932.1 1134.9 1929.4 1135.4 1926.7C1135.9 1924.2 1136.4 1921.6 1136.9 1918.9C1137.3 1916.3 1137.8 1913.7 1138.3 1911.0C1138.7 1908.4 1139.2 1905.8 1139.6 1903.1C1140.1 1900.5 1140.5 1897.9 1140.9 1895.2C1141.4 1892.6 1141.8 1890.0 1142.2 1887.3C1142.6 1884.7 1143.0 1882.1 1143.4 1879.4C1143.8 1876.8 1144.2 1874.2 1144.6 1871.5C1145.0 1868.9 1145.4 1866.2 1145.8 1863.6C1146.2 1861.0 1146.6 1858.3 1147.0 1855.7C1147.4 1853.0 1147.7 1850.4 1148.1 1847.7C1148.5 1845.1 1148.9 1842.5 1149.2 1839.8C1149.6 1837.2 1150.0 1834.5 1150.4 1831.9C1150.7 1829.3 1151.1 1826.6 1151.5 1824.0C1151.8 1821.3 1152.2 1818.7 1152.6 1816.0C1152.9 1813.4 1153.3 1810.8 1153.6 1808.1C1154.0 1805.5 1154.4 1802.8 1154.7 1800.2C1155.1 1797.5 1155.4 1794.9 1155.8 1792.2C1156.1 1789.6 1156.5 1787.0 1156.9 1784.3C1157.2 1781.7 1157.6 1779.0 1157.9 1776.4C1158.3 1773.7 1158.6 1771.1 1159.0 1768.5C1159.3 1765.8 1159.7 1763.2 1160.1 1760.5C1160.4 1757.9 1160.8 1755.2 1161.1 1752.6C1161.5 1749.9 1161.8 1747.3 1162.2 1744.7C1162.6 1742.0 1162.9 1739.4 1163.3 1736.7C1163.6 1734.1 1164.0 1731.4 1164.4 1728.8C1164.7 1726.1 1165.1 1723.5 1165.4 1720.9C1165.8 1718.2 1166.2 1715.6 1166.5 1712.9C1166.9 1710.3 1167.3 1707.6 1167.6 1705.0C1168.0 1702.4 1168.4 1699.7 1168.8 1697.1C1169.1 1694.4 1169.5 1691.8 1169.9 1689.2C1170.3 1686.5 1170.7 1683.9 1171.0 1681.3C1171.4 1678.6 1171.8 1676.0 1172.2 1673.3C1172.6 1670.7 1173.0 1668.0 1173.4 1665.4C1173.8 1662.8 1174.2 1660.1 1174.6 1657.5C1175.0 1654.8 1175.5 1652.2 1175.9 1649.6C1176.3 1646.9 1176.7 1644.3 1177.2 1641.7C1177.6 1639.0 1178.0 1636.4 1178.5 1633.8C1178.9 1631.1 1179.4 1628.5 1179.9 1625.9C1180.3 1623.3 1180.8 1620.6 1181.3 1618.1C1181.8 1615.4 1182.3 1612.7 1182.8 1610.2C1183.3 1607.5 1183.9 1604.9 1184.4 1602.4C1185.0 1599.7 1185.5 1597.0 1186.1 1594.5C1186.7 1591.8 1187.3 1589.2 1188.0 1586.8C1188.7 1584.0 1189.3 1581.4 1190.0 1579.0C1190.8 1576.3 1191.6 1573.7 1192.5 1571.4C1193.4 1568.6 1194.4 1566.1 1195.4 1564.0C1196.8 1561.0 1198.2 1558.7 1199.6 1557.2C1202.0 1554.7 1204.3 1554.4 1206.6 1556.4C1208.1 1557.6 1209.6 1559.8 1211.1 1562.9C1212.1 1565.0 1213.1 1567.5 1214.1 1570.4C1214.9 1572.7 1215.7 1575.2 1216.5 1578.0C1217.2 1580.4 1217.9 1583.0 1218.6 1585.7C1219.2 1588.2 1219.9 1590.8 1220.5 1593.5C1221.1 1596.0 1221.7 1598.6 1222.4 1601.3C1223.0 1603.8 1223.6 1606.4 1224.2 1609.1C1224.8 1611.7 1225.4 1614.3 1226.0 1616.9C1226.6 1619.5 1227.1 1622.1 1227.7 1624.7C1228.4 1627.3 1229.0 1629.9 1229.6 1632.5C1230.2 1635.1 1230.8 1637.7 1231.5 1640.2C1232.1 1642.9 1232.8 1645.5 1233.5 1648.0C1234.2 1650.7 1235.0 1653.2 1235.7 1655.7C1236.5 1658.4 1237.3 1660.9 1238.1 1663.3C1239.0 1666.0 1239.9 1668.5 1240.7 1670.9C1241.7 1673.5 1242.7 1676.0 1243.7 1678.3C1244.9 1680.9 1246.0 1683.3 1247.1 1685.5C1248.5 1688.1 1249.8 1690.4 1251.1 1692.5C1252.7 1694.9 1254.2 1697.1 1255.8 1699.0C1257.6 1701.2 1259.5 1703.1 1261.3 1704.7C1263.4 1706.6 1265.5 1708.2 1267.6 1709.7C1269.8 1711.2 1272.1 1712.6 1274.3 1714.0C1276.6 1715.4 1278.8 1716.8 1281.0 1718.4C1283.0 1719.9 1285.1 1721.6 1287.1 1723.6C1288.8 1725.3 1290.6 1727.3 1292.3 1729.6C1293.8 1731.6 1295.2 1733.8 1296.6 1736.4C1297.8 1738.5 1299.0 1740.9 1300.2 1743.5C1301.3 1745.8 1302.3 1748.2 1303.3 1750.9C1304.2 1753.2 1305.1 1755.7 1306.0 1758.4C1306.8 1760.8 1307.5 1763.4 1308.3 1766.1C1309.0 1768.5 1309.7 1771.1 1310.5 1773.8C1311.1 1776.3 1311.8 1778.9 1312.4 1781.6C1313.0 1784.1 1313.6 1786.7 1314.3 1789.3C1314.8 1791.9 1315.4 1794.5 1316.0 1797.1C1316.6 1799.7 1317.2 1802.3 1317.8 1805.0C1318.3 1807.6 1318.9 1810.2 1319.5 1812.8C1320.1 1815.4 1320.6 1818.0 1321.2 1820.6C1321.8 1823.2 1322.4 1825.8 1323.0 1828.4C1323.6 1831.1 1324.2 1833.7 1324.8 1836.2C1325.4 1838.9 1326.0 1841.4 1326.7 1844.0C1327.3 1846.6 1328.0 1849.2 1328.7 1851.7C1329.4 1854.4 1330.0 1856.9 1330.7 1859.4C1331.5 1862.1 1332.2 1864.6 1332.9 1867.2C1333.6 1869.7 1334.4 1872.3 1335.1 1874.8C1335.9 1877.4 1336.6 1880.0 1337.3 1882.5C1338.1 1885.1 1338.8 1887.6 1339.6 1890.2C1340.3 1892.8 1341.1 1895.3 1341.8 1897.9C1342.6 1900.5 1343.3 1903.0 1344.0 1905.6C1344.8 1908.1 1345.5 1910.7 1346.3 1913.3C1347.0 1915.8 1347.8 1918.4 1348.5 1920.9C1349.3 1923.5 1350.0 1926.1 1350.8 1928.6C1351.5 1931.2 1352.3 1933.8 1353.0 1936.3C1353.8 1938.9 1354.6 1941.4 1355.3 1944.0C1356.1 1946.5 1356.8 1949.1 1357.6 1951.6C1358.4 1954.2 1359.2 1956.8 1359.9 1959.3C1360.7 1961.9 1361.5 1964.4 1362.3 1966.9C1363.1 1969.5 1363.9 1972.1 1364.7 1974.6C1365.5 1977.2 1366.3 1979.7 1367.1 1982.2C1367.9 1984.8 1368.7 1987.3 1369.5 1989.8C1370.4 1992.4 1371.2 1994.9 1372.0 1997.4C1372.9 2000.0 1373.7 2002.5 1374.6 2005.0C1375.5 2007.6 1376.4 2010.1 1377.2 2012.6C1378.1 2015.1 1379.0 2017.6 1379.9 2020.1C1380.9 2022.6 1381.8 2025.1 1382.8 2027.6C1383.7 2030.1 1384.7 2032.6 1385.7 2035.0C1386.7 2037.6 1387.7 2040.0 1388.7 2042.4C1389.8 2045.0 1390.9 2047.4 1391.9 2049.8C1393.1 2052.3 1394.2 2054.7 1395.4 2057.0C1396.6 2059.5 1397.8 2061.9 1399.0 2064.1C1400.4 2066.6 1401.7 2068.9 1403.1 2071.0C1404.6 2073.4 1406.1 2075.6 1407.6 2077.6C1409.4 2079.9 1411.2 2081.9 1413.0 2083.6C1415.1 2085.6 1417.3 2087.1 1419.5 2088.1C1422.1 2089.2 1424.7 2089.6 1427.3 2089.0C1429.6 2088.4 1431.9 2087.2 1434.2 2085.1C1436.0 2083.6 1437.7 2081.6 1439.4 2079.1C1440.8 2077.1 1442.2 2074.8 1443.5 2072.2C1444.7 2070.0 1445.8 2067.6 1447.0 2065.0C1448.0 2062.7 1448.9 2060.2 1449.9 2057.5C1450.8 2055.2 1451.7 2052.7 1452.6 2050.0C1453.4 2047.6 1454.2 2045.0 1455.0 2042.4C1455.7 2039.9 1456.5 2037.3 1457.2 2034.7C1457.9 2032.2 1458.6 2029.6 1459.3 2026.9C1459.9 2024.4 1460.6 2021.8 1461.2 2019.2C1461.8 2016.6 1462.4 2014.1 1463.0 2011.4C1463.6 2008.8 1464.2 2006.2 1464.7 2003.6C1465.3 2001.0 1465.8 1998.4 1466.4 1995.7C1466.9 1993.2 1467.4 1990.6 1467.9 1987.9C1468.4 1985.3 1468.9 1982.7 1469.4 1980.0C1469.9 1977.4 1470.4 1974.8 1470.9 1972.1C1471.4 1969.6 1471.8 1966.9 1472.3 1964.3C1472.8 1961.7 1473.2 1959.0 1473.7 1956.4C1474.1 1953.8 1474.6 1951.1 1475.1 1948.5C1475.5 1945.9 1476.0 1943.3 1476.4 1940.6C1476.9 1938.0 1477.3 1935.4 1477.8 1932.7C1478.2 1930.1 1478.7 1927.5 1479.1 1924.8C1479.6 1922.2 1480.0 1919.6 1480.5 1917.0C1480.9 1914.3 1481.4 1911.7 1481.8 1909.1C1482.3 1906.4 1482.8 1903.8 1483.2 1901.2C1483.7 1898.5 1484.2 1895.9 1484.6 1893.3C1485.1 1890.6 1485.6 1888.0 1486.1 1885.4C1486.6 1882.8 1487.1 1880.1 1487.6 1877.6C1488.1 1874.9 1488.6 1872.3 1489.2 1869.7C1489.7 1867.0 1490.3 1864.4 1490.8 1861.9C1491.4 1859.2 1492.0 1856.6 1492.6 1854.1C1493.2 1851.4 1493.9 1848.8 1494.5 1846.3C1495.2 1843.6 1496.0 1841.0 1496.7 1838.6C1497.5 1836.0 1498.3 1833.5 1499.1 1831.0C1500.0 1828.5 1500.8 1825.9 1501.7 1823.4C1502.5 1820.9 1503.4 1818.3 1504.2 1815.8C1505.1 1813.3 1506.0 1810.8 1506.9 1808.3C1507.8 1805.7 1508.7 1803.2 1509.6 1800.8C1510.5 1798.2 1511.5 1795.7 1512.5 1793.3C1513.5 1790.7 1514.5 1788.2 1515.5 1785.9C1516.6 1783.3 1517.8 1780.9 1518.9 1778.6C1520.2 1776.1 1521.5 1773.7 1522.7 1771.6C1524.3 1769.0 1525.9 1766.9 1527.5 1765.2C1529.8 1762.8 1532.0 1761.5 1534.3 1761.2C1536.7 1760.9 1539.1 1761.8 1541.6 1763.8C1543.3 1765.3 1545.0 1767.3 1546.7 1769.9C1548.1 1771.9 1549.4 1774.2 1550.7 1776.8C1551.8 1779.0 1553.0 1781.5 1554.1 1784.1C1555.0 1786.4 1556.0 1788.9 1557.0 1791.6C1557.9 1793.9 1558.8 1796.5 1559.6 1799.1C1560.4 1801.5 1561.3 1804.1 1562.1 1806.7C1562.8 1809.2 1563.6 1811.8 1564.3 1814.4C1565.0 1816.9 1565.7 1819.5 1566.4 1822.1C1567.1 1824.6 1567.8 1827.2 1568.5 1829.9C1569.1 1832.4 1569.7 1835.0 1570.4 1837.6C1571.0 1840.2 1571.6 1842.8 1572.2 1845.4C1572.8 1848.0 1573.4 1850.6 1574.0 1853.2C1574.6 1855.8 1575.1 1858.4 1575.7 1861.0C1576.2 1863.6 1576.8 1866.2 1577.4 1868.9C1577.9 1871.5 1578.4 1874.1 1579.0 1876.7C1579.5 1879.3 1580.0 1881.9 1580.5 1884.6C1581.1 1887.2 1581.6 1889.8 1582.1 1892.4C1582.6 1895.0 1583.1 1897.6 1583.6 1900.3C1584.1 1902.9 1584.6 1905.5 1585.1 1908.1C1585.6 1910.7 1586.1 1913.4 1586.6 1916.0C1587.1 1918.6 1587.6 1921.2 1588.1 1923.9C1588.5 1926.5 1589.0 1929.1 1589.5 1931.7C1590.0 1934.3 1590.5 1937.0 1591.0 1939.6C1591.4 1942.2 1591.9 1944.8 1592.4 1947.5C1592.9 1950.1 1593.3 1952.7 1593.8 1955.4C1594.3 1958.0 1594.8 1960.6 1595.2 1963.2C1595.7 1965.9 1596.2 1968.5 1596.7 1971.1C1597.1 1973.7 1597.6 1976.4 1598.1 1979.0C1598.5 1981.6 1599.0 1984.2 1599.5 1986.9C1600.0 1989.5 1600.4 1992.1 1600.9 1994.7C1601.4 1997.4 1601.9 2000.0 1602.3 2002.6C1602.8 2005.2 1603.3 2007.9 1603.8 2010.5C1604.3 2013.1 1604.7 2015.7 1605.2 2018.3C1605.7 2021.0 1606.2 2023.6 1606.7 2026.2C1607.2 2028.9 1607.7 2031.5 1608.2 2034.1C1608.7 2036.7 1609.2 2039.3 1609.7 2041.9C1610.2 2044.6 1610.7 2047.2 1611.2 2049.8C1611.7 2052.4 1612.2 2055.1 1612.7 2057.7C1613.2 2060.3 1613.8 2062.9 1614.3 2065.5C1614.8 2068.1 1615.4 2070.8 1615.9 2073.3C1616.4 2076.0 1617.0 2078.6 1617.5 2081.2C1618.1 2083.8 1618.7 2086.4 1619.2 2089.0C1619.8 2091.6 1620.4 2094.2 1621.0 2096.8C1621.6 2099.5 1622.2 2102.1 1622.8 2104.6C1623.4 2107.2 1624.1 2109.8 1624.7 2112.4C1625.4 2115.0 1626.1 2117.6 1626.7 2120.1C1627.4 2122.8 1628.1 2125.4 1628.9 2127.8C1629.6 2130.5 1630.4 2133.1 1631.2 2135.5C1632.0 2138.2 1632.9 2140.7 1633.7 2143.1C1634.7 2145.8 1635.6 2148.3 1636.6 2150.5C1637.8 2153.3 1638.9 2155.7 1640.1 2157.7C1641.7 2160.5 1643.2 2162.7 1644.8 2164.2C1647.2 2166.4 1649.6 2167.3 1652.0 2166.7C1654.1 2166.2 1656.2 2164.6 1658.4 2162.0C1659.8 2160.2 1661.2 2158.0 1662.7 2155.3C1663.8 2153.1 1665.0 2150.7 1666.2 2148.1C1667.2 2145.8 1668.2 2143.3 1669.2 2140.7C1670.2 2138.3 1671.2 2135.8 1672.1 2133.2C1673.0 2130.8 1673.9 2128.3 1674.8 2125.7C1675.7 2123.2 1676.6 2120.7 1677.5 2118.2C1678.4 2115.7 1679.3 2113.1 1680.2 2110.6C1681.1 2108.1 1682.0 2105.6 1682.9 2103.1C1683.8 2100.5 1684.8 2098.0 1685.7 2095.6C1686.7 2093.0 1687.7 2090.5 1688.7 2088.2C1689.9 2085.6 1691.0 2083.2 1692.1 2080.9C1693.4 2078.4 1694.7 2076.0 1696.0 2073.9C1697.6 2071.4 1699.1 2069.3 1700.7 2067.5C1702.7 2065.2 1704.7 2063.4 1706.7 2062.2C1709.2 2060.7 1711.8 2060.0 1714.3 2060.2C1716.8 2060.3 1719.3 2061.2 1721.8 2062.8C1723.8 2064.1 1725.8 2065.8 1727.8 2068.0C1729.4 2069.8 1731.1 2071.9 1732.8 2074.3C1734.2 2076.3 1735.6 2078.6 1737.1 2081.0C1738.3 2083.2 1739.6 2085.6 1740.9 2088.1C1742.1 2090.3 1743.2 2092.7 1744.4 2095.3C1745.5 2097.6 1746.6 2100.0 1747.7 2102.6C1748.7 2105.0 1749.8 2107.4 1750.8 2109.9C1751.8 2112.4 1752.8 2114.8 1753.9 2117.3C1754.9 2119.8 1755.9 2122.3 1757.0 2124.7C1758.0 2127.2 1759.1 2129.7 1760.2 2132.0C1761.3 2134.6 1762.4 2137.0 1763.6 2139.3C1764.8 2141.8 1766.1 2144.2 1767.3 2146.3C1768.9 2148.9 1770.4 2151.1 1771.9 2152.9C1774.0 2155.4 1776.1 2157.0 1778.3 2157.6C1780.8 2158.3 1783.3 2157.6 1785.8 2155.8C1787.6 2154.4 1789.5 2152.5 1791.4 2150.1C1792.9 2148.1 1794.4 2145.9 1795.8 2143.5C1797.2 2141.3 1798.5 2139.0 1799.8 2136.5C1801.0 2134.2 1802.2 2131.8 1803.4 2129.4C1804.6 2127.0 1805.8 2124.6 1806.9 2122.2C1808.0 2119.8 1809.2 2117.3 1810.3 2114.9C1811.4 2112.5 1812.5 2110.1 1813.7 2107.6C1814.8 2105.2 1815.9 2102.8 1817.1 2100.4C1818.2 2097.9 1819.4 2095.5 1820.6 2093.2C1821.8 2090.8 1823.1 2088.4 1824.3 2086.1C1825.7 2083.7 1827.0 2081.4 1828.4 2079.3C1829.9 2076.9 1831.4 2074.7 1833.0 2072.7C1834.6 2070.5 1836.2 2068.4 1837.9 2066.4C1839.5 2064.3 1841.1 2062.2 1842.7 2060.0C1844.2 2058.0 1845.7 2055.8 1847.2 2053.4C1848.5 2051.3 1849.9 2049.0 1851.2 2046.4C1852.3 2044.2 1853.5 2041.8 1854.6 2039.2C1855.6 2036.9 1856.6 2034.5 1857.6 2031.8C1858.5 2029.4 1859.4 2026.9 1860.3 2024.2C1861.1 2021.8 1862.0 2019.2 1862.8 2016.7C1863.7 2014.1 1864.5 2011.5 1865.4 2009.1C1866.3 2006.4 1867.3 2003.9 1868.2 2001.6C1869.3 1998.8 1870.5 1996.3 1871.6 1994.4C1873.5 1991.2 1875.3 1989.6 1877.2 1988.8C1879.7 1987.5 1882.3 1987.1 1884.8 1986.5C1887.5 1986.0 1890.1 1985.5 1892.7 1985.4C1895.4 1985.2 1898.1 1985.1 1900.7 1985.6C1902.9 1986.1 1905.1 1987.2 1907.3 1989.8C1908.7 1991.6 1910.1 1993.9 1911.6 1996.6C1912.7 1998.8 1913.8 2001.2 1914.9 2003.9C1915.8 2006.2 1916.8 2008.7 1917.7 2011.4C1918.6 2013.8 1919.4 2016.3 1920.3 2019.0C1921.1 2021.4 1921.9 2024.0 1922.6 2026.6C1923.4 2029.1 1924.1 2031.7 1924.9 2034.3C1925.6 2036.8 1926.3 2039.4 1927.0 2042.0C1927.7 2044.5 1928.4 2047.1 1929.1 2049.7C1929.7 2052.3 1930.4 2054.9 1931.1 2057.5C1931.7 2060.0 1932.4 2062.6 1933.0 2065.2C1933.7 2067.8 1934.3 2070.4 1935.0 2073.0C1935.6 2075.6 1936.2 2078.2 1936.9 2080.8C1937.5 2083.4 1938.1 2086.0 1938.8 2088.5C1939.4 2091.1 1940.1 2093.7 1940.7 2096.3C1941.3 2098.9 1942.0 2101.5 1942.6 2104.1C1943.3 2106.7 1943.9 2109.3 1944.6 2111.9C1945.2 2114.5 1945.9 2117.0 1946.5 2119.6C1947.2 2122.2 1947.9 2124.8 1948.5 2127.4C1949.2 2130.0 1949.9 2132.5 1950.6 2135.1C1951.3 2137.7 1952.0 2140.3 1952.7 2142.8C1953.4 2145.4 1954.1 2148.0 1954.8 2150.5C1955.5 2153.1 1956.3 2155.7 1957.0 2158.2C1957.8 2160.8 1958.5 2163.4 1959.2 2165.9C1960.0 2168.5 1960.8 2171.1 1961.5 2173.6C1962.3 2176.2 1963.1 2178.7 1963.9 2181.2C1964.7 2183.8 1965.5 2186.3 1966.3 2188.9C1967.1 2191.4 1968.0 2194.0 1968.8 2196.5C1969.7 2199.0 1970.5 2201.6 1971.4 2204.0C1972.2 2206.6 1973.1 2209.1 1974.0 2211.6C1974.9 2214.1 1975.8 2216.6 1976.8 2219.1C1977.7 2221.6 1978.7 2224.1 1979.6 2226.6C1980.6 2229.1 1981.6 2231.6 1982.6 2234.0C1983.6 2236.5 1984.7 2239.0 1985.7 2241.4C1986.8 2243.9 1987.9 2246.3 1989.0 2248.7C1990.1 2251.2 1991.3 2253.6 1992.4 2255.9C1993.6 2258.4 1994.9 2260.7 1996.1 2263.0C1997.4 2265.5 1998.7 2267.8 2000.0 2270.0" stroke="#ff0000" stroke-width="3.20"/>
</g>
<path d="M186.5 74.2V1006.5H2017.9" fill="none" stroke="#262626" stroke-width="1"/>
<line x1="491.5" y1="1006.5" x2="491.5" y2="988.0" stroke="#262626" stroke-width="1"/>
<line x1="796.5" y1="1006.5" x2="796.5" y2="988.0" stroke="#262626" stroke-width="1"/>
<line x1="1101.5" y1="1006.5" x2="1101.5" y2="988.0" stroke="#262626" stroke-width="1"/>
<line x1="1407.5" y1="1006.5" x2="1407.5" y2="988.0" stroke="#262626" stroke-width="1"/>
<line x1="1712.5" y1="1006.5" x2="1712.5" y2="988.0" stroke="#262626" stroke-width="1"/>
<line x1="2017.5" y1="1006.5" x2="2017.5" y2="988.0" stroke="#262626" stroke-width="1"/>
<line x1="186.5" y1="937.5" x2="205.0" y2="937.5" stroke="#262626" stroke-width="1"/>
<line x1="186.5" y1="765.5" x2="205.0" y2="765.5" stroke="#262626" stroke-width="1"/>
<line x1="186.5" y1="592.5" x2="205.0" y2="592.5" stroke="#262626" stroke-width="1"/>
<line x1="186.5" y1="419.5" x2="205.0" y2="419.5" stroke="#262626" stroke-width="1"/>
<line x1="186.5" y1="247.5" x2="205.0" y2="247.5" stroke="#262626" stroke-width="1"/>
<line x1="186.5" y1="74.5" x2="205.0" y2="74.5" stroke="#262626" stroke-width="1"/>
<path d="M186.5 1337.2V2269.5H2018.1" fill="none" stroke="#262626" stroke-width="1"/>
<line x1="352.5" y1="2269.5" x2="352.5" y2="2251.0" stroke="#262626" stroke-width="1"/>
<line x1="519.5" y1="2269.5" x2="519.5" y2="2251.0" stroke="#262626" stroke-width="1"/>
<line x1="685.5" y1="2269.5" x2="685.5" y2="2251.0" stroke="#262626" stroke-width="1"/>
<line x1="852.5" y1="2269.5" x2="852.5" y2="2251.0" stroke="#262626" stroke-width="1"/>
<line x1="1018.5" y1="2269.5" x2="1018.5" y2="2251.0" stroke="#262626" stroke-width="1"/>
<line x1="1185.5" y1="2269.5" x2="1185.5" y2="2251.0" stroke="#262626" stroke-width="1"/>
<line x1="1351.5" y1="2269.5" x2="1351.5" y2="2251.0" stroke="#262626" stroke-width="1"/>
<line x1="1518.5" y1="2269.5" x2="1518.5" y2="2251.0" stroke="#262626" stroke-width="1"/>
<line x1="1684.5" y1="2269.5" x2="1684.5" y2="2251.0" stroke="#262626" stroke-width="1"/>
<line x1="1851.5" y1="2269.5" x2="1851.5" y2="2251.0" stroke="#262626" stroke-width="1"/>
<line x1="2017.5" y1="2269.5" x2="2017.5" y2="2251.0" stroke="#262626" stroke-width="1"/>
<line x1="186.5" y1="2211.5" x2="205.0" y2="2211.5" stroke="#262626" stroke-width="1"/>
<line x1="186.5" y1="1920.5" x2="205.0" y2="1920.5" stroke="#262626" stroke-width="1"/>
<line x1="186.5" y1="1629.5" x2="205.0" y2="1629.5" stroke="#262626" stroke-width="1"/>
<line x1="186.5" y1="1337.5" x2="205.0" y2="1337.5" stroke="#262626" stroke-width="1"/>
<text x="181.4" y="1044.3" font-size="28" text-anchor="middle" textLength="14.9" lengthAdjust="spacingAndGlyphs" fill="#262626" font-family="Liberation Sans, sans-serif">0</text>
<text x="481.0" y="1044.3" font-size="28" text-anchor="middle" textLength="29.7" lengthAdjust="spacingAndGlyphs" fill="#262626" font-family="Liberation Sans, sans-serif">50</text>
<text x="782.1" y="1044.3" font-size="28" text-anchor="middle" textLength="44.6" lengthAdjust="spacingAndGlyphs" fill="#262626" font-family="Liberation Sans, sans-serif">100</text>
<text x="1087.2" y="1044.3" font-size="28" text-anchor="middle" textLength="44.6" lengthAdjust="spacingAndGlyphs" fill="#262626" font-family="Liberation Sans, sans-serif">150</text>
<text x="1392.4" y="1044.3" font-size="28" text-anchor="middle" textLength="44.6" lengthAdjust="spacingAndGlyphs" fill="#262626" font-family="Liberation Sans, sans-serif">200</text>
<text x="1697.6" y="1044.3" font-size="28" text-anchor="middle" textLength="44.6" lengthAdjust="spacingAndGlyphs" fill="#262626" font-family="Liberation Sans, sans-serif">250</text>
<text x="2002.8" y="1044.3" font-size="28" text-anchor="middle" textLength="44.6" lengthAdjust="spacingAndGlyphs" fill="#262626" font-family="Liberation Sans, sans-serif">300</text>
<text x="146.2" y="933.8" font-size="28" textLength="14.9" lengthAdjust="spacingAndGlyphs" fill="#262626" font-family="Liberation Sans, sans-serif">0</text>
<text x="146.2" y="761.2" font-size="28" textLength="14.9" lengthAdjust="spacingAndGlyphs" fill="#262626" font-family="Liberation Sans, sans-serif">5</text>
<text x="123.0" y="588.6" font-size="28" textLength="29.7" lengthAdjust="spacingAndGlyphs" fill="#262626" font-family="Liberation Sans, sans-serif">10</text>
<text x="123.0" y="415.9" font-size="28" textLength="29.7" lengthAdjust="spacingAndGlyphs" fill="#262626" font-family="Liberation Sans, sans-serif">15</text>
<text x="123.0" y="243.3" font-size="28" textLength="29.7" lengthAdjust="spacingAndGlyphs" fill="#262626" font-family="Liberation Sans, sans-serif">20</text>
<text x="123.0" y="70.6" font-size="28" textLength="29.7" lengthAdjust="spacingAndGlyphs" fill="#262626" font-family="Liberation Sans, sans-serif">25</text>
<text x="171.8" y="2307.6" font-size="28" text-anchor="middle" textLength="44.6" lengthAdjust="spacingAndGlyphs" fill="#262626" font-family="Liberation Sans, sans-serif">130</text>
<text x="338.3" y="2307.6" font-size="28" text-anchor="middle" textLength="44.6" lengthAdjust="spacingAndGlyphs" fill="#262626" font-family="Liberation Sans, sans-serif">135</text>
<text x="504.7" y="2307.6" font-size="28" text-anchor="middle" textLength="44.6" lengthAdjust="spacingAndGlyphs" fill="#262626" font-family="Liberation Sans, sans-serif">140</text>
<text x="671.2" y="2307.6" font-size="28" text-anchor="middle" textLength="44.6" lengthAdjust="spacingAndGlyphs" fill="#262626" font-family="Liberation Sans, sans-serif">145</text>
<text x="837.7" y="2307.6" font-size="28" text-anchor="middle" textLength="44.6" lengthAdjust="spacingAndGlyphs" fill="#262626" font-family="Liberation Sans, sans-serif">150</text>
<text x="1004.1" y="2307.6" font-size="28" text-anchor="middle" textLength="44.6" lengthAdjust="spacingAndGlyphs" fill="#262626" font-family="Liberation Sans, sans-serif">155</text>
<text x="1170.6" y="2307.6" font-size="28" text-anchor="middle" textLength="44.6" lengthAdjust="spacingAndGlyphs" fill="#262626" font-family="Liberation Sans, sans-serif">160</text>
<text x="1337.1" y="2307.6" font-size="28" text-anchor="middle" textLength="44.6" lengthAdjust="spacingAndGlyphs" fill="#262626" font-family="Liberation Sans, sans-serif">165</text>
<text x="1503.6" y="2307.6" font-size="28" text-anchor="middle" textLength="44.6" lengthAdjust="spacingAndGlyphs" fill="#262626" font-family="Liberation Sans, sans-serif">170</text>
<text x="1670.0" y="2307.6" font-size="28" text-anchor="middle" textLength="44.6" lengthAdjust="spacingAndGlyphs" fill="#262626" font-family="Liberation Sans, sans-serif">175</text>
<text x="1836.5" y="2307.6" font-size="28" text-anchor="middle" textLength="44.6" lengthAdjust="spacingAndGlyphs" fill="#262626" font-family="Liberation Sans, sans-serif">180</text>
<text x="2003.0" y="2307.6" font-size="28" text-anchor="middle" textLength="44.6" lengthAdjust="spacingAndGlyphs" fill="#262626" font-family="Liberation Sans, sans-serif">185</text>
<text x="123.0" y="2207.5" font-size="28" textLength="29.7" lengthAdjust="spacingAndGlyphs" fill="#262626" font-family="Liberation Sans, sans-serif">10</text>
<text x="123.0" y="1916.2" font-size="28" textLength="29.7" lengthAdjust="spacingAndGlyphs" fill="#262626" font-family="Liberation Sans, sans-serif">15</text>
<text x="123.0" y="1625.0" font-size="28" textLength="29.7" lengthAdjust="spacingAndGlyphs" fill="#262626" font-family="Liberation Sans, sans-serif">20</text>
<text x="123.0" y="1333.8" font-size="28" textLength="29.7" lengthAdjust="spacingAndGlyphs" fill="#262626" font-family="Liberation Sans, sans-serif">25</text>
<text x="1030.9" y="1104.8" font-size="30.6" text-anchor="middle" textLength="212.5" lengthAdjust="spacingAndGlyphs" fill="#262626" font-family="Liberation Sans, sans-serif">Relative time [s]</text>
<text transform="translate(58.8,620.9) rotate(-90)" font-size="30.5" text-anchor="middle" fill="#262626" font-family="Liberation Sans, sans-serif">U</text>
<text transform="translate(88,588.6) rotate(-90)" font-size="24.5" text-anchor="middle" fill="#262626" font-family="Liberation Sans, sans-serif">g</text>
<text transform="translate(63.8,532.0) rotate(-90)" font-size="30" text-anchor="middle" fill="#262626" font-family="Liberation Sans, sans-serif">[m/s]</text>
<text x="1030.9" y="2367.6" font-size="30.6" text-anchor="middle" textLength="212.5" lengthAdjust="spacingAndGlyphs" fill="#262626" font-family="Liberation Sans, sans-serif">Relative time [s]</text>
<text transform="translate(58.8,1884.0) rotate(-90)" font-size="30.5" text-anchor="middle" fill="#262626" font-family="Liberation Sans, sans-serif">U</text>
<text transform="translate(88,1851.7) rotate(-90)" font-size="24.5" text-anchor="middle" fill="#262626" font-family="Liberation Sans, sans-serif">g</text>
<text transform="translate(63.8,1795.1) rotate(-90)" font-size="30" text-anchor="middle" fill="#262626" font-family="Liberation Sans, sans-serif">[m/s]</text>
<text font-family="Liberation Serif, serif" fill="#000" font-size="87"><tspan x="1001.5" y="1226.8" font-size="84">(</tspan><tspan x="1030.1" y="1226.2" font-weight="bold" textLength="62.8" lengthAdjust="spacingAndGlyphs">A</tspan><tspan x="1095.3" y="1226.8" font-size="84">)</tspan></text>
<text font-family="Liberation Serif, serif" fill="#000" font-size="87"><tspan x="1006.1" y="2490.7" font-size="84">(</tspan><tspan x="1034.8" y="2490.1" font-weight="bold" textLength="50.5" lengthAdjust="spacingAndGlyphs">B</tspan><tspan x="1089.1" y="2490.7" font-size="84">)</tspan></text>
<rect x="1735.5" y="90.5" width="266.0" height="215.0" fill="#fff" stroke="#262626" stroke-width="1"/>
<line x1="1741" y1="128.5" x2="1804" y2="128.5" stroke="#000" stroke-width="1.0"/>
<text x="1808" y="116.5" font-size="22.6" fill="#262626" font-family="Liberation Sans, sans-serif">U</text>
<text font-size="19.3" fill="#262626" font-family="Liberation Sans, sans-serif"><tspan x="1838.1 1855.1 1867.1 1891.3 1898.5 1917.9" y="140.6 128.2 136.3 139.5 136.6 140.6">g-wind</tspan></text>
<line x1="1741" y1="198.5" x2="1804" y2="198.5" stroke="#0000ff" stroke-width="3.0"/>
<text x="1808" y="186.2" font-size="22.6" fill="#262626" font-family="Liberation Sans, sans-serif">U</text>
<text font-size="19.3" fill="#262626" font-family="Liberation Sans, sans-serif"><tspan x="1838.1 1855.2 1866.3 1875.2" y="210.2 198.2 209.7 206.6">g-lo</tspan></text>
<line x1="1741" y1="268.5" x2="1804" y2="268.5" stroke="#ff0000" stroke-width="3.0"/>
<text x="1808" y="255.8" font-size="22.6" fill="#262626" font-family="Liberation Sans, sans-serif">U</text>
<text font-size="19.3" fill="#262626" font-family="Liberation Sans, sans-serif"><tspan x="1838.1 1855.2 1867.1 1886.2 1902.5 1912.0" y="279.5 267.1 275.5 275.5 278.4 278.4">g-est </tspan><tspan x="1925.0 1950.0 1974.1" y="279.5 279.5 278.4">CCF</tspan></text>
<rect x="1735.5" y="1353.5" width="266.0" height="215.0" fill="#fff" stroke="#262626" stroke-width="1"/>
<line x1="1741" y1="1391.5" x2="1804" y2="1391.5" stroke="#000" stroke-width="3.1"/>
<text x="1808" y="1379.5" font-size="22.6" fill="#262626" font-family="Liberation Sans, sans-serif">U</text>
<text font-size="19.3" fill="#262626" font-family="Liberation Sans, sans-serif"><tspan x="1838.1 1855.1 1867.1 1891.3 1898.5 1917.9" y="1403.6 1391.2 1399.3 1402.5 1399.6 1403.6">g-wind</tspan></text>
<line x1="1741" y1="1461.5" x2="1804" y2="1461.5" stroke="#0000ff" stroke-width="3.0"/>
<text x="1808" y="1449.2" font-size="22.6" fill="#262626" font-family="Liberation Sans, sans-serif">U</text>
<text font-size="19.3" fill="#262626" font-family="Liberation Sans, sans-serif"><tspan x="1838.1 1855.2 1866.3 1875.2" y="1473.2 1461.2 1472.7 1469.6">g-lo</tspan></text>
<line x1="1741" y1="1531.5" x2="1804" y2="1531.5" stroke="#ff0000" stroke-width="3.0"/>
<text x="1808" y="1518.8" font-size="22.6" fill="#262626" font-family="Liberation Sans, sans-serif">U</text>
<text font-size="19.3" fill="#262626" font-family="Liberation Sans, sans-serif"><tspan x="1838.1 1855.2 1867.1 1886.2 1902.5 1912.0" y="1542.5 1530.1 1538.5 1538.5 1541.4 1541.4">g-est </tspan><tspan x="1925.0 1950.0 1974.1" y="1542.5 1542.5 1541.4">CCF</tspan></text>
</svg></body></html>
